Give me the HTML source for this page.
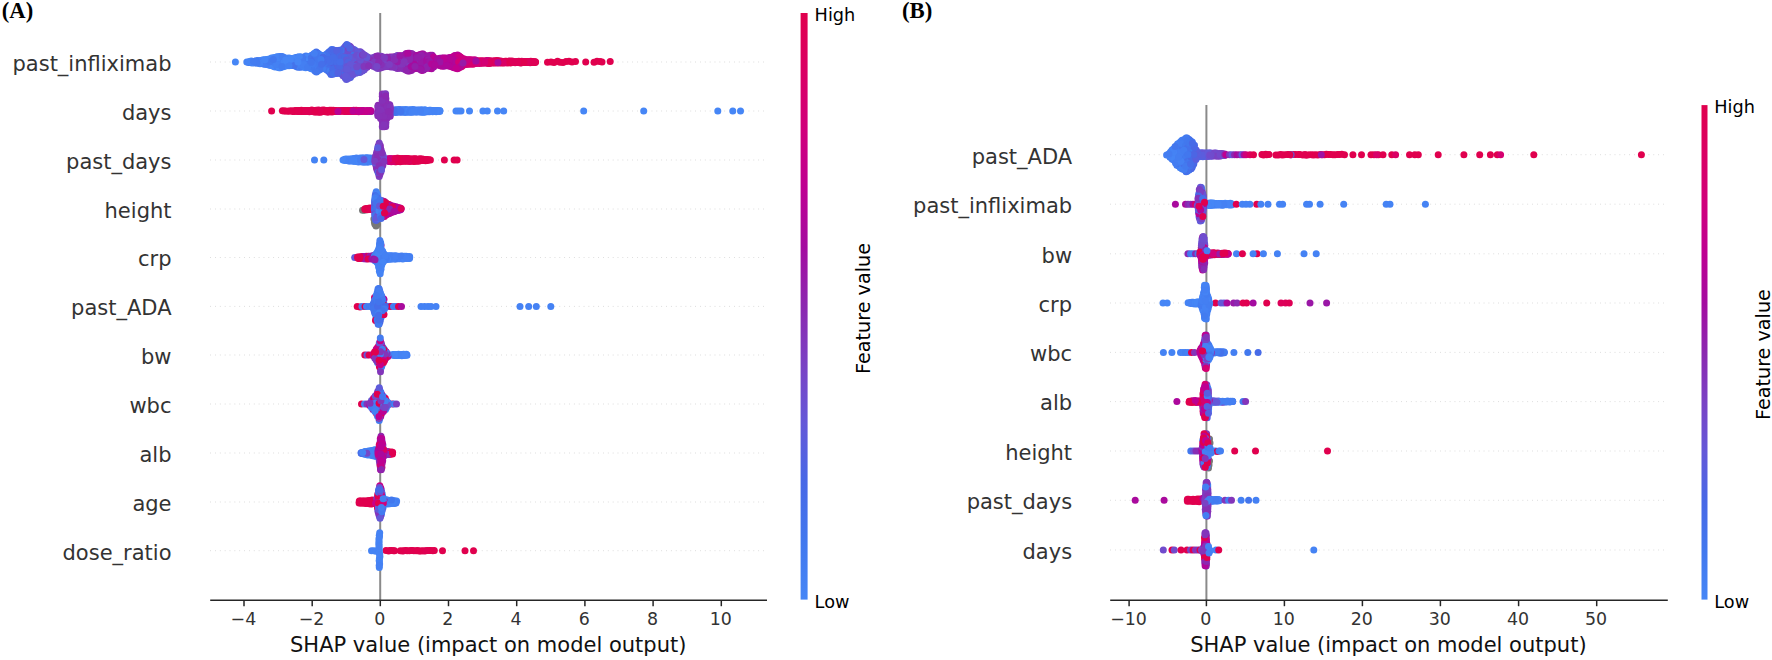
<!DOCTYPE html>
<html lang="en"><head><meta charset="utf-8"><title>SHAP summary plots</title>
<style>html,body{margin:0;padding:0;background:#fff}body{width:1772px;height:660px;overflow:hidden}svg{display:block}</style></head>
<body>
<svg width="1772" height="660" viewBox="0 0 1772 660">
<defs><linearGradient id="cb" x1="0" y1="1" x2="0" y2="0">
<stop offset="0" stop-color="#4686f6"/>
<stop offset="0.1" stop-color="#4278ee"/>
<stop offset="0.2" stop-color="#4868e6"/>
<stop offset="0.3" stop-color="#6458d8"/>
<stop offset="0.4" stop-color="#7a42c4"/>
<stop offset="0.5" stop-color="#8c28b0"/>
<stop offset="0.6" stop-color="#a40ca0"/>
<stop offset="0.7" stop-color="#be0092"/>
<stop offset="0.8" stop-color="#d0007c"/>
<stop offset="0.9" stop-color="#da0064"/>
<stop offset="1" stop-color="#e0004e"/>
</linearGradient></defs>
<rect width="1772" height="660" fill="#fff"/>
<g stroke="#cccccc" stroke-width="0.8" stroke-dasharray="0.8 4.05">
<line x1="210.2" y1="62.0" x2="767.0" y2="62.0"/>
<line x1="210.2" y1="111.0" x2="767.0" y2="111.0"/>
<line x1="210.2" y1="160.0" x2="767.0" y2="160.0"/>
<line x1="210.2" y1="209.0" x2="767.0" y2="209.0"/>
<line x1="210.2" y1="257.5" x2="767.0" y2="257.5"/>
<line x1="210.2" y1="306.4" x2="767.0" y2="306.4"/>
<line x1="210.2" y1="355.0" x2="767.0" y2="355.0"/>
<line x1="210.2" y1="404.0" x2="767.0" y2="404.0"/>
<line x1="210.2" y1="453.0" x2="767.0" y2="453.0"/>
<line x1="210.2" y1="502.0" x2="767.0" y2="502.0"/>
<line x1="210.2" y1="550.7" x2="767.0" y2="550.7"/>
</g>
<line x1="380.2" y1="13.0" x2="380.2" y2="600.3" stroke="#8a8a8a" stroke-width="2"/>
<g stroke="#cccccc" stroke-width="0.8" stroke-dasharray="0.8 4.05">
<line x1="1110.2" y1="154.7" x2="1667.8" y2="154.7"/>
<line x1="1110.2" y1="204.2" x2="1667.8" y2="204.2"/>
<line x1="1110.2" y1="253.8" x2="1667.8" y2="253.8"/>
<line x1="1110.2" y1="303.0" x2="1667.8" y2="303.0"/>
<line x1="1110.2" y1="352.4" x2="1667.8" y2="352.4"/>
<line x1="1110.2" y1="401.6" x2="1667.8" y2="401.6"/>
<line x1="1110.2" y1="451.0" x2="1667.8" y2="451.0"/>
<line x1="1110.2" y1="500.3" x2="1667.8" y2="500.3"/>
<line x1="1110.2" y1="550.0" x2="1667.8" y2="550.0"/>
</g>
<line x1="1206.4" y1="105.0" x2="1206.4" y2="600.3" stroke="#8a8a8a" stroke-width="2"/>
<g id="dots">
<circle cx="366.9" cy="61.8" r="3.5" fill="#7745c7"/>
<circle cx="406.0" cy="59.6" r="3.5" fill="#8f25ae"/>
<circle cx="310.8" cy="64.6" r="3.5" fill="#4375ed"/>
<circle cx="309.2" cy="67.3" r="3.5" fill="#447ff2"/>
<circle cx="411.6" cy="55.0" r="3.5" fill="#971ba8"/>
<circle cx="332.7" cy="52.9" r="3.5" fill="#4967e5"/>
<circle cx="350.1" cy="50.5" r="3.5" fill="#4b66e5"/>
<circle cx="413.4" cy="68.9" r="3.5" fill="#9023ad"/>
<circle cx="424.8" cy="66.7" r="3.5" fill="#9320ab"/>
<circle cx="332.8" cy="59.6" r="3.5" fill="#476ae7"/>
<circle cx="304.6" cy="57.6" r="3.5" fill="#4279ef"/>
<circle cx="375.7" cy="56.5" r="3.5" fill="#872fb5"/>
<circle cx="319.2" cy="64.1" r="3.5" fill="#466ce8"/>
<circle cx="314.7" cy="64.5" r="3.5" fill="#437bf0"/>
<circle cx="335.2" cy="66.4" r="3.5" fill="#4868e6"/>
<circle cx="315.9" cy="68.6" r="3.5" fill="#456fe9"/>
<circle cx="446.8" cy="61.7" r="3.5" fill="#b20598"/>
<circle cx="363.9" cy="69.2" r="3.5" fill="#6c50d0"/>
<circle cx="400.9" cy="59.5" r="3.5" fill="#8c28b0"/>
<circle cx="304.3" cy="57.1" r="3.5" fill="#4374ec"/>
<circle cx="292.1" cy="58.5" r="3.5" fill="#4472eb"/>
<circle cx="518.3" cy="62.5" r="3.5" fill="#db0061"/>
<circle cx="527.4" cy="61.4" r="3.5" fill="#db0061"/>
<circle cx="346.4" cy="53.1" r="3.5" fill="#6755d5"/>
<circle cx="434.8" cy="59.4" r="3.5" fill="#9b17a6"/>
<circle cx="450.3" cy="66.2" r="3.5" fill="#a40ca0"/>
<circle cx="348.3" cy="78.2" r="3.5" fill="#704ccd"/>
<circle cx="327.6" cy="64.4" r="3.5" fill="#466ce8"/>
<circle cx="474.2" cy="63.7" r="3.5" fill="#d5006f"/>
<circle cx="428.3" cy="66.6" r="3.5" fill="#961ca9"/>
<circle cx="404.9" cy="64.2" r="3.5" fill="#8d26af"/>
<circle cx="370.3" cy="62.0" r="3.5" fill="#7448c9"/>
<circle cx="331.6" cy="73.8" r="3.5" fill="#4570ea"/>
<circle cx="356.9" cy="71.3" r="3.5" fill="#5f5bda"/>
<circle cx="511.8" cy="62.6" r="3.5" fill="#df0053"/>
<circle cx="324.7" cy="64.6" r="3.5" fill="#466ce8"/>
<circle cx="419.5" cy="66.5" r="3.5" fill="#a011a3"/>
<circle cx="280.2" cy="67.7" r="3.5" fill="#437bf0"/>
<circle cx="416.8" cy="66.3" r="3.5" fill="#961daa"/>
<circle cx="416.7" cy="62.2" r="3.5" fill="#9024ad"/>
<circle cx="444.9" cy="66.0" r="3.5" fill="#a70b9f"/>
<circle cx="437.2" cy="58.9" r="3.5" fill="#b20598"/>
<circle cx="331.7" cy="52.5" r="3.5" fill="#4869e7"/>
<circle cx="316.5" cy="64.4" r="3.5" fill="#4472eb"/>
<circle cx="406.8" cy="55.0" r="3.5" fill="#8c28b0"/>
<circle cx="411.0" cy="68.8" r="3.5" fill="#a40ca0"/>
<circle cx="414.5" cy="59.9" r="3.5" fill="#a30da1"/>
<circle cx="450.6" cy="62.2" r="3.5" fill="#b60496"/>
<circle cx="452.6" cy="61.8" r="3.5" fill="#b20698"/>
<circle cx="455.9" cy="64.6" r="3.5" fill="#b90294"/>
<circle cx="424.8" cy="55.4" r="3.5" fill="#9b17a6"/>
<circle cx="352.2" cy="68.8" r="3.5" fill="#595ede"/>
<circle cx="307.8" cy="61.7" r="3.5" fill="#447ef2"/>
<circle cx="415.0" cy="57.6" r="3.5" fill="#8d27b0"/>
<circle cx="329.4" cy="68.8" r="3.5" fill="#466de9"/>
<circle cx="258.0" cy="62.2" r="3.5" fill="#4686f6"/>
<circle cx="448.7" cy="62.2" r="3.5" fill="#c50089"/>
<circle cx="494.6" cy="60.8" r="3.5" fill="#db0060"/>
<circle cx="453.6" cy="59.5" r="3.5" fill="#bf0091"/>
<circle cx="489.8" cy="62.0" r="3.5" fill="#e0004f"/>
<circle cx="358.9" cy="51.9" r="3.5" fill="#6755d5"/>
<circle cx="419.8" cy="54.9" r="3.5" fill="#9c16a6"/>
<circle cx="342.1" cy="73.2" r="3.5" fill="#5063e2"/>
<circle cx="462.8" cy="64.1" r="3.5" fill="#d5006f"/>
<circle cx="317.9" cy="54.9" r="3.5" fill="#4473eb"/>
<circle cx="470.8" cy="64.0" r="3.5" fill="#d20077"/>
<circle cx="460.5" cy="62.3" r="3.5" fill="#c80086"/>
<circle cx="456.9" cy="59.5" r="3.5" fill="#c1008f"/>
<circle cx="462.2" cy="59.4" r="3.5" fill="#af079a"/>
<circle cx="411.2" cy="64.0" r="3.5" fill="#9122ad"/>
<circle cx="361.6" cy="57.7" r="3.5" fill="#7547c9"/>
<circle cx="295.4" cy="61.9" r="3.5" fill="#447ff2"/>
<circle cx="532.2" cy="62.3" r="3.5" fill="#dc005d"/>
<circle cx="349.7" cy="53.0" r="3.5" fill="#595ede"/>
<circle cx="380.6" cy="66.4" r="3.5" fill="#7e3cbf"/>
<circle cx="396.4" cy="64.5" r="3.5" fill="#9024ae"/>
<circle cx="433.2" cy="64.4" r="3.5" fill="#9b17a6"/>
<circle cx="326.6" cy="57.6" r="3.5" fill="#476ce8"/>
<circle cx="299.0" cy="57.5" r="3.5" fill="#447ff2"/>
<circle cx="365.9" cy="62.2" r="3.5" fill="#7646c8"/>
<circle cx="506.4" cy="61.3" r="3.5" fill="#dc005b"/>
<circle cx="423.5" cy="70.1" r="3.5" fill="#9b16a6"/>
<circle cx="455.1" cy="55.4" r="3.5" fill="#bc0193"/>
<circle cx="458.9" cy="66.9" r="3.5" fill="#cf007d"/>
<circle cx="382.8" cy="57.6" r="3.5" fill="#892cb3"/>
<circle cx="352.1" cy="71.4" r="3.5" fill="#615ada"/>
<circle cx="447.3" cy="64.3" r="3.5" fill="#bf0090"/>
<circle cx="404.3" cy="69.0" r="3.5" fill="#a20ea1"/>
<circle cx="328.0" cy="62.1" r="3.5" fill="#4376ed"/>
<circle cx="442.1" cy="66.2" r="3.5" fill="#bd0193"/>
<circle cx="356.9" cy="53.0" r="3.5" fill="#5f5bdb"/>
<circle cx="284.4" cy="59.5" r="3.5" fill="#4583f4"/>
<circle cx="353.8" cy="55.0" r="3.5" fill="#4968e6"/>
<circle cx="302.2" cy="64.2" r="3.5" fill="#437cf0"/>
<circle cx="462.3" cy="62.2" r="3.5" fill="#d40071"/>
<circle cx="419.6" cy="62.1" r="3.5" fill="#9023ad"/>
<circle cx="394.6" cy="56.7" r="3.5" fill="#8c28b0"/>
<circle cx="353.8" cy="59.8" r="3.5" fill="#585fde"/>
<circle cx="533.9" cy="61.8" r="3.5" fill="#df0051"/>
<circle cx="349.9" cy="59.8" r="3.5" fill="#4868e6"/>
<circle cx="369.2" cy="62.0" r="3.5" fill="#7646c8"/>
<circle cx="411.0" cy="59.8" r="3.5" fill="#9b16a6"/>
<circle cx="357.0" cy="57.1" r="3.5" fill="#7844c5"/>
<circle cx="331.6" cy="49.4" r="3.5" fill="#437aef"/>
<circle cx="301.1" cy="57.0" r="3.5" fill="#4686f6"/>
<circle cx="312.5" cy="55.0" r="3.5" fill="#466ee9"/>
<circle cx="469.0" cy="59.8" r="3.5" fill="#c60088"/>
<circle cx="388.1" cy="64.3" r="3.5" fill="#8533b8"/>
<circle cx="343.6" cy="59.8" r="3.5" fill="#6953d3"/>
<circle cx="334.4" cy="55.3" r="3.5" fill="#4869e7"/>
<circle cx="295.7" cy="57.4" r="3.5" fill="#4584f5"/>
<circle cx="434.9" cy="64.3" r="3.5" fill="#af079a"/>
<circle cx="494.6" cy="62.9" r="3.5" fill="#d7006c"/>
<circle cx="297.3" cy="64.0" r="3.5" fill="#437cf0"/>
<circle cx="350.3" cy="57.3" r="3.5" fill="#6854d4"/>
<circle cx="356.9" cy="68.9" r="3.5" fill="#5760df"/>
<circle cx="300.9" cy="64.1" r="3.5" fill="#4472eb"/>
<circle cx="369.1" cy="59.7" r="3.5" fill="#8434b9"/>
<circle cx="515.0" cy="61.7" r="3.5" fill="#e0004e"/>
<circle cx="372.7" cy="59.4" r="3.5" fill="#7d3ec1"/>
<circle cx="374.1" cy="59.5" r="3.5" fill="#7c40c2"/>
<circle cx="281.7" cy="67.1" r="3.5" fill="#4584f5"/>
<circle cx="377.8" cy="61.9" r="3.5" fill="#7c40c2"/>
<circle cx="502.8" cy="61.5" r="3.5" fill="#de0054"/>
<circle cx="320.0" cy="59.6" r="3.5" fill="#4376ed"/>
<circle cx="324.4" cy="66.4" r="3.5" fill="#4582f3"/>
<circle cx="331.6" cy="59.6" r="3.5" fill="#4d65e3"/>
<circle cx="467.1" cy="62.0" r="3.5" fill="#d10079"/>
<circle cx="264.9" cy="64.3" r="3.5" fill="#4685f5"/>
<circle cx="315.0" cy="70.9" r="3.5" fill="#4570ea"/>
<circle cx="276.7" cy="57.2" r="3.5" fill="#4684f5"/>
<circle cx="357.3" cy="59.4" r="3.5" fill="#6953d3"/>
<circle cx="330.2" cy="55.0" r="3.5" fill="#4571ea"/>
<circle cx="429.8" cy="59.7" r="3.5" fill="#ad089b"/>
<circle cx="343.6" cy="55.3" r="3.5" fill="#605ada"/>
<circle cx="333.6" cy="71.4" r="3.5" fill="#466ee9"/>
<circle cx="297.1" cy="59.9" r="3.5" fill="#4584f5"/>
<circle cx="316.0" cy="66.5" r="3.5" fill="#4277ee"/>
<circle cx="445.4" cy="64.2" r="3.5" fill="#b40597"/>
<circle cx="508.1" cy="62.6" r="3.5" fill="#e0004f"/>
<circle cx="254.8" cy="61.3" r="3.5" fill="#437aef"/>
<circle cx="442.1" cy="58.1" r="3.5" fill="#a110a2"/>
<circle cx="316.6" cy="71.5" r="3.5" fill="#4278ee"/>
<circle cx="418.1" cy="61.8" r="3.5" fill="#9d14a5"/>
<circle cx="333.6" cy="50.6" r="3.5" fill="#4570ea"/>
<circle cx="360.1" cy="72.3" r="3.5" fill="#6259d9"/>
<circle cx="358.9" cy="62.2" r="3.5" fill="#6259d9"/>
<circle cx="431.5" cy="68.8" r="3.5" fill="#a10fa2"/>
<circle cx="283.4" cy="66.8" r="3.5" fill="#4686f6"/>
<circle cx="335.1" cy="50.8" r="3.5" fill="#476ae7"/>
<circle cx="512.0" cy="61.1" r="3.5" fill="#e0004e"/>
<circle cx="435.0" cy="59.2" r="3.5" fill="#b50497"/>
<circle cx="353.8" cy="66.4" r="3.5" fill="#5d5cdb"/>
<circle cx="404.2" cy="69.1" r="3.5" fill="#7c3ec1"/>
<circle cx="307.9" cy="56.8" r="3.5" fill="#437cf0"/>
<circle cx="377.3" cy="59.8" r="3.5" fill="#8434b9"/>
<circle cx="404.3" cy="59.6" r="3.5" fill="#872fb6"/>
<circle cx="306.0" cy="64.3" r="3.5" fill="#4472eb"/>
<circle cx="354.9" cy="53.0" r="3.5" fill="#605ada"/>
<circle cx="498.6" cy="62.1" r="3.5" fill="#da0065"/>
<circle cx="353.3" cy="68.6" r="3.5" fill="#6755d5"/>
<circle cx="283.8" cy="64.2" r="3.5" fill="#4686f6"/>
<circle cx="420.2" cy="64.5" r="3.5" fill="#941fab"/>
<circle cx="275.6" cy="59.7" r="3.5" fill="#4581f3"/>
<circle cx="281.8" cy="57.3" r="3.5" fill="#4582f4"/>
<circle cx="396.2" cy="57.2" r="3.5" fill="#9221ac"/>
<circle cx="299.4" cy="61.7" r="3.5" fill="#4583f4"/>
<circle cx="486.5" cy="60.4" r="3.5" fill="#dd005a"/>
<circle cx="484.8" cy="63.0" r="3.5" fill="#d7006a"/>
<circle cx="399.5" cy="68.1" r="3.5" fill="#8a2bb3"/>
<circle cx="379.1" cy="59.4" r="3.5" fill="#872fb6"/>
<circle cx="407.9" cy="55.2" r="3.5" fill="#8c28b0"/>
<circle cx="304.2" cy="66.9" r="3.5" fill="#447ef2"/>
<circle cx="409.5" cy="53.3" r="3.5" fill="#9e13a4"/>
<circle cx="379.3" cy="68.0" r="3.5" fill="#8237bb"/>
<circle cx="306.1" cy="57.5" r="3.5" fill="#427aef"/>
<circle cx="482.8" cy="63.2" r="3.5" fill="#d20077"/>
<circle cx="310.8" cy="68.4" r="3.5" fill="#437df1"/>
<circle cx="268.2" cy="59.3" r="3.5" fill="#4686f6"/>
<circle cx="404.4" cy="55.0" r="3.5" fill="#882eb5"/>
<circle cx="409.7" cy="61.8" r="3.5" fill="#9123ad"/>
<circle cx="377.7" cy="68.4" r="3.5" fill="#7b41c3"/>
<circle cx="313.2" cy="69.0" r="3.5" fill="#4583f4"/>
<circle cx="346.7" cy="75.9" r="3.5" fill="#5560df"/>
<circle cx="280.4" cy="61.9" r="3.5" fill="#447ff2"/>
<circle cx="343.0" cy="50.8" r="3.5" fill="#5262e1"/>
<circle cx="350.4" cy="77.6" r="3.5" fill="#4f64e3"/>
<circle cx="380.9" cy="57.6" r="3.5" fill="#8533b8"/>
<circle cx="345.3" cy="71.4" r="3.5" fill="#5e5cdb"/>
<circle cx="414.6" cy="68.1" r="3.5" fill="#a10fa2"/>
<circle cx="407.9" cy="70.9" r="3.5" fill="#9919a8"/>
<circle cx="304.7" cy="59.7" r="3.5" fill="#447ef1"/>
<circle cx="270.0" cy="59.1" r="3.5" fill="#4686f6"/>
<circle cx="341.5" cy="66.9" r="3.5" fill="#6656d6"/>
<circle cx="290.3" cy="61.9" r="3.5" fill="#4581f3"/>
<circle cx="433.7" cy="57.7" r="3.5" fill="#a50b9f"/>
<circle cx="354.9" cy="69.1" r="3.5" fill="#7745c7"/>
<circle cx="423.2" cy="64.3" r="3.5" fill="#951eaa"/>
<circle cx="441.8" cy="62.0" r="3.5" fill="#a60b9f"/>
<circle cx="406.3" cy="64.6" r="3.5" fill="#8335ba"/>
<circle cx="309.1" cy="57.0" r="3.5" fill="#437bf0"/>
<circle cx="339.9" cy="71.4" r="3.5" fill="#476ae7"/>
<circle cx="252.1" cy="62.0" r="3.5" fill="#437bf0"/>
<circle cx="463.9" cy="64.6" r="3.5" fill="#c60088"/>
<circle cx="520.0" cy="61.6" r="3.5" fill="#e0004e"/>
<circle cx="407.7" cy="64.2" r="3.5" fill="#9221ac"/>
<circle cx="478.1" cy="61.7" r="3.5" fill="#d30074"/>
<circle cx="355.8" cy="64.3" r="3.5" fill="#5760df"/>
<circle cx="428.5" cy="57.3" r="3.5" fill="#a90a9e"/>
<circle cx="399.2" cy="57.3" r="3.5" fill="#9f11a3"/>
<circle cx="410.1" cy="66.4" r="3.5" fill="#8f25ae"/>
<circle cx="354.8" cy="61.9" r="3.5" fill="#4d65e4"/>
<circle cx="338.2" cy="55.3" r="3.5" fill="#585fde"/>
<circle cx="292.9" cy="64.6" r="3.5" fill="#437aef"/>
<circle cx="343.4" cy="52.6" r="3.5" fill="#615ad9"/>
<circle cx="472.6" cy="62.0" r="3.5" fill="#c80086"/>
<circle cx="459.3" cy="56.1" r="3.5" fill="#ca0083"/>
<circle cx="302.6" cy="59.8" r="3.5" fill="#4480f2"/>
<circle cx="372.6" cy="58.3" r="3.5" fill="#7e3cbf"/>
<circle cx="375.9" cy="66.5" r="3.5" fill="#8236bb"/>
<circle cx="353.2" cy="50.5" r="3.5" fill="#4d65e4"/>
<circle cx="392.3" cy="59.5" r="3.5" fill="#981aa8"/>
<circle cx="350.2" cy="71.2" r="3.5" fill="#4868e6"/>
<circle cx="359.2" cy="64.5" r="3.5" fill="#7646c8"/>
<circle cx="260.6" cy="62.1" r="3.5" fill="#4686f6"/>
<circle cx="348.4" cy="52.9" r="3.5" fill="#5760df"/>
<circle cx="382.4" cy="64.6" r="3.5" fill="#7a41c4"/>
<circle cx="411.8" cy="57.6" r="3.5" fill="#8b2ab1"/>
<circle cx="489.8" cy="60.7" r="3.5" fill="#d80069"/>
<circle cx="411.3" cy="62.0" r="3.5" fill="#9d14a5"/>
<circle cx="391.1" cy="59.7" r="3.5" fill="#8336ba"/>
<circle cx="295.6" cy="64.5" r="3.5" fill="#4376ed"/>
<circle cx="268.6" cy="62.0" r="3.5" fill="#4584f5"/>
<circle cx="279.0" cy="56.7" r="3.5" fill="#4278ee"/>
<circle cx="328.1" cy="52.8" r="3.5" fill="#4375ed"/>
<circle cx="280.9" cy="66.7" r="3.5" fill="#437cf0"/>
<circle cx="415.2" cy="55.8" r="3.5" fill="#9320ab"/>
<circle cx="445.2" cy="59.5" r="3.5" fill="#bc0193"/>
<circle cx="457.0" cy="66.3" r="3.5" fill="#aa099d"/>
<circle cx="322.9" cy="64.1" r="3.5" fill="#4473ec"/>
<circle cx="261.7" cy="60.3" r="3.5" fill="#427aef"/>
<circle cx="402.9" cy="56.1" r="3.5" fill="#8236bb"/>
<circle cx="336.8" cy="57.7" r="3.5" fill="#5461e0"/>
<circle cx="315.8" cy="52.8" r="3.5" fill="#4375ec"/>
<circle cx="411.7" cy="53.5" r="3.5" fill="#8d27b0"/>
<circle cx="499.3" cy="63.0" r="3.5" fill="#da0064"/>
<circle cx="324.6" cy="62.0" r="3.5" fill="#466ee9"/>
<circle cx="402.9" cy="64.3" r="3.5" fill="#892cb3"/>
<circle cx="339.9" cy="57.3" r="3.5" fill="#6458d8"/>
<circle cx="427.2" cy="56.0" r="3.5" fill="#9b17a6"/>
<circle cx="297.2" cy="66.5" r="3.5" fill="#4471eb"/>
<circle cx="299.0" cy="59.4" r="3.5" fill="#4686f6"/>
<circle cx="384.7" cy="66.7" r="3.5" fill="#8f24ae"/>
<circle cx="406.1" cy="66.8" r="3.5" fill="#8a2bb3"/>
<circle cx="346.4" cy="79.6" r="3.5" fill="#615ad9"/>
<circle cx="341.6" cy="52.7" r="3.5" fill="#575fde"/>
<circle cx="520.5" cy="62.9" r="3.5" fill="#db0060"/>
<circle cx="407.7" cy="66.7" r="3.5" fill="#9919a8"/>
<circle cx="276.7" cy="62.2" r="3.5" fill="#4686f6"/>
<circle cx="385.9" cy="60.0" r="3.5" fill="#8039bd"/>
<circle cx="326.3" cy="54.3" r="3.5" fill="#4374ec"/>
<circle cx="416.4" cy="59.7" r="3.5" fill="#9d14a5"/>
<circle cx="421.9" cy="70.5" r="3.5" fill="#a50b9f"/>
<circle cx="386.1" cy="64.2" r="3.5" fill="#803abe"/>
<circle cx="419.5" cy="59.6" r="3.5" fill="#951daa"/>
<circle cx="378.8" cy="66.4" r="3.5" fill="#803abe"/>
<circle cx="458.7" cy="57.3" r="3.5" fill="#c0008f"/>
<circle cx="506.5" cy="62.1" r="3.5" fill="#df0052"/>
<circle cx="300.7" cy="57.2" r="3.5" fill="#4480f2"/>
<circle cx="421.7" cy="66.9" r="3.5" fill="#971ba9"/>
<circle cx="354.0" cy="64.4" r="3.5" fill="#575fde"/>
<circle cx="325.1" cy="68.5" r="3.5" fill="#4570ea"/>
<circle cx="270.6" cy="64.5" r="3.5" fill="#447ff2"/>
<circle cx="346.5" cy="71.3" r="3.5" fill="#4a67e5"/>
<circle cx="452.0" cy="64.4" r="3.5" fill="#b60496"/>
<circle cx="248.6" cy="62.4" r="3.5" fill="#4279ef"/>
<circle cx="381.1" cy="56.3" r="3.5" fill="#7d3dc0"/>
<circle cx="326.1" cy="59.6" r="3.5" fill="#4474ec"/>
<circle cx="507.1" cy="62.9" r="3.5" fill="#df0053"/>
<circle cx="467.1" cy="64.2" r="3.5" fill="#d40071"/>
<circle cx="358.6" cy="66.7" r="3.5" fill="#724acb"/>
<circle cx="348.8" cy="66.5" r="3.5" fill="#5c5ddc"/>
<circle cx="413.3" cy="55.0" r="3.5" fill="#882eb5"/>
<circle cx="365.1" cy="68.1" r="3.5" fill="#6a52d3"/>
<circle cx="285.2" cy="62.0" r="3.5" fill="#4686f6"/>
<circle cx="401.3" cy="57.1" r="3.5" fill="#a90a9d"/>
<circle cx="535.1" cy="62.4" r="3.5" fill="#e0004e"/>
<circle cx="443.8" cy="65.9" r="3.5" fill="#a30da0"/>
<circle cx="419.7" cy="68.9" r="3.5" fill="#9c15a5"/>
<circle cx="494.4" cy="62.0" r="3.5" fill="#dc005b"/>
<circle cx="423.0" cy="55.0" r="3.5" fill="#9919a7"/>
<circle cx="260.0" cy="63.7" r="3.5" fill="#4686f6"/>
<circle cx="370.4" cy="64.5" r="3.5" fill="#8d27b0"/>
<circle cx="316.3" cy="59.6" r="3.5" fill="#4581f3"/>
<circle cx="402.7" cy="59.8" r="3.5" fill="#714bcd"/>
<circle cx="456.9" cy="62.0" r="3.5" fill="#bd0093"/>
<circle cx="500.2" cy="62.2" r="3.5" fill="#dd005b"/>
<circle cx="424.8" cy="57.4" r="3.5" fill="#9d14a4"/>
<circle cx="401.6" cy="62.0" r="3.5" fill="#7646c8"/>
<circle cx="261.6" cy="63.6" r="3.5" fill="#437aef"/>
<circle cx="321.5" cy="61.8" r="3.5" fill="#4375ed"/>
<circle cx="353.4" cy="73.5" r="3.5" fill="#5163e1"/>
<circle cx="419.6" cy="57.5" r="3.5" fill="#951daa"/>
<circle cx="523.9" cy="61.7" r="3.5" fill="#dd0057"/>
<circle cx="271.7" cy="64.3" r="3.5" fill="#4686f6"/>
<circle cx="428.2" cy="62.2" r="3.5" fill="#9a18a7"/>
<circle cx="258.0" cy="60.5" r="3.5" fill="#447ef1"/>
<circle cx="290.7" cy="58.4" r="3.5" fill="#4684f5"/>
<circle cx="392.6" cy="64.4" r="3.5" fill="#8b29b1"/>
<circle cx="314.0" cy="61.7" r="3.5" fill="#4374ec"/>
<circle cx="462.1" cy="58.2" r="3.5" fill="#c80085"/>
<circle cx="292.7" cy="60.0" r="3.5" fill="#4480f3"/>
<circle cx="348.9" cy="73.7" r="3.5" fill="#5461e0"/>
<circle cx="400.7" cy="55.8" r="3.5" fill="#9c15a5"/>
<circle cx="423.6" cy="57.5" r="3.5" fill="#b40597"/>
<circle cx="430.4" cy="55.3" r="3.5" fill="#b60496"/>
<circle cx="324.3" cy="59.7" r="3.5" fill="#476be8"/>
<circle cx="363.6" cy="57.4" r="3.5" fill="#8039bd"/>
<circle cx="279.1" cy="66.6" r="3.5" fill="#4686f6"/>
<circle cx="453.7" cy="64.1" r="3.5" fill="#b30598"/>
<circle cx="345.2" cy="78.0" r="3.5" fill="#605bda"/>
<circle cx="336.8" cy="68.8" r="3.5" fill="#5362e1"/>
<circle cx="294.5" cy="59.8" r="3.5" fill="#447ff2"/>
<circle cx="358.2" cy="68.8" r="3.5" fill="#605ada"/>
<circle cx="435.4" cy="61.9" r="3.5" fill="#b90295"/>
<circle cx="527.2" cy="61.8" r="3.5" fill="#dc005c"/>
<circle cx="263.5" cy="64.1" r="3.5" fill="#437df1"/>
<circle cx="331.6" cy="66.8" r="3.5" fill="#4472eb"/>
<circle cx="370.4" cy="58.1" r="3.5" fill="#7c3fc1"/>
<circle cx="336.8" cy="73.6" r="3.5" fill="#4571eb"/>
<circle cx="475.9" cy="63.4" r="3.5" fill="#d40072"/>
<circle cx="341.3" cy="55.3" r="3.5" fill="#4b66e4"/>
<circle cx="331.1" cy="57.7" r="3.5" fill="#4571ea"/>
<circle cx="436.8" cy="61.8" r="3.5" fill="#b30598"/>
<circle cx="317.8" cy="69.2" r="3.5" fill="#4279ef"/>
<circle cx="287.3" cy="59.4" r="3.5" fill="#447ef2"/>
<circle cx="458.8" cy="67.9" r="3.5" fill="#c5008a"/>
<circle cx="415.2" cy="62.1" r="3.5" fill="#9a18a7"/>
<circle cx="272.2" cy="65.7" r="3.5" fill="#4686f6"/>
<circle cx="373.6" cy="57.6" r="3.5" fill="#7943c5"/>
<circle cx="313.1" cy="57.4" r="3.5" fill="#456fe9"/>
<circle cx="343.6" cy="48.2" r="3.5" fill="#5461e0"/>
<circle cx="340.4" cy="73.3" r="3.5" fill="#5461e0"/>
<circle cx="365.7" cy="57.3" r="3.5" fill="#6656d6"/>
<circle cx="365.8" cy="64.4" r="3.5" fill="#724acc"/>
<circle cx="348.9" cy="45.8" r="3.5" fill="#6953d3"/>
<circle cx="500.1" cy="61.0" r="3.5" fill="#de0056"/>
<circle cx="345.2" cy="48.1" r="3.5" fill="#4d65e4"/>
<circle cx="319.4" cy="69.7" r="3.5" fill="#4278ee"/>
<circle cx="350.2" cy="46.6" r="3.5" fill="#7943c5"/>
<circle cx="399.4" cy="62.0" r="3.5" fill="#7d3ec1"/>
<circle cx="308.2" cy="66.7" r="3.5" fill="#4277ee"/>
<circle cx="417.8" cy="68.6" r="3.5" fill="#8f25ae"/>
<circle cx="355.4" cy="50.6" r="3.5" fill="#4a67e5"/>
<circle cx="392.9" cy="57.1" r="3.5" fill="#892db4"/>
<circle cx="331.8" cy="68.8" r="3.5" fill="#4571ea"/>
<circle cx="287.5" cy="58.2" r="3.5" fill="#4582f4"/>
<circle cx="396.0" cy="62.0" r="3.5" fill="#8433b8"/>
<circle cx="452.0" cy="57.4" r="3.5" fill="#c1008f"/>
<circle cx="270.0" cy="59.8" r="3.5" fill="#4685f5"/>
<circle cx="433.3" cy="59.9" r="3.5" fill="#9d14a5"/>
<circle cx="257.2" cy="61.9" r="3.5" fill="#4686f6"/>
<circle cx="313.3" cy="66.4" r="3.5" fill="#4480f3"/>
<circle cx="358.8" cy="59.6" r="3.5" fill="#5362e0"/>
<circle cx="525.2" cy="61.7" r="3.5" fill="#dc005c"/>
<circle cx="289.1" cy="58.1" r="3.5" fill="#4686f6"/>
<circle cx="273.6" cy="57.8" r="3.5" fill="#4481f3"/>
<circle cx="404.5" cy="57.3" r="3.5" fill="#8b2ab1"/>
<circle cx="461.1" cy="59.6" r="3.5" fill="#c70088"/>
<circle cx="354.9" cy="54.8" r="3.5" fill="#6458d8"/>
<circle cx="343.0" cy="57.4" r="3.5" fill="#476ae7"/>
<circle cx="280.3" cy="56.6" r="3.5" fill="#437aef"/>
<circle cx="312.3" cy="68.9" r="3.5" fill="#4584f5"/>
<circle cx="432.2" cy="55.2" r="3.5" fill="#9a18a7"/>
<circle cx="457.6" cy="55.1" r="3.5" fill="#ba0294"/>
<circle cx="361.7" cy="64.4" r="3.5" fill="#6d4fd0"/>
<circle cx="487.6" cy="61.9" r="3.5" fill="#dc005e"/>
<circle cx="530.8" cy="61.2" r="3.5" fill="#de0056"/>
<circle cx="341.3" cy="69.0" r="3.5" fill="#476ae7"/>
<circle cx="382.8" cy="59.6" r="3.5" fill="#8334ba"/>
<circle cx="533.5" cy="62.2" r="3.5" fill="#e0004e"/>
<circle cx="396.4" cy="67.9" r="3.5" fill="#8730b6"/>
<circle cx="345.2" cy="66.6" r="3.5" fill="#4b66e4"/>
<circle cx="346.7" cy="73.2" r="3.5" fill="#595edd"/>
<circle cx="289.0" cy="59.6" r="3.5" fill="#4686f6"/>
<circle cx="518.8" cy="62.0" r="3.5" fill="#dd005b"/>
<circle cx="326.3" cy="64.5" r="3.5" fill="#466ee9"/>
<circle cx="356.8" cy="62.3" r="3.5" fill="#6d4fd0"/>
<circle cx="360.3" cy="51.8" r="3.5" fill="#7547c9"/>
<circle cx="503.4" cy="62.0" r="3.5" fill="#de0056"/>
<circle cx="273.5" cy="66.2" r="3.5" fill="#4480f3"/>
<circle cx="276.7" cy="66.4" r="3.5" fill="#4583f4"/>
<circle cx="321.1" cy="69.1" r="3.5" fill="#4571ea"/>
<circle cx="393.1" cy="62.0" r="3.5" fill="#9122ad"/>
<circle cx="308.1" cy="59.7" r="3.5" fill="#437cf0"/>
<circle cx="386.3" cy="61.7" r="3.5" fill="#8138bd"/>
<circle cx="322.9" cy="66.8" r="3.5" fill="#447ef1"/>
<circle cx="375.8" cy="64.4" r="3.5" fill="#8532b8"/>
<circle cx="310.7" cy="59.4" r="3.5" fill="#4374ec"/>
<circle cx="410.1" cy="64.4" r="3.5" fill="#8b29b1"/>
<circle cx="397.4" cy="55.6" r="3.5" fill="#8237bb"/>
<circle cx="504.5" cy="61.8" r="3.5" fill="#dd0057"/>
<circle cx="273.8" cy="62.0" r="3.5" fill="#4571ea"/>
<circle cx="355.2" cy="59.5" r="3.5" fill="#615ada"/>
<circle cx="354.0" cy="49.4" r="3.5" fill="#5560df"/>
<circle cx="341.8" cy="71.1" r="3.5" fill="#466de9"/>
<circle cx="513.0" cy="61.9" r="3.5" fill="#dc005c"/>
<circle cx="507.8" cy="62.3" r="3.5" fill="#dd0058"/>
<circle cx="479.6" cy="60.7" r="3.5" fill="#db005f"/>
<circle cx="339.5" cy="55.0" r="3.5" fill="#476ce8"/>
<circle cx="437.1" cy="64.5" r="3.5" fill="#9f12a3"/>
<circle cx="350.2" cy="54.9" r="3.5" fill="#605ada"/>
<circle cx="260.4" cy="60.4" r="3.5" fill="#4584f5"/>
<circle cx="274.0" cy="64.6" r="3.5" fill="#437bf0"/>
<circle cx="304.8" cy="62.2" r="3.5" fill="#437df1"/>
<circle cx="389.0" cy="59.8" r="3.5" fill="#7c3fc2"/>
<circle cx="303.9" cy="66.8" r="3.5" fill="#447ff2"/>
<circle cx="334.7" cy="73.5" r="3.5" fill="#4b66e5"/>
<circle cx="372.2" cy="62.3" r="3.5" fill="#9122ac"/>
<circle cx="281.9" cy="62.3" r="3.5" fill="#4583f4"/>
<circle cx="335.1" cy="71.2" r="3.5" fill="#4570ea"/>
<circle cx="350.3" cy="62.2" r="3.5" fill="#7349cb"/>
<circle cx="390.5" cy="64.2" r="3.5" fill="#8b2ab1"/>
<circle cx="351.7" cy="64.5" r="3.5" fill="#5063e2"/>
<circle cx="328.3" cy="71.1" r="3.5" fill="#4570ea"/>
<circle cx="411.3" cy="70.5" r="3.5" fill="#9221ac"/>
<circle cx="409.4" cy="71.0" r="3.5" fill="#961daa"/>
<circle cx="349.9" cy="68.7" r="3.5" fill="#5b5ddd"/>
<circle cx="394.7" cy="62.1" r="3.5" fill="#8039bd"/>
<circle cx="348.1" cy="76.0" r="3.5" fill="#5163e2"/>
<circle cx="252.0" cy="63.0" r="3.5" fill="#447ff2"/>
<circle cx="448.4" cy="64.3" r="3.5" fill="#bf0091"/>
<circle cx="288.6" cy="61.9" r="3.5" fill="#4686f6"/>
<circle cx="309.1" cy="57.6" r="3.5" fill="#4480f2"/>
<circle cx="460.8" cy="57.2" r="3.5" fill="#ca0083"/>
<circle cx="409.6" cy="69.0" r="3.5" fill="#a50b9f"/>
<circle cx="531.9" cy="61.6" r="3.5" fill="#df0050"/>
<circle cx="528.5" cy="61.9" r="3.5" fill="#df0051"/>
<circle cx="341.6" cy="74.0" r="3.5" fill="#4a67e5"/>
<circle cx="343.1" cy="71.0" r="3.5" fill="#5660df"/>
<circle cx="476.3" cy="60.6" r="3.5" fill="#d6006e"/>
<circle cx="501.5" cy="62.2" r="3.5" fill="#da0063"/>
<circle cx="343.0" cy="75.7" r="3.5" fill="#6a52d3"/>
<circle cx="470.8" cy="59.7" r="3.5" fill="#cc0080"/>
<circle cx="348.7" cy="78.0" r="3.5" fill="#605ada"/>
<circle cx="421.9" cy="53.9" r="3.5" fill="#ad089b"/>
<circle cx="409.8" cy="55.0" r="3.5" fill="#9024ae"/>
<circle cx="329.8" cy="72.6" r="3.5" fill="#4869e6"/>
<circle cx="418.0" cy="64.1" r="3.5" fill="#951eaa"/>
<circle cx="373.7" cy="64.3" r="3.5" fill="#8335ba"/>
<circle cx="450.6" cy="59.4" r="3.5" fill="#c2008d"/>
<circle cx="486.6" cy="63.1" r="3.5" fill="#d30075"/>
<circle cx="343.2" cy="73.3" r="3.5" fill="#6953d4"/>
<circle cx="418.2" cy="66.6" r="3.5" fill="#a20ea1"/>
<circle cx="438.7" cy="58.8" r="3.5" fill="#c1008e"/>
<circle cx="287.4" cy="64.4" r="3.5" fill="#4685f5"/>
<circle cx="345.3" cy="46.2" r="3.5" fill="#615ada"/>
<circle cx="464.3" cy="58.9" r="3.5" fill="#c4008b"/>
<circle cx="253.0" cy="61.8" r="3.5" fill="#4686f6"/>
<circle cx="325.9" cy="68.9" r="3.5" fill="#4570ea"/>
<circle cx="351.4" cy="75.7" r="3.5" fill="#5760df"/>
<circle cx="343.8" cy="68.7" r="3.5" fill="#5b5ddd"/>
<circle cx="269.0" cy="59.6" r="3.5" fill="#4686f6"/>
<circle cx="285.2" cy="58.2" r="3.5" fill="#4480f3"/>
<circle cx="436.9" cy="65.1" r="3.5" fill="#af079a"/>
<circle cx="300.6" cy="61.8" r="3.5" fill="#437df1"/>
<circle cx="282.0" cy="64.2" r="3.5" fill="#437cf0"/>
<circle cx="314.9" cy="54.8" r="3.5" fill="#4277ee"/>
<circle cx="358.6" cy="55.2" r="3.5" fill="#724acc"/>
<circle cx="479.8" cy="62.0" r="3.5" fill="#d6006e"/>
<circle cx="399.5" cy="66.8" r="3.5" fill="#8c29b0"/>
<circle cx="400.0" cy="64.3" r="3.5" fill="#8433b8"/>
<circle cx="513.4" cy="62.5" r="3.5" fill="#dc005d"/>
<circle cx="363.4" cy="61.7" r="3.5" fill="#7646c8"/>
<circle cx="390.9" cy="62.1" r="3.5" fill="#9221ac"/>
<circle cx="477.5" cy="61.0" r="3.5" fill="#db0060"/>
<circle cx="351.8" cy="59.7" r="3.5" fill="#4c66e4"/>
<circle cx="381.0" cy="61.8" r="3.5" fill="#7e3dc0"/>
<circle cx="320.0" cy="66.6" r="3.5" fill="#4376ed"/>
<circle cx="484.2" cy="61.0" r="3.5" fill="#d20078"/>
<circle cx="527.3" cy="62.4" r="3.5" fill="#e0004e"/>
<circle cx="404.5" cy="55.2" r="3.5" fill="#8433b9"/>
<circle cx="372.8" cy="65.3" r="3.5" fill="#7745c7"/>
<circle cx="396.1" cy="59.7" r="3.5" fill="#8d27af"/>
<circle cx="267.0" cy="59.4" r="3.5" fill="#4686f6"/>
<circle cx="296.2" cy="66.6" r="3.5" fill="#437cf1"/>
<circle cx="338.0" cy="62.1" r="3.5" fill="#6557d7"/>
<circle cx="450.2" cy="57.6" r="3.5" fill="#c4008b"/>
<circle cx="457.7" cy="64.2" r="3.5" fill="#c1008e"/>
<circle cx="379.1" cy="64.3" r="3.5" fill="#7e3cbf"/>
<circle cx="346.5" cy="48.3" r="3.5" fill="#6359d9"/>
<circle cx="263.5" cy="59.7" r="3.5" fill="#4686f6"/>
<circle cx="351.6" cy="66.6" r="3.5" fill="#5e5bdb"/>
<circle cx="350.7" cy="75.5" r="3.5" fill="#5561e0"/>
<circle cx="337.9" cy="69.0" r="3.5" fill="#4571ea"/>
<circle cx="412.6" cy="57.3" r="3.5" fill="#9123ad"/>
<circle cx="316.6" cy="61.8" r="3.5" fill="#4474ec"/>
<circle cx="470.7" cy="61.7" r="3.5" fill="#d6006f"/>
<circle cx="454.1" cy="56.1" r="3.5" fill="#bb0193"/>
<circle cx="326.4" cy="66.5" r="3.5" fill="#476ce8"/>
<circle cx="313.1" cy="54.4" r="3.5" fill="#4472eb"/>
<circle cx="314.3" cy="57.3" r="3.5" fill="#466de8"/>
<circle cx="275.0" cy="62.3" r="3.5" fill="#4686f6"/>
<circle cx="427.9" cy="64.1" r="3.5" fill="#9c15a5"/>
<circle cx="390.8" cy="66.9" r="3.5" fill="#8335ba"/>
<circle cx="439.0" cy="59.8" r="3.5" fill="#a10fa2"/>
<circle cx="439.8" cy="58.3" r="3.5" fill="#a70b9e"/>
<circle cx="390.7" cy="57.1" r="3.5" fill="#971ba9"/>
<circle cx="528.7" cy="61.7" r="3.5" fill="#dc005b"/>
<circle cx="267.0" cy="62.2" r="3.5" fill="#437df1"/>
<circle cx="397.9" cy="64.3" r="3.5" fill="#9b17a6"/>
<circle cx="501.5" cy="63.0" r="3.5" fill="#de0054"/>
<circle cx="328.1" cy="54.8" r="3.5" fill="#4570ea"/>
<circle cx="264.7" cy="62.2" r="3.5" fill="#4582f4"/>
<circle cx="413.2" cy="61.8" r="3.5" fill="#a80a9e"/>
<circle cx="317.9" cy="53.3" r="3.5" fill="#466ee9"/>
<circle cx="501.7" cy="61.3" r="3.5" fill="#dc005b"/>
<circle cx="331.7" cy="62.2" r="3.5" fill="#4d65e4"/>
<circle cx="315.9" cy="57.6" r="3.5" fill="#437aef"/>
<circle cx="460.8" cy="67.0" r="3.5" fill="#d0007b"/>
<circle cx="319.2" cy="54.9" r="3.5" fill="#466fe9"/>
<circle cx="337.9" cy="60.0" r="3.5" fill="#4968e6"/>
<circle cx="339.6" cy="64.1" r="3.5" fill="#5063e2"/>
<circle cx="332.8" cy="61.8" r="3.5" fill="#476ce8"/>
<circle cx="367.2" cy="56.8" r="3.5" fill="#6b51d2"/>
<circle cx="356.6" cy="51.7" r="3.5" fill="#6458d8"/>
<circle cx="382.4" cy="62.0" r="3.5" fill="#882eb4"/>
<circle cx="354.8" cy="57.5" r="3.5" fill="#7844c6"/>
<circle cx="268.7" cy="65.0" r="3.5" fill="#4581f3"/>
<circle cx="460.7" cy="57.6" r="3.5" fill="#cc0080"/>
<circle cx="351.7" cy="52.7" r="3.5" fill="#5c5cdc"/>
<circle cx="275.0" cy="66.9" r="3.5" fill="#4686f6"/>
<circle cx="360.1" cy="52.6" r="3.5" fill="#6d4fd0"/>
<circle cx="368.6" cy="58.0" r="3.5" fill="#7d3ec1"/>
<circle cx="352.0" cy="73.7" r="3.5" fill="#6f4dce"/>
<circle cx="299.7" cy="67.0" r="3.5" fill="#4583f5"/>
<circle cx="451.8" cy="66.5" r="3.5" fill="#c80086"/>
<circle cx="389.4" cy="66.6" r="3.5" fill="#892db4"/>
<circle cx="317.6" cy="66.4" r="3.5" fill="#437bf0"/>
<circle cx="336.7" cy="71.3" r="3.5" fill="#4571ea"/>
<circle cx="386.4" cy="57.3" r="3.5" fill="#8138bc"/>
<circle cx="278.7" cy="57.4" r="3.5" fill="#4582f4"/>
<circle cx="364.2" cy="59.4" r="3.5" fill="#7844c6"/>
<circle cx="261.5" cy="62.1" r="3.5" fill="#447ef2"/>
<circle cx="366.9" cy="66.9" r="3.5" fill="#8236bb"/>
<circle cx="280.3" cy="57.2" r="3.5" fill="#4584f5"/>
<circle cx="384.3" cy="61.9" r="3.5" fill="#8c28b0"/>
<circle cx="285.6" cy="64.5" r="3.5" fill="#447ef1"/>
<circle cx="396.6" cy="56.2" r="3.5" fill="#7a42c4"/>
<circle cx="423.1" cy="61.8" r="3.5" fill="#a10fa2"/>
<circle cx="418.2" cy="55.6" r="3.5" fill="#ab099c"/>
<circle cx="329.5" cy="60.0" r="3.5" fill="#437aef"/>
<circle cx="362.1" cy="66.3" r="3.5" fill="#6953d4"/>
<circle cx="375.9" cy="57.1" r="3.5" fill="#8236bb"/>
<circle cx="388.9" cy="62.0" r="3.5" fill="#8c28b0"/>
<circle cx="345.2" cy="73.5" r="3.5" fill="#4a67e5"/>
<circle cx="297.5" cy="57.2" r="3.5" fill="#4686f6"/>
<circle cx="332.0" cy="55.1" r="3.5" fill="#4473ec"/>
<circle cx="345.2" cy="55.2" r="3.5" fill="#5163e1"/>
<circle cx="267.2" cy="59.7" r="3.5" fill="#4686f6"/>
<circle cx="331.1" cy="64.3" r="3.5" fill="#5461e0"/>
<circle cx="296.1" cy="59.5" r="3.5" fill="#4481f3"/>
<circle cx="360.0" cy="69.1" r="3.5" fill="#6c50d1"/>
<circle cx="321.1" cy="55.2" r="3.5" fill="#4278ee"/>
<circle cx="318.4" cy="70.6" r="3.5" fill="#447ff2"/>
<circle cx="423.4" cy="66.7" r="3.5" fill="#a010a2"/>
<circle cx="297.9" cy="67.2" r="3.5" fill="#4375ec"/>
<circle cx="329.8" cy="66.9" r="3.5" fill="#4869e7"/>
<circle cx="316.3" cy="52.1" r="3.5" fill="#4570ea"/>
<circle cx="380.8" cy="59.7" r="3.5" fill="#8335ba"/>
<circle cx="350.2" cy="73.5" r="3.5" fill="#5362e0"/>
<circle cx="321.4" cy="66.4" r="3.5" fill="#466ee9"/>
<circle cx="249.8" cy="62.2" r="3.5" fill="#437df1"/>
<circle cx="360.8" cy="71.2" r="3.5" fill="#5d5cdb"/>
<circle cx="463.7" cy="61.8" r="3.5" fill="#c80086"/>
<circle cx="377.0" cy="57.5" r="3.5" fill="#8334ba"/>
<circle cx="277.4" cy="66.9" r="3.5" fill="#447df1"/>
<circle cx="338.6" cy="50.9" r="3.5" fill="#466ee9"/>
<circle cx="448.7" cy="57.7" r="3.5" fill="#b00699"/>
<circle cx="297.6" cy="57.2" r="3.5" fill="#4279ef"/>
<circle cx="387.2" cy="62.1" r="3.5" fill="#9221ac"/>
<circle cx="348.3" cy="71.2" r="3.5" fill="#6656d6"/>
<circle cx="399.4" cy="59.8" r="3.5" fill="#951daa"/>
<circle cx="455.9" cy="57.3" r="3.5" fill="#c3008c"/>
<circle cx="301.3" cy="60.0" r="3.5" fill="#4583f4"/>
<circle cx="311.3" cy="55.6" r="3.5" fill="#447df1"/>
<circle cx="342.0" cy="62.3" r="3.5" fill="#6259d9"/>
<circle cx="338.7" cy="53.1" r="3.5" fill="#5561e0"/>
<circle cx="421.3" cy="57.2" r="3.5" fill="#951eaa"/>
<circle cx="431.4" cy="62.2" r="3.5" fill="#a30da1"/>
<circle cx="346.3" cy="50.5" r="3.5" fill="#6656d6"/>
<circle cx="339.8" cy="59.7" r="3.5" fill="#4868e6"/>
<circle cx="458.6" cy="59.7" r="3.5" fill="#cd0080"/>
<circle cx="346.7" cy="45.7" r="3.5" fill="#6e4ecf"/>
<circle cx="293.7" cy="62.0" r="3.5" fill="#447ef1"/>
<circle cx="309.9" cy="66.5" r="3.5" fill="#4279ef"/>
<circle cx="305.9" cy="55.9" r="3.5" fill="#447ef2"/>
<circle cx="334.5" cy="62.2" r="3.5" fill="#5760df"/>
<circle cx="431.3" cy="57.5" r="3.5" fill="#af079a"/>
<circle cx="348.0" cy="55.2" r="3.5" fill="#5b5ddd"/>
<circle cx="285.8" cy="65.9" r="3.5" fill="#4581f3"/>
<circle cx="416.1" cy="64.4" r="3.5" fill="#8f24ae"/>
<circle cx="279.2" cy="59.5" r="3.5" fill="#437cf0"/>
<circle cx="493.1" cy="61.1" r="3.5" fill="#da0064"/>
<circle cx="328.1" cy="66.4" r="3.5" fill="#437aef"/>
<circle cx="397.8" cy="60.0" r="3.5" fill="#8433b9"/>
<circle cx="445.5" cy="58.1" r="3.5" fill="#b70396"/>
<circle cx="412.9" cy="69.0" r="3.5" fill="#9c16a5"/>
<circle cx="522.1" cy="61.8" r="3.5" fill="#e0004e"/>
<circle cx="447.2" cy="58.5" r="3.5" fill="#a9099d"/>
<circle cx="424.9" cy="61.8" r="3.5" fill="#a010a3"/>
<circle cx="255.3" cy="62.9" r="3.5" fill="#447ff2"/>
<circle cx="351.4" cy="48.0" r="3.5" fill="#6e4ecf"/>
<circle cx="453.9" cy="57.5" r="3.5" fill="#b0079a"/>
<circle cx="293.6" cy="58.2" r="3.5" fill="#4686f6"/>
<circle cx="331.4" cy="71.0" r="3.5" fill="#5262e1"/>
<circle cx="365.3" cy="55.5" r="3.5" fill="#6d4fd0"/>
<circle cx="346.7" cy="55.4" r="3.5" fill="#4e65e3"/>
<circle cx="423.2" cy="59.9" r="3.5" fill="#9d14a4"/>
<circle cx="406.2" cy="68.7" r="3.5" fill="#971ba9"/>
<circle cx="330.1" cy="57.7" r="3.5" fill="#456fe9"/>
<circle cx="280.3" cy="59.5" r="3.5" fill="#4278ee"/>
<circle cx="457.6" cy="57.2" r="3.5" fill="#cc0081"/>
<circle cx="376.0" cy="59.7" r="3.5" fill="#8039bd"/>
<circle cx="355.5" cy="71.0" r="3.5" fill="#5d5cdb"/>
<circle cx="366.8" cy="67.3" r="3.5" fill="#7d3ec1"/>
<circle cx="329.5" cy="52.7" r="3.5" fill="#466de9"/>
<circle cx="525.0" cy="62.6" r="3.5" fill="#e0004e"/>
<circle cx="270.7" cy="65.5" r="3.5" fill="#4686f6"/>
<circle cx="334.6" cy="52.6" r="3.5" fill="#4868e6"/>
<circle cx="306.1" cy="62.2" r="3.5" fill="#4481f3"/>
<circle cx="348.5" cy="59.6" r="3.5" fill="#575fde"/>
<circle cx="515.1" cy="62.8" r="3.5" fill="#db0061"/>
<circle cx="353.8" cy="62.2" r="3.5" fill="#5c5ddc"/>
<circle cx="465.3" cy="64.5" r="3.5" fill="#c4008a"/>
<circle cx="292.8" cy="61.8" r="3.5" fill="#4480f3"/>
<circle cx="327.7" cy="68.9" r="3.5" fill="#4869e7"/>
<circle cx="355.5" cy="73.3" r="3.5" fill="#4e64e3"/>
<circle cx="344.9" cy="50.6" r="3.5" fill="#6358d8"/>
<circle cx="337.1" cy="59.5" r="3.5" fill="#5d5cdb"/>
<circle cx="460.4" cy="64.5" r="3.5" fill="#d0007c"/>
<circle cx="413.4" cy="54.8" r="3.5" fill="#951eaa"/>
<circle cx="326.5" cy="69.8" r="3.5" fill="#4474ec"/>
<circle cx="290.8" cy="64.0" r="3.5" fill="#4686f6"/>
<circle cx="347.2" cy="78.1" r="3.5" fill="#605ada"/>
<circle cx="352.3" cy="61.7" r="3.5" fill="#5f5bdb"/>
<circle cx="337.0" cy="66.3" r="3.5" fill="#4a67e5"/>
<circle cx="393.0" cy="67.0" r="3.5" fill="#7e3dc0"/>
<circle cx="443.5" cy="59.9" r="3.5" fill="#b0079a"/>
<circle cx="438.2" cy="64.8" r="3.5" fill="#af079a"/>
<circle cx="334.6" cy="59.8" r="3.5" fill="#4473eb"/>
<circle cx="330.2" cy="64.6" r="3.5" fill="#466ee9"/>
<circle cx="438.8" cy="61.9" r="3.5" fill="#be0092"/>
<circle cx="403.0" cy="66.5" r="3.5" fill="#882eb4"/>
<circle cx="345.4" cy="52.9" r="3.5" fill="#6557d8"/>
<circle cx="332.9" cy="66.7" r="3.5" fill="#466ee9"/>
<circle cx="407.9" cy="61.8" r="3.5" fill="#a011a3"/>
<circle cx="454.4" cy="61.7" r="3.5" fill="#b20598"/>
<circle cx="335.2" cy="69.0" r="3.5" fill="#5064e2"/>
<circle cx="307.5" cy="57.1" r="3.5" fill="#4686f6"/>
<circle cx="363.7" cy="54.9" r="3.5" fill="#6854d4"/>
<circle cx="445.2" cy="62.3" r="3.5" fill="#b70396"/>
<circle cx="452.6" cy="56.9" r="3.5" fill="#be0092"/>
<circle cx="489.6" cy="63.4" r="3.5" fill="#da0063"/>
<circle cx="363.9" cy="64.5" r="3.5" fill="#575fdf"/>
<circle cx="314.9" cy="69.0" r="3.5" fill="#4278ee"/>
<circle cx="465.4" cy="59.8" r="3.5" fill="#d6006e"/>
<circle cx="340.0" cy="52.6" r="3.5" fill="#605ada"/>
<circle cx="366.7" cy="60.0" r="3.5" fill="#6f4dce"/>
<circle cx="271.7" cy="59.6" r="3.5" fill="#4583f5"/>
<circle cx="360.5" cy="62.2" r="3.5" fill="#6f4dce"/>
<circle cx="450.7" cy="64.6" r="3.5" fill="#b50497"/>
<circle cx="305.7" cy="60.0" r="3.5" fill="#437bef"/>
<circle cx="336.3" cy="55.3" r="3.5" fill="#476be8"/>
<circle cx="330.1" cy="71.0" r="3.5" fill="#437cf0"/>
<circle cx="341.4" cy="50.4" r="3.5" fill="#5f5bdb"/>
<circle cx="442.5" cy="59.4" r="3.5" fill="#aa099d"/>
<circle cx="345.5" cy="68.9" r="3.5" fill="#6557d7"/>
<circle cx="397.8" cy="66.6" r="3.5" fill="#882eb5"/>
<circle cx="481.3" cy="61.9" r="3.5" fill="#d0007b"/>
<circle cx="524.9" cy="61.4" r="3.5" fill="#de0054"/>
<circle cx="426.5" cy="64.3" r="3.5" fill="#a40ca0"/>
<circle cx="371.9" cy="64.2" r="3.5" fill="#7d3dc0"/>
<circle cx="348.1" cy="45.7" r="3.5" fill="#5f5bda"/>
<circle cx="263.6" cy="62.2" r="3.5" fill="#4686f6"/>
<circle cx="370.2" cy="59.9" r="3.5" fill="#8a2bb2"/>
<circle cx="498.4" cy="60.8" r="3.5" fill="#d90066"/>
<circle cx="425.2" cy="68.8" r="3.5" fill="#a40ca0"/>
<circle cx="425.2" cy="64.0" r="3.5" fill="#ab099c"/>
<circle cx="329.5" cy="51.6" r="3.5" fill="#466ce8"/>
<circle cx="397.7" cy="68.6" r="3.5" fill="#8630b6"/>
<circle cx="382.1" cy="67.3" r="3.5" fill="#7349ca"/>
<circle cx="309.2" cy="62.0" r="3.5" fill="#427aef"/>
<circle cx="439.8" cy="59.7" r="3.5" fill="#aa099d"/>
<circle cx="272.5" cy="62.2" r="3.5" fill="#447ef2"/>
<circle cx="362.4" cy="59.5" r="3.5" fill="#6755d5"/>
<circle cx="378.6" cy="55.9" r="3.5" fill="#7844c6"/>
<circle cx="444.1" cy="64.4" r="3.5" fill="#9c16a6"/>
<circle cx="530.2" cy="62.7" r="3.5" fill="#e0004e"/>
<circle cx="300.6" cy="66.4" r="3.5" fill="#447ff2"/>
<circle cx="479.5" cy="63.5" r="3.5" fill="#d6006d"/>
<circle cx="251.3" cy="61.1" r="3.5" fill="#4686f6"/>
<circle cx="299.6" cy="66.4" r="3.5" fill="#4686f6"/>
<circle cx="357.4" cy="72.7" r="3.5" fill="#5f5bda"/>
<circle cx="336.6" cy="53.0" r="3.5" fill="#4278ee"/>
<circle cx="267.3" cy="64.6" r="3.5" fill="#4686f6"/>
<circle cx="353.4" cy="52.8" r="3.5" fill="#605ada"/>
<circle cx="421.5" cy="64.1" r="3.5" fill="#9a17a6"/>
<circle cx="302.5" cy="57.7" r="3.5" fill="#437aef"/>
<circle cx="523.7" cy="61.8" r="3.5" fill="#de0057"/>
<circle cx="334.7" cy="57.3" r="3.5" fill="#605ada"/>
<circle cx="351.4" cy="50.6" r="3.5" fill="#6b51d1"/>
<circle cx="345.0" cy="59.9" r="3.5" fill="#5461e0"/>
<circle cx="375.8" cy="62.0" r="3.5" fill="#7f3bbf"/>
<circle cx="294.4" cy="64.3" r="3.5" fill="#4582f4"/>
<circle cx="425.3" cy="59.7" r="3.5" fill="#8d27af"/>
<circle cx="275.5" cy="64.4" r="3.5" fill="#4481f3"/>
<circle cx="258.9" cy="63.3" r="3.5" fill="#4686f6"/>
<circle cx="482.5" cy="60.7" r="3.5" fill="#d6006d"/>
<circle cx="343.2" cy="64.2" r="3.5" fill="#6358d8"/>
<circle cx="359.1" cy="72.6" r="3.5" fill="#6656d6"/>
<circle cx="360.4" cy="66.4" r="3.5" fill="#6b51d2"/>
<circle cx="503.5" cy="62.9" r="3.5" fill="#df0053"/>
<circle cx="275.0" cy="57.6" r="3.5" fill="#4686f6"/>
<circle cx="417.9" cy="59.5" r="3.5" fill="#8a2bb2"/>
<circle cx="364.3" cy="69.8" r="3.5" fill="#724acb"/>
<circle cx="423.2" cy="53.9" r="3.5" fill="#a011a3"/>
<circle cx="463.8" cy="65.0" r="3.5" fill="#c90084"/>
<circle cx="447.5" cy="59.6" r="3.5" fill="#c2008d"/>
<circle cx="412.6" cy="59.4" r="3.5" fill="#9919a7"/>
<circle cx="402.5" cy="67.8" r="3.5" fill="#8a2cb3"/>
<circle cx="433.1" cy="66.5" r="3.5" fill="#9320ab"/>
<circle cx="341.4" cy="50.2" r="3.5" fill="#466ee9"/>
<circle cx="333.4" cy="64.0" r="3.5" fill="#5163e2"/>
<circle cx="328.1" cy="57.2" r="3.5" fill="#4869e7"/>
<circle cx="351.9" cy="55.0" r="3.5" fill="#466de8"/>
<circle cx="464.3" cy="59.9" r="3.5" fill="#cc0081"/>
<circle cx="394.8" cy="64.1" r="3.5" fill="#8a2bb3"/>
<circle cx="416.5" cy="55.5" r="3.5" fill="#a10fa2"/>
<circle cx="280.1" cy="64.4" r="3.5" fill="#4581f3"/>
<circle cx="348.1" cy="50.7" r="3.5" fill="#6d4fd0"/>
<circle cx="417.0" cy="68.5" r="3.5" fill="#a60b9f"/>
<circle cx="326.7" cy="61.8" r="3.5" fill="#4473ec"/>
<circle cx="454.0" cy="67.7" r="3.5" fill="#ba0294"/>
<circle cx="345.0" cy="64.0" r="3.5" fill="#5e5bdb"/>
<circle cx="404.2" cy="66.8" r="3.5" fill="#882eb5"/>
<circle cx="361.9" cy="52.9" r="3.5" fill="#704ccd"/>
<circle cx="374.3" cy="62.0" r="3.5" fill="#7f3bbe"/>
<circle cx="287.3" cy="65.5" r="3.5" fill="#4686f6"/>
<circle cx="406.3" cy="57.6" r="3.5" fill="#9122ad"/>
<circle cx="341.4" cy="59.7" r="3.5" fill="#476ae7"/>
<circle cx="325.1" cy="57.7" r="3.5" fill="#4473ec"/>
<circle cx="403.2" cy="62.1" r="3.5" fill="#8b29b1"/>
<circle cx="377.1" cy="64.5" r="3.5" fill="#7d3ec1"/>
<circle cx="353.9" cy="57.2" r="3.5" fill="#585fde"/>
<circle cx="487.9" cy="60.4" r="3.5" fill="#cb0082"/>
<circle cx="289.2" cy="64.1" r="3.5" fill="#4582f4"/>
<circle cx="309.4" cy="59.5" r="3.5" fill="#4685f6"/>
<circle cx="246.8" cy="61.9" r="3.5" fill="#4583f4"/>
<circle cx="253.6" cy="62.8" r="3.5" fill="#4686f6"/>
<circle cx="365.8" cy="66.9" r="3.5" fill="#7646c8"/>
<circle cx="346.8" cy="64.6" r="3.5" fill="#6953d3"/>
<circle cx="516.9" cy="61.7" r="3.5" fill="#df0051"/>
<circle cx="313.3" cy="59.5" r="3.5" fill="#4473eb"/>
<circle cx="532.3" cy="62.1" r="3.5" fill="#e0004e"/>
<circle cx="361.7" cy="61.7" r="3.5" fill="#7745c7"/>
<circle cx="336.9" cy="64.3" r="3.5" fill="#4967e5"/>
<circle cx="360.7" cy="57.4" r="3.5" fill="#7c3fc2"/>
<circle cx="335.3" cy="64.1" r="3.5" fill="#4967e5"/>
<circle cx="428.0" cy="67.9" r="3.5" fill="#ac089c"/>
<circle cx="389.1" cy="57.2" r="3.5" fill="#882eb5"/>
<circle cx="341.7" cy="64.5" r="3.5" fill="#5461e0"/>
<circle cx="319.1" cy="61.9" r="3.5" fill="#4582f3"/>
<circle cx="468.9" cy="64.3" r="3.5" fill="#d50071"/>
<circle cx="343.7" cy="62.1" r="3.5" fill="#5262e1"/>
<circle cx="469.6" cy="61.9" r="3.5" fill="#d40072"/>
<circle cx="338.5" cy="57.5" r="3.5" fill="#4869e6"/>
<circle cx="493.2" cy="61.9" r="3.5" fill="#dc005e"/>
<circle cx="347.1" cy="61.9" r="3.5" fill="#6b51d2"/>
<circle cx="311.3" cy="57.7" r="3.5" fill="#4375ec"/>
<circle cx="344.8" cy="62.1" r="3.5" fill="#5f5bda"/>
<circle cx="486.5" cy="62.2" r="3.5" fill="#da0063"/>
<circle cx="394.5" cy="67.1" r="3.5" fill="#8039bd"/>
<circle cx="482.6" cy="62.2" r="3.5" fill="#dc005d"/>
<circle cx="318.2" cy="64.2" r="3.5" fill="#4279ef"/>
<circle cx="496.8" cy="60.6" r="3.5" fill="#de0054"/>
<circle cx="322.5" cy="59.9" r="3.5" fill="#4278ee"/>
<circle cx="368.6" cy="64.0" r="3.5" fill="#7547c9"/>
<circle cx="402.5" cy="57.2" r="3.5" fill="#8e26af"/>
<circle cx="348.8" cy="64.5" r="3.5" fill="#6a52d2"/>
<circle cx="351.8" cy="57.4" r="3.5" fill="#6656d6"/>
<circle cx="508.7" cy="61.3" r="3.5" fill="#db0061"/>
<circle cx="312.7" cy="61.9" r="3.5" fill="#447ff2"/>
<circle cx="330.3" cy="61.8" r="3.5" fill="#466de8"/>
<circle cx="472.5" cy="59.9" r="3.5" fill="#ca0084"/>
<circle cx="457.4" cy="68.8" r="3.5" fill="#c2008e"/>
<circle cx="331.0" cy="74.4" r="3.5" fill="#476ce8"/>
<circle cx="474.2" cy="62.3" r="3.5" fill="#ce007e"/>
<circle cx="392.6" cy="57.5" r="3.5" fill="#7c3fc2"/>
<circle cx="452.3" cy="67.0" r="3.5" fill="#bc0193"/>
<circle cx="346.8" cy="57.5" r="3.5" fill="#6557d7"/>
<circle cx="341.5" cy="57.2" r="3.5" fill="#4e65e3"/>
<circle cx="282.2" cy="59.7" r="3.5" fill="#4582f4"/>
<circle cx="530.0" cy="61.8" r="3.5" fill="#dd0058"/>
<circle cx="370.8" cy="65.6" r="3.5" fill="#7448c9"/>
<circle cx="337.9" cy="71.4" r="3.5" fill="#4473ec"/>
<circle cx="301.0" cy="67.2" r="3.5" fill="#437bf0"/>
<circle cx="454.2" cy="66.6" r="3.5" fill="#bb0194"/>
<circle cx="448.6" cy="59.4" r="3.5" fill="#b20598"/>
<circle cx="387.4" cy="57.2" r="3.5" fill="#8e26af"/>
<circle cx="348.9" cy="57.3" r="3.5" fill="#575fdf"/>
<circle cx="348.6" cy="47.9" r="3.5" fill="#7745c7"/>
<circle cx="357.2" cy="64.0" r="3.5" fill="#7646c8"/>
<circle cx="290.9" cy="65.4" r="3.5" fill="#4686f6"/>
<circle cx="256.3" cy="60.7" r="3.5" fill="#437bf0"/>
<circle cx="387.2" cy="66.4" r="3.5" fill="#8335ba"/>
<circle cx="509.7" cy="60.9" r="3.5" fill="#dc005c"/>
<circle cx="332.8" cy="55.2" r="3.5" fill="#4b66e5"/>
<circle cx="249.4" cy="61.4" r="3.5" fill="#4685f6"/>
<circle cx="332.9" cy="74.2" r="3.5" fill="#5362e1"/>
<circle cx="432.1" cy="59.5" r="3.5" fill="#a10fa2"/>
<circle cx="350.2" cy="66.7" r="3.5" fill="#4868e6"/>
<circle cx="492.8" cy="62.9" r="3.5" fill="#dc005e"/>
<circle cx="440.2" cy="64.2" r="3.5" fill="#af079a"/>
<circle cx="535.6" cy="62.0" r="3.5" fill="#e0004e"/>
<circle cx="462.0" cy="66.3" r="3.5" fill="#d50070"/>
<circle cx="455.6" cy="60.0" r="3.5" fill="#c3008c"/>
<circle cx="401.3" cy="66.7" r="3.5" fill="#7d3dc1"/>
<circle cx="320.0" cy="57.2" r="3.5" fill="#4868e6"/>
<circle cx="505.1" cy="61.3" r="3.5" fill="#e0004e"/>
<circle cx="346.8" cy="44.6" r="3.5" fill="#4a67e5"/>
<circle cx="344.7" cy="57.5" r="3.5" fill="#4868e6"/>
<circle cx="481.3" cy="63.1" r="3.5" fill="#d6006f"/>
<circle cx="427.0" cy="57.1" r="3.5" fill="#9a18a7"/>
<circle cx="408.2" cy="59.6" r="3.5" fill="#951eaa"/>
<circle cx="394.7" cy="57.6" r="3.5" fill="#8531b7"/>
<circle cx="432.1" cy="66.3" r="3.5" fill="#a60b9f"/>
<circle cx="521.4" cy="62.8" r="3.5" fill="#e0004e"/>
<circle cx="491.0" cy="60.9" r="3.5" fill="#dc005c"/>
<circle cx="496.3" cy="62.1" r="3.5" fill="#da0065"/>
<circle cx="346.5" cy="59.9" r="3.5" fill="#5e5bdb"/>
<circle cx="458.6" cy="64.4" r="3.5" fill="#b30598"/>
<circle cx="491.3" cy="61.8" r="3.5" fill="#d80068"/>
<circle cx="408.3" cy="57.2" r="3.5" fill="#971ca9"/>
<circle cx="378.9" cy="57.6" r="3.5" fill="#8533b8"/>
<circle cx="455.2" cy="66.3" r="3.5" fill="#b10699"/>
<circle cx="321.0" cy="57.5" r="3.5" fill="#4279ee"/>
<circle cx="376.0" cy="67.4" r="3.5" fill="#7943c5"/>
<circle cx="353.9" cy="71.4" r="3.5" fill="#5b5ddc"/>
<circle cx="382.4" cy="66.9" r="3.5" fill="#8a2bb2"/>
<circle cx="465.7" cy="61.8" r="3.5" fill="#cb0082"/>
<circle cx="514.9" cy="62.1" r="3.5" fill="#df0051"/>
<circle cx="319.1" cy="54.3" r="3.5" fill="#4279ef"/>
<circle cx="504.5" cy="62.8" r="3.5" fill="#da0065"/>
<circle cx="325.1" cy="55.5" r="3.5" fill="#456fe9"/>
<circle cx="452.4" cy="59.6" r="3.5" fill="#b40597"/>
<circle cx="430.0" cy="57.1" r="3.5" fill="#8f25ae"/>
<circle cx="428.0" cy="56.1" r="3.5" fill="#9819a8"/>
<circle cx="278.6" cy="61.7" r="3.5" fill="#4581f3"/>
<circle cx="292.3" cy="65.4" r="3.5" fill="#447df1"/>
<circle cx="395.7" cy="66.6" r="3.5" fill="#9122ac"/>
<circle cx="401.1" cy="68.2" r="3.5" fill="#882db4"/>
<circle cx="367.4" cy="64.0" r="3.5" fill="#7547c8"/>
<circle cx="383.7" cy="59.5" r="3.5" fill="#872fb5"/>
<circle cx="422.0" cy="59.8" r="3.5" fill="#9c16a6"/>
<circle cx="332.8" cy="69.2" r="3.5" fill="#476ae7"/>
<circle cx="491.2" cy="62.8" r="3.5" fill="#dc005b"/>
<circle cx="430.1" cy="64.3" r="3.5" fill="#a10fa2"/>
<circle cx="397.7" cy="57.5" r="3.5" fill="#8335ba"/>
<circle cx="441.8" cy="64.3" r="3.5" fill="#9320ab"/>
<circle cx="345.4" cy="75.9" r="3.5" fill="#615ada"/>
<circle cx="349.7" cy="48.3" r="3.5" fill="#5163e1"/>
<circle cx="305.6" cy="67.7" r="3.5" fill="#4686f6"/>
<circle cx="383.0" cy="57.0" r="3.5" fill="#8335ba"/>
<circle cx="406.2" cy="53.4" r="3.5" fill="#9f12a3"/>
<circle cx="433.6" cy="67.0" r="3.5" fill="#a30ea1"/>
<circle cx="472.8" cy="64.2" r="3.5" fill="#d7006c"/>
<circle cx="443.8" cy="57.9" r="3.5" fill="#bb0194"/>
<circle cx="355.0" cy="66.3" r="3.5" fill="#5f5bdb"/>
<circle cx="419.5" cy="54.7" r="3.5" fill="#a80a9e"/>
<circle cx="511.7" cy="61.9" r="3.5" fill="#db0061"/>
<circle cx="481.2" cy="60.9" r="3.5" fill="#d8006a"/>
<circle cx="409.7" cy="57.4" r="3.5" fill="#9123ad"/>
<circle cx="443.6" cy="61.9" r="3.5" fill="#b80395"/>
<circle cx="326.7" cy="54.9" r="3.5" fill="#4471eb"/>
<circle cx="299.4" cy="64.3" r="3.5" fill="#4480f3"/>
<circle cx="360.1" cy="64.5" r="3.5" fill="#714bcc"/>
<circle cx="421.2" cy="62.0" r="3.5" fill="#9a18a7"/>
<circle cx="427.2" cy="59.9" r="3.5" fill="#b50497"/>
<circle cx="406.6" cy="61.9" r="3.5" fill="#7f3bbe"/>
<circle cx="359.0" cy="53.0" r="3.5" fill="#6259d9"/>
<circle cx="433.5" cy="56.9" r="3.5" fill="#ba0294"/>
<circle cx="306.1" cy="66.5" r="3.5" fill="#427aef"/>
<circle cx="380.4" cy="68.0" r="3.5" fill="#8237bb"/>
<circle cx="339.5" cy="50.3" r="3.5" fill="#4868e6"/>
<circle cx="414.3" cy="64.1" r="3.5" fill="#a50c9f"/>
<circle cx="400.9" cy="64.2" r="3.5" fill="#8335ba"/>
<circle cx="284.3" cy="57.5" r="3.5" fill="#4583f4"/>
<circle cx="475.8" cy="62.1" r="3.5" fill="#cb0083"/>
<circle cx="477.8" cy="63.3" r="3.5" fill="#d1007a"/>
<circle cx="343.1" cy="66.6" r="3.5" fill="#585fde"/>
<circle cx="448.5" cy="66.0" r="3.5" fill="#b60497"/>
<circle cx="271.5" cy="57.9" r="3.5" fill="#4685f5"/>
<circle cx="394.4" cy="66.9" r="3.5" fill="#8137bc"/>
<circle cx="455.9" cy="61.9" r="3.5" fill="#af079a"/>
<circle cx="314.3" cy="66.7" r="3.5" fill="#437bf0"/>
<circle cx="276.9" cy="59.5" r="3.5" fill="#4686f6"/>
<circle cx="397.3" cy="61.7" r="3.5" fill="#951eaa"/>
<circle cx="387.6" cy="59.5" r="3.5" fill="#8f24ae"/>
<circle cx="421.3" cy="55.2" r="3.5" fill="#941fab"/>
<circle cx="279.0" cy="64.3" r="3.5" fill="#4480f2"/>
<circle cx="337.9" cy="64.0" r="3.5" fill="#5a5edd"/>
<circle cx="428.0" cy="59.8" r="3.5" fill="#971ca9"/>
<circle cx="365.6" cy="60.0" r="3.5" fill="#7943c5"/>
<circle cx="360.5" cy="59.8" r="3.5" fill="#6854d4"/>
<circle cx="268.6" cy="64.6" r="3.5" fill="#4686f6"/>
<circle cx="356.6" cy="55.3" r="3.5" fill="#6d4fd0"/>
<circle cx="458.6" cy="62.1" r="3.5" fill="#d20077"/>
<circle cx="509.6" cy="61.9" r="3.5" fill="#de0057"/>
<circle cx="250.2" cy="62.1" r="3.5" fill="#4584f5"/>
<circle cx="277.1" cy="56.8" r="3.5" fill="#4583f4"/>
<circle cx="413.3" cy="64.4" r="3.5" fill="#a60b9f"/>
<circle cx="337.8" cy="66.3" r="3.5" fill="#5262e1"/>
<circle cx="407.9" cy="69.1" r="3.5" fill="#941fab"/>
<circle cx="317.6" cy="57.6" r="3.5" fill="#437cf0"/>
<circle cx="314.3" cy="59.6" r="3.5" fill="#456fea"/>
<circle cx="519.8" cy="61.8" r="3.5" fill="#de0057"/>
<circle cx="299.3" cy="56.8" r="3.5" fill="#4685f5"/>
<circle cx="426.8" cy="61.9" r="3.5" fill="#a20fa2"/>
<circle cx="340.5" cy="68.9" r="3.5" fill="#5b5ddc"/>
<circle cx="433.9" cy="62.0" r="3.5" fill="#bb0194"/>
<circle cx="303.0" cy="66.1" r="3.5" fill="#447ff2"/>
<circle cx="308.2" cy="64.4" r="3.5" fill="#4375ec"/>
<circle cx="406.3" cy="70.3" r="3.5" fill="#8f25ae"/>
<circle cx="362.2" cy="68.8" r="3.5" fill="#6656d6"/>
<circle cx="521.7" cy="61.3" r="3.5" fill="#dd005b"/>
<circle cx="302.5" cy="61.9" r="3.5" fill="#437bf0"/>
<circle cx="322.5" cy="68.5" r="3.5" fill="#437cf0"/>
<circle cx="430.2" cy="68.6" r="3.5" fill="#ab099c"/>
<circle cx="284.2" cy="62.1" r="3.5" fill="#4685f5"/>
<circle cx="266.6" cy="64.2" r="3.5" fill="#447ef2"/>
<circle cx="348.2" cy="62.3" r="3.5" fill="#5262e1"/>
<circle cx="430.2" cy="66.3" r="3.5" fill="#ac089c"/>
<circle cx="348.4" cy="68.7" r="3.5" fill="#6458d8"/>
<circle cx="336.7" cy="62.0" r="3.5" fill="#466ce8"/>
<circle cx="255.4" cy="62.2" r="3.5" fill="#4480f2"/>
<circle cx="311.5" cy="66.8" r="3.5" fill="#4278ee"/>
<circle cx="474.8" cy="59.8" r="3.5" fill="#c70087"/>
<circle cx="384.2" cy="64.0" r="3.5" fill="#7b41c3"/>
<circle cx="353.1" cy="74.4" r="3.5" fill="#6854d4"/>
<circle cx="423.3" cy="68.9" r="3.5" fill="#8f25ae"/>
<circle cx="437.3" cy="59.4" r="3.5" fill="#a60b9f"/>
<circle cx="496.7" cy="63.1" r="3.5" fill="#d90066"/>
<circle cx="339.5" cy="66.5" r="3.5" fill="#4b66e4"/>
<circle cx="333.3" cy="73.4" r="3.5" fill="#456fe9"/>
<circle cx="438.6" cy="64.1" r="3.5" fill="#b10699"/>
<circle cx="309.6" cy="64.1" r="3.5" fill="#4278ee"/>
<circle cx="409.6" cy="59.5" r="3.5" fill="#8d27af"/>
<circle cx="427.2" cy="66.7" r="3.5" fill="#8b2ab1"/>
<circle cx="392.4" cy="66.5" r="3.5" fill="#8533b8"/>
<circle cx="318.1" cy="62.2" r="3.5" fill="#4278ee"/>
<circle cx="269.9" cy="61.8" r="3.5" fill="#437bef"/>
<circle cx="286.9" cy="62.2" r="3.5" fill="#4686f6"/>
<circle cx="337.9" cy="73.0" r="3.5" fill="#5262e1"/>
<circle cx="385.9" cy="66.5" r="3.5" fill="#8039bd"/>
<circle cx="279.0" cy="67.7" r="3.5" fill="#4686f6"/>
<circle cx="322.6" cy="55.6" r="3.5" fill="#447ef1"/>
<circle cx="440.3" cy="65.7" r="3.5" fill="#ae079a"/>
<circle cx="277.2" cy="64.6" r="3.5" fill="#4481f3"/>
<circle cx="440.0" cy="61.9" r="3.5" fill="#9d14a4"/>
<circle cx="412.9" cy="66.5" r="3.5" fill="#9b16a6"/>
<circle cx="362.4" cy="71.1" r="3.5" fill="#6953d3"/>
<circle cx="429.9" cy="61.8" r="3.5" fill="#9b17a6"/>
<circle cx="426.5" cy="68.0" r="3.5" fill="#9320ac"/>
<circle cx="384.5" cy="57.7" r="3.5" fill="#7f3abe"/>
<circle cx="323.0" cy="57.2" r="3.5" fill="#476ae7"/>
<circle cx="529.1" cy="62.3" r="3.5" fill="#dc005d"/>
<circle cx="318.0" cy="59.6" r="3.5" fill="#4277ed"/>
<circle cx="381.2" cy="64.4" r="3.5" fill="#8630b6"/>
<circle cx="533.6" cy="62.1" r="3.5" fill="#de0054"/>
<circle cx="524.0" cy="62.5" r="3.5" fill="#e0004f"/>
<circle cx="294.1" cy="65.6" r="3.5" fill="#4473eb"/>
<circle cx="518.8" cy="61.2" r="3.5" fill="#e0004e"/>
<circle cx="377.3" cy="55.9" r="3.5" fill="#8c28b0"/>
<circle cx="331.6" cy="50.6" r="3.5" fill="#476ce8"/>
<circle cx="290.3" cy="59.6" r="3.5" fill="#4686f6"/>
<circle cx="363.9" cy="66.5" r="3.5" fill="#8237bc"/>
<circle cx="394.7" cy="59.8" r="3.5" fill="#892db4"/>
<circle cx="347.2" cy="66.6" r="3.5" fill="#6854d4"/>
<circle cx="350.4" cy="64.5" r="3.5" fill="#6557d7"/>
<circle cx="265.0" cy="59.7" r="3.5" fill="#4686f6"/>
<circle cx="328.1" cy="59.5" r="3.5" fill="#466de9"/>
<circle cx="446.7" cy="65.6" r="3.5" fill="#ae079b"/>
<circle cx="303.8" cy="64.4" r="3.5" fill="#447ff2"/>
<circle cx="307.6" cy="67.3" r="3.5" fill="#437cf0"/>
<circle cx="421.1" cy="69.1" r="3.5" fill="#a010a3"/>
<circle cx="282.3" cy="56.6" r="3.5" fill="#447ef1"/>
<circle cx="319.7" cy="69.0" r="3.5" fill="#4474ec"/>
<circle cx="420.4" cy="69.5" r="3.5" fill="#9b16a6"/>
<circle cx="408.0" cy="53.3" r="3.5" fill="#ac089c"/>
<circle cx="316.0" cy="55.4" r="3.5" fill="#4376ed"/>
<circle cx="378.7" cy="62.2" r="3.5" fill="#8a2bb2"/>
<circle cx="411.2" cy="66.5" r="3.5" fill="#a40ca0"/>
<circle cx="510.4" cy="63.0" r="3.5" fill="#df0051"/>
<circle cx="431.7" cy="64.1" r="3.5" fill="#b30598"/>
<circle cx="358.8" cy="57.6" r="3.5" fill="#6c50d1"/>
<circle cx="273.3" cy="59.6" r="3.5" fill="#4278ee"/>
<circle cx="488.2" cy="63.4" r="3.5" fill="#db005f"/>
<circle cx="289.0" cy="65.7" r="3.5" fill="#4480f3"/>
<circle cx="256.9" cy="62.9" r="3.5" fill="#437bf0"/>
<circle cx="285.7" cy="59.9" r="3.5" fill="#4686f6"/>
<circle cx="460.5" cy="66.5" r="3.5" fill="#b30598"/>
<circle cx="517.2" cy="61.4" r="3.5" fill="#dd0058"/>
<circle cx="360.5" cy="55.3" r="3.5" fill="#6458d8"/>
<circle cx="366.8" cy="57.4" r="3.5" fill="#6656d6"/>
<circle cx="456.1" cy="68.2" r="3.5" fill="#c1008e"/>
<circle cx="416.7" cy="57.6" r="3.5" fill="#971ba9"/>
<circle cx="323.4" cy="62.3" r="3.5" fill="#466ce8"/>
<circle cx="467.5" cy="59.7" r="3.5" fill="#c80086"/>
<circle cx="298.0" cy="62.1" r="3.5" fill="#4685f5"/>
<circle cx="513.2" cy="61.6" r="3.5" fill="#dd0059"/>
<circle cx="314.4" cy="53.2" r="3.5" fill="#447ff2"/>
<circle cx="373.7" cy="66.4" r="3.5" fill="#7d3dc0"/>
<circle cx="434.8" cy="65.1" r="3.5" fill="#ad089b"/>
<circle cx="376.9" cy="66.6" r="3.5" fill="#7646c7"/>
<circle cx="346.8" cy="69.0" r="3.5" fill="#6259d9"/>
<circle cx="418.0" cy="57.6" r="3.5" fill="#951daa"/>
<circle cx="362.4" cy="55.1" r="3.5" fill="#7e3dc0"/>
<circle cx="281.9" cy="66.6" r="3.5" fill="#437df1"/>
<circle cx="535.1" cy="61.7" r="3.5" fill="#de0055"/>
<circle cx="358.2" cy="71.4" r="3.5" fill="#5262e1"/>
<circle cx="484.9" cy="62.0" r="3.5" fill="#d30075"/>
<circle cx="399.9" cy="55.8" r="3.5" fill="#9a18a7"/>
<circle cx="320.9" cy="59.5" r="3.5" fill="#437bf0"/>
<circle cx="368.7" cy="65.8" r="3.5" fill="#8631b7"/>
<circle cx="517.2" cy="62.4" r="3.5" fill="#dd0059"/>
<circle cx="333.1" cy="49.8" r="3.5" fill="#4968e6"/>
<circle cx="321.6" cy="64.3" r="3.5" fill="#456fea"/>
<circle cx="356.8" cy="66.7" r="3.5" fill="#714bcc"/>
<circle cx="316.4" cy="71.9" r="3.5" fill="#4377ed"/>
<circle cx="312.5" cy="64.0" r="3.5" fill="#437bf0"/>
<circle cx="363.6" cy="54.4" r="3.5" fill="#7349ca"/>
<circle cx="333.3" cy="57.4" r="3.5" fill="#466ce8"/>
<circle cx="389.4" cy="64.4" r="3.5" fill="#7d3ec1"/>
<circle cx="497.9" cy="62.8" r="3.5" fill="#df0051"/>
<circle cx="253.5" cy="61.4" r="3.5" fill="#437cf1"/>
<circle cx="404.2" cy="61.7" r="3.5" fill="#8533b8"/>
<circle cx="311.3" cy="62.3" r="3.5" fill="#4376ed"/>
<circle cx="340.1" cy="61.9" r="3.5" fill="#466de9"/>
<circle cx="415.0" cy="66.4" r="3.5" fill="#9320ab"/>
<circle cx="336.7" cy="50.5" r="3.5" fill="#5262e1"/>
<circle cx="463.0" cy="63.0" r="3.5" fill="#981aa8"/>
<circle cx="498.0" cy="62.5" r="3.5" fill="#a90a9d"/>
<circle cx="476.0" cy="61.0" r="3.5" fill="#a40ca0"/>
<circle cx="235.4" cy="62.0" r="3.5" fill="#4686f6"/>
<circle cx="547.5" cy="62.2" r="3.5" fill="#e0004e"/>
<circle cx="551.0" cy="62.0" r="3.5" fill="#e0004e"/>
<circle cx="554.0" cy="62.6" r="3.5" fill="#e0004e"/>
<circle cx="557.5" cy="61.3" r="3.5" fill="#e0004e"/>
<circle cx="560.0" cy="62.3" r="3.5" fill="#e0004e"/>
<circle cx="563.0" cy="62.5" r="3.5" fill="#e0004e"/>
<circle cx="566.0" cy="61.6" r="3.5" fill="#e0004e"/>
<circle cx="569.0" cy="61.2" r="3.5" fill="#e0004e"/>
<circle cx="572.0" cy="61.9" r="3.5" fill="#e0004e"/>
<circle cx="575.5" cy="61.4" r="3.5" fill="#e0004e"/>
<circle cx="585.7" cy="61.9" r="3.5" fill="#e0004e"/>
<circle cx="594.0" cy="62.3" r="3.5" fill="#e0004e"/>
<circle cx="597.0" cy="61.3" r="3.5" fill="#e0004e"/>
<circle cx="600.0" cy="61.4" r="3.5" fill="#e0004e"/>
<circle cx="602.0" cy="62.0" r="3.5" fill="#e0004e"/>
<circle cx="610.2" cy="61.5" r="3.5" fill="#e0004e"/>
<circle cx="271.6" cy="111.0" r="3.5" fill="#e0004e"/>
<circle cx="333.5" cy="111.5" r="3.5" fill="#de0055"/>
<circle cx="310.1" cy="110.5" r="3.5" fill="#e0004e"/>
<circle cx="306.2" cy="110.8" r="3.5" fill="#e0004f"/>
<circle cx="291.4" cy="110.7" r="3.5" fill="#e0004e"/>
<circle cx="341.7" cy="110.9" r="3.5" fill="#db005f"/>
<circle cx="338.3" cy="111.2" r="3.5" fill="#df0052"/>
<circle cx="328.2" cy="111.9" r="3.5" fill="#de0054"/>
<circle cx="363.9" cy="111.2" r="3.5" fill="#ca0084"/>
<circle cx="339.9" cy="110.7" r="3.5" fill="#e0004e"/>
<circle cx="343.5" cy="110.4" r="3.5" fill="#df0051"/>
<circle cx="318.4" cy="110.7" r="3.5" fill="#e0004f"/>
<circle cx="330.1" cy="111.8" r="3.5" fill="#e0004e"/>
<circle cx="366.2" cy="110.9" r="3.5" fill="#bd0092"/>
<circle cx="361.1" cy="111.0" r="3.5" fill="#c60088"/>
<circle cx="285.6" cy="111.0" r="3.5" fill="#df0051"/>
<circle cx="336.6" cy="111.3" r="3.5" fill="#e0004e"/>
<circle cx="314.8" cy="110.8" r="3.5" fill="#e0004e"/>
<circle cx="299.6" cy="111.6" r="3.5" fill="#e0004e"/>
<circle cx="348.5" cy="110.8" r="3.5" fill="#d7006a"/>
<circle cx="321.3" cy="112.0" r="3.5" fill="#df0051"/>
<circle cx="302.9" cy="111.0" r="3.5" fill="#e00050"/>
<circle cx="351.8" cy="110.6" r="3.5" fill="#d7006b"/>
<circle cx="369.6" cy="110.9" r="3.5" fill="#aa099d"/>
<circle cx="327.2" cy="111.9" r="3.5" fill="#e0004e"/>
<circle cx="367.8" cy="110.9" r="3.5" fill="#c60088"/>
<circle cx="353.4" cy="111.3" r="3.5" fill="#d5006f"/>
<circle cx="306.3" cy="110.5" r="3.5" fill="#df0051"/>
<circle cx="363.7" cy="111.2" r="3.5" fill="#ce007f"/>
<circle cx="307.6" cy="110.4" r="3.5" fill="#dd005a"/>
<circle cx="299.0" cy="110.6" r="3.5" fill="#e0004e"/>
<circle cx="336.8" cy="110.7" r="3.5" fill="#e0004e"/>
<circle cx="294.0" cy="111.0" r="3.5" fill="#df0050"/>
<circle cx="337.0" cy="111.2" r="3.5" fill="#e0004e"/>
<circle cx="361.2" cy="111.5" r="3.5" fill="#d0007c"/>
<circle cx="320.1" cy="111.1" r="3.5" fill="#e0004e"/>
<circle cx="323.0" cy="110.8" r="3.5" fill="#df0051"/>
<circle cx="356.1" cy="110.3" r="3.5" fill="#d40073"/>
<circle cx="282.4" cy="110.7" r="3.5" fill="#e0004e"/>
<circle cx="313.4" cy="110.4" r="3.5" fill="#df0050"/>
<circle cx="309.3" cy="110.8" r="3.5" fill="#de0055"/>
<circle cx="308.2" cy="110.8" r="3.5" fill="#e0004e"/>
<circle cx="328.9" cy="110.8" r="3.5" fill="#e0004e"/>
<circle cx="308.5" cy="111.4" r="3.5" fill="#e0004e"/>
<circle cx="301.4" cy="110.3" r="3.5" fill="#e0004e"/>
<circle cx="300.8" cy="110.8" r="3.5" fill="#e0004e"/>
<circle cx="301.6" cy="111.4" r="3.5" fill="#de0057"/>
<circle cx="353.7" cy="110.3" r="3.5" fill="#d80069"/>
<circle cx="347.2" cy="110.8" r="3.5" fill="#db0062"/>
<circle cx="332.0" cy="111.9" r="3.5" fill="#e0004e"/>
<circle cx="326.4" cy="110.9" r="3.5" fill="#e0004e"/>
<circle cx="345.1" cy="111.2" r="3.5" fill="#dd0058"/>
<circle cx="302.6" cy="110.7" r="3.5" fill="#e0004e"/>
<circle cx="295.6" cy="111.1" r="3.5" fill="#e0004e"/>
<circle cx="304.5" cy="110.4" r="3.5" fill="#e0004f"/>
<circle cx="345.9" cy="111.6" r="3.5" fill="#d90067"/>
<circle cx="371.2" cy="111.2" r="3.5" fill="#ac089b"/>
<circle cx="325.2" cy="111.7" r="3.5" fill="#df0051"/>
<circle cx="329.8" cy="110.7" r="3.5" fill="#de0054"/>
<circle cx="350.3" cy="111.5" r="3.5" fill="#da0063"/>
<circle cx="311.3" cy="111.4" r="3.5" fill="#e0004e"/>
<circle cx="366.1" cy="111.2" r="3.5" fill="#c2008d"/>
<circle cx="318.2" cy="112.0" r="3.5" fill="#dd0057"/>
<circle cx="370.7" cy="111.5" r="3.5" fill="#a50ca0"/>
<circle cx="367.4" cy="111.3" r="3.5" fill="#ba0294"/>
<circle cx="344.1" cy="111.2" r="3.5" fill="#db005f"/>
<circle cx="311.8" cy="111.3" r="3.5" fill="#df0050"/>
<circle cx="303.3" cy="111.5" r="3.5" fill="#e0004e"/>
<circle cx="296.1" cy="111.0" r="3.5" fill="#dd0059"/>
<circle cx="363.8" cy="110.6" r="3.5" fill="#c50089"/>
<circle cx="362.7" cy="111.3" r="3.5" fill="#cd0080"/>
<circle cx="366.1" cy="111.5" r="3.5" fill="#c2008d"/>
<circle cx="321.3" cy="110.9" r="3.5" fill="#e0004e"/>
<circle cx="340.4" cy="111.2" r="3.5" fill="#df0053"/>
<circle cx="352.5" cy="110.9" r="3.5" fill="#d10079"/>
<circle cx="289.3" cy="111.0" r="3.5" fill="#df0050"/>
<circle cx="329.6" cy="110.2" r="3.5" fill="#e0004e"/>
<circle cx="360.9" cy="110.7" r="3.5" fill="#d40072"/>
<circle cx="334.8" cy="110.8" r="3.5" fill="#e0004e"/>
<circle cx="328.5" cy="110.5" r="3.5" fill="#e0004e"/>
<circle cx="316.9" cy="111.0" r="3.5" fill="#e0004e"/>
<circle cx="359.3" cy="111.0" r="3.5" fill="#d10078"/>
<circle cx="305.1" cy="111.4" r="3.5" fill="#e0004e"/>
<circle cx="356.9" cy="111.2" r="3.5" fill="#ce007f"/>
<circle cx="284.1" cy="110.9" r="3.5" fill="#e0004e"/>
<circle cx="319.6" cy="112.2" r="3.5" fill="#e0004e"/>
<circle cx="321.5" cy="110.2" r="3.5" fill="#e0004e"/>
<circle cx="348.7" cy="111.5" r="3.5" fill="#da0062"/>
<circle cx="358.7" cy="111.7" r="3.5" fill="#d40072"/>
<circle cx="326.8" cy="110.4" r="3.5" fill="#de0056"/>
<circle cx="331.3" cy="110.2" r="3.5" fill="#e0004e"/>
<circle cx="333.1" cy="110.9" r="3.5" fill="#de0055"/>
<circle cx="297.8" cy="111.1" r="3.5" fill="#df0050"/>
<circle cx="345.2" cy="110.5" r="3.5" fill="#dc005d"/>
<circle cx="315.2" cy="110.5" r="3.5" fill="#e0004e"/>
<circle cx="348.8" cy="110.8" r="3.5" fill="#db0060"/>
<circle cx="342.2" cy="110.4" r="3.5" fill="#dc005b"/>
<circle cx="369.6" cy="110.8" r="3.5" fill="#c00090"/>
<circle cx="312.9" cy="111.3" r="3.5" fill="#e0004e"/>
<circle cx="323.2" cy="109.9" r="3.5" fill="#e0004e"/>
<circle cx="332.0" cy="110.7" r="3.5" fill="#e0004e"/>
<circle cx="335.4" cy="111.4" r="3.5" fill="#e0004e"/>
<circle cx="350.5" cy="110.7" r="3.5" fill="#db005f"/>
<circle cx="350.4" cy="111.0" r="3.5" fill="#da0063"/>
<circle cx="316.4" cy="110.2" r="3.5" fill="#e0004e"/>
<circle cx="325.1" cy="111.3" r="3.5" fill="#df0053"/>
<circle cx="347.5" cy="110.6" r="3.5" fill="#de0054"/>
<circle cx="311.8" cy="110.1" r="3.5" fill="#e0004e"/>
<circle cx="318.5" cy="109.9" r="3.5" fill="#dd0058"/>
<circle cx="369.5" cy="111.2" r="3.5" fill="#a90a9d"/>
<circle cx="323.1" cy="111.5" r="3.5" fill="#e0004e"/>
<circle cx="352.6" cy="111.5" r="3.5" fill="#da0064"/>
<circle cx="362.0" cy="110.8" r="3.5" fill="#d10079"/>
<circle cx="292.7" cy="111.4" r="3.5" fill="#e0004e"/>
<circle cx="343.9" cy="111.1" r="3.5" fill="#df0052"/>
<circle cx="362.1" cy="110.5" r="3.5" fill="#bf0090"/>
<circle cx="294.6" cy="111.2" r="3.5" fill="#e0004e"/>
<circle cx="333.3" cy="110.2" r="3.5" fill="#e0004e"/>
<circle cx="294.0" cy="111.0" r="3.5" fill="#df0052"/>
<circle cx="316.2" cy="111.9" r="3.5" fill="#e0004e"/>
<circle cx="306.6" cy="111.3" r="3.5" fill="#df0052"/>
<circle cx="358.6" cy="110.5" r="3.5" fill="#d20076"/>
<circle cx="346.6" cy="111.4" r="3.5" fill="#de0056"/>
<circle cx="355.9" cy="111.2" r="3.5" fill="#d40073"/>
<circle cx="288.0" cy="111.3" r="3.5" fill="#e0004e"/>
<circle cx="354.3" cy="111.2" r="3.5" fill="#d20076"/>
<circle cx="313.5" cy="111.7" r="3.5" fill="#dd005b"/>
<circle cx="298.0" cy="110.9" r="3.5" fill="#dd0058"/>
<circle cx="304.3" cy="111.3" r="3.5" fill="#df0053"/>
<circle cx="299.2" cy="110.8" r="3.5" fill="#e0004e"/>
<circle cx="324.7" cy="110.2" r="3.5" fill="#e0004e"/>
<circle cx="342.2" cy="111.1" r="3.5" fill="#de0055"/>
<circle cx="338.8" cy="110.7" r="3.5" fill="#df0052"/>
<circle cx="319.8" cy="110.4" r="3.5" fill="#df0053"/>
<circle cx="356.9" cy="110.8" r="3.5" fill="#d90066"/>
<circle cx="357.0" cy="110.4" r="3.5" fill="#d30075"/>
<circle cx="370.5" cy="110.6" r="3.5" fill="#ba0294"/>
<circle cx="355.5" cy="111.2" r="3.5" fill="#d6006e"/>
<circle cx="296.1" cy="110.5" r="3.5" fill="#e0004e"/>
<circle cx="367.1" cy="110.4" r="3.5" fill="#c4008b"/>
<circle cx="309.4" cy="111.7" r="3.5" fill="#de0054"/>
<circle cx="335.5" cy="110.6" r="3.5" fill="#df0053"/>
<circle cx="314.9" cy="112.0" r="3.5" fill="#e0004e"/>
<circle cx="339.9" cy="111.1" r="3.5" fill="#dd005a"/>
<circle cx="298.1" cy="111.6" r="3.5" fill="#df0051"/>
<circle cx="338.7" cy="111.2" r="3.5" fill="#de0056"/>
<circle cx="338.0" cy="111.5" r="3.5" fill="#b90295"/>
<circle cx="353.0" cy="111.0" r="3.5" fill="#b90295"/>
<circle cx="359.0" cy="111.5" r="3.5" fill="#be0092"/>
<circle cx="424.5" cy="111.0" r="3.5" fill="#4686f6"/>
<circle cx="403.9" cy="109.8" r="3.5" fill="#4582f3"/>
<circle cx="392.3" cy="111.2" r="3.5" fill="#4570ea"/>
<circle cx="407.1" cy="112.2" r="3.5" fill="#4582f4"/>
<circle cx="424.4" cy="112.2" r="3.5" fill="#4584f5"/>
<circle cx="396.8" cy="110.8" r="3.5" fill="#4474ec"/>
<circle cx="405.3" cy="112.2" r="3.5" fill="#4684f5"/>
<circle cx="422.8" cy="112.2" r="3.5" fill="#4684f5"/>
<circle cx="405.8" cy="109.6" r="3.5" fill="#4685f5"/>
<circle cx="425.5" cy="110.3" r="3.5" fill="#4686f6"/>
<circle cx="430.6" cy="110.3" r="3.5" fill="#4686f6"/>
<circle cx="404.2" cy="112.2" r="3.5" fill="#447ef2"/>
<circle cx="419.0" cy="110.0" r="3.5" fill="#4583f4"/>
<circle cx="415.5" cy="111.0" r="3.5" fill="#447ff2"/>
<circle cx="410.5" cy="109.9" r="3.5" fill="#4584f5"/>
<circle cx="420.8" cy="112.3" r="3.5" fill="#4584f5"/>
<circle cx="417.6" cy="110.0" r="3.5" fill="#4686f6"/>
<circle cx="427.9" cy="110.8" r="3.5" fill="#4685f6"/>
<circle cx="392.3" cy="112.2" r="3.5" fill="#4473eb"/>
<circle cx="415.4" cy="109.9" r="3.5" fill="#447ff2"/>
<circle cx="437.5" cy="110.4" r="3.5" fill="#4686f6"/>
<circle cx="398.7" cy="112.0" r="3.5" fill="#4473eb"/>
<circle cx="411.0" cy="112.0" r="3.5" fill="#4582f4"/>
<circle cx="436.1" cy="111.8" r="3.5" fill="#4686f6"/>
<circle cx="432.6" cy="111.1" r="3.5" fill="#4686f6"/>
<circle cx="432.6" cy="111.7" r="3.5" fill="#4686f6"/>
<circle cx="400.5" cy="109.8" r="3.5" fill="#4376ed"/>
<circle cx="398.7" cy="111.0" r="3.5" fill="#4279ee"/>
<circle cx="402.4" cy="109.7" r="3.5" fill="#4480f3"/>
<circle cx="391.7" cy="110.0" r="3.5" fill="#4471eb"/>
<circle cx="405.8" cy="111.1" r="3.5" fill="#4480f2"/>
<circle cx="401.8" cy="111.9" r="3.5" fill="#437bf0"/>
<circle cx="439.8" cy="110.7" r="3.5" fill="#4686f6"/>
<circle cx="436.3" cy="110.4" r="3.5" fill="#4582f4"/>
<circle cx="429.6" cy="111.7" r="3.5" fill="#4582f4"/>
<circle cx="412.5" cy="111.2" r="3.5" fill="#447ff2"/>
<circle cx="416.2" cy="111.9" r="3.5" fill="#447ff2"/>
<circle cx="414.1" cy="111.3" r="3.5" fill="#4685f6"/>
<circle cx="439.9" cy="110.8" r="3.5" fill="#4686f6"/>
<circle cx="398.9" cy="109.6" r="3.5" fill="#4278ee"/>
<circle cx="424.7" cy="109.8" r="3.5" fill="#4686f6"/>
<circle cx="428.1" cy="110.4" r="3.5" fill="#4686f6"/>
<circle cx="422.5" cy="111.0" r="3.5" fill="#4685f6"/>
<circle cx="434.0" cy="111.5" r="3.5" fill="#4583f4"/>
<circle cx="409.3" cy="109.8" r="3.5" fill="#4584f5"/>
<circle cx="439.6" cy="111.6" r="3.5" fill="#4686f6"/>
<circle cx="418.9" cy="111.8" r="3.5" fill="#4583f4"/>
<circle cx="395.8" cy="112.4" r="3.5" fill="#4375ec"/>
<circle cx="432.8" cy="110.6" r="3.5" fill="#4480f3"/>
<circle cx="413.7" cy="109.8" r="3.5" fill="#447ff2"/>
<circle cx="395.8" cy="109.8" r="3.5" fill="#4277ee"/>
<circle cx="429.3" cy="111.1" r="3.5" fill="#4584f5"/>
<circle cx="429.4" cy="110.3" r="3.5" fill="#4583f5"/>
<circle cx="421.3" cy="109.8" r="3.5" fill="#4583f4"/>
<circle cx="404.0" cy="111.0" r="3.5" fill="#4686f6"/>
<circle cx="437.5" cy="111.0" r="3.5" fill="#4686f6"/>
<circle cx="417.0" cy="112.1" r="3.5" fill="#4684f5"/>
<circle cx="437.8" cy="111.2" r="3.5" fill="#4684f5"/>
<circle cx="434.5" cy="111.2" r="3.5" fill="#4686f6"/>
<circle cx="436.4" cy="110.7" r="3.5" fill="#4686f6"/>
<circle cx="409.2" cy="110.9" r="3.5" fill="#4480f2"/>
<circle cx="412.5" cy="109.6" r="3.5" fill="#4582f4"/>
<circle cx="407.0" cy="109.9" r="3.5" fill="#447ef2"/>
<circle cx="407.5" cy="110.9" r="3.5" fill="#4686f6"/>
<circle cx="431.6" cy="111.5" r="3.5" fill="#4686f6"/>
<circle cx="397.1" cy="112.1" r="3.5" fill="#4278ee"/>
<circle cx="396.8" cy="110.0" r="3.5" fill="#447ff2"/>
<circle cx="394.1" cy="111.3" r="3.5" fill="#4571eb"/>
<circle cx="426.0" cy="111.7" r="3.5" fill="#4686f6"/>
<circle cx="422.3" cy="110.2" r="3.5" fill="#4583f5"/>
<circle cx="393.9" cy="112.0" r="3.5" fill="#4277ee"/>
<circle cx="427.8" cy="111.8" r="3.5" fill="#4581f3"/>
<circle cx="410.2" cy="111.0" r="3.5" fill="#4480f3"/>
<circle cx="409.5" cy="112.2" r="3.5" fill="#447ff2"/>
<circle cx="418.9" cy="110.8" r="3.5" fill="#4685f5"/>
<circle cx="417.1" cy="111.2" r="3.5" fill="#4685f5"/>
<circle cx="400.6" cy="112.2" r="3.5" fill="#437aef"/>
<circle cx="431.5" cy="110.8" r="3.5" fill="#4685f6"/>
<circle cx="434.3" cy="110.4" r="3.5" fill="#4584f5"/>
<circle cx="395.3" cy="111.0" r="3.5" fill="#4374ec"/>
<circle cx="412.0" cy="112.3" r="3.5" fill="#4583f4"/>
<circle cx="402.2" cy="110.8" r="3.5" fill="#4480f2"/>
<circle cx="393.4" cy="110.0" r="3.5" fill="#4472eb"/>
<circle cx="400.8" cy="111.2" r="3.5" fill="#4277ee"/>
<circle cx="425.9" cy="110.7" r="3.5" fill="#4686f6"/>
<circle cx="420.5" cy="110.8" r="3.5" fill="#4582f4"/>
<circle cx="414.0" cy="111.9" r="3.5" fill="#4583f4"/>
<circle cx="385.4" cy="120.2" r="3.5" fill="#8a2bb3"/>
<circle cx="383.8" cy="111.4" r="3.5" fill="#882eb4"/>
<circle cx="388.8" cy="107.2" r="3.5" fill="#8533b8"/>
<circle cx="385.9" cy="98.4" r="3.5" fill="#8334ba"/>
<circle cx="387.2" cy="114.0" r="3.5" fill="#872fb5"/>
<circle cx="383.9" cy="107.6" r="3.5" fill="#8631b7"/>
<circle cx="387.1" cy="105.3" r="3.5" fill="#8630b6"/>
<circle cx="384.0" cy="94.3" r="3.5" fill="#8a2ab2"/>
<circle cx="377.7" cy="113.5" r="3.5" fill="#882db4"/>
<circle cx="382.3" cy="96.3" r="3.5" fill="#892db4"/>
<circle cx="384.1" cy="102.9" r="3.5" fill="#8b2ab1"/>
<circle cx="380.5" cy="106.8" r="3.5" fill="#8630b6"/>
<circle cx="382.2" cy="120.2" r="3.5" fill="#8b29b1"/>
<circle cx="385.3" cy="107.3" r="3.5" fill="#8631b7"/>
<circle cx="380.9" cy="113.5" r="3.5" fill="#8434b9"/>
<circle cx="385.4" cy="109.4" r="3.5" fill="#8a2bb2"/>
<circle cx="382.2" cy="113.6" r="3.5" fill="#8533b8"/>
<circle cx="388.8" cy="104.7" r="3.5" fill="#8a2bb2"/>
<circle cx="384.0" cy="100.9" r="3.5" fill="#892db4"/>
<circle cx="387.0" cy="109.7" r="3.5" fill="#8533b8"/>
<circle cx="384.1" cy="126.7" r="3.5" fill="#892cb3"/>
<circle cx="385.7" cy="100.3" r="3.5" fill="#8d26af"/>
<circle cx="383.8" cy="120.6" r="3.5" fill="#8532b8"/>
<circle cx="389.8" cy="104.7" r="3.5" fill="#8631b7"/>
<circle cx="382.7" cy="122.8" r="3.5" fill="#882db4"/>
<circle cx="390.2" cy="116.2" r="3.5" fill="#8b2ab1"/>
<circle cx="382.7" cy="98.6" r="3.5" fill="#8a2bb2"/>
<circle cx="380.6" cy="118.5" r="3.5" fill="#8531b7"/>
<circle cx="382.7" cy="124.9" r="3.5" fill="#892cb3"/>
<circle cx="377.8" cy="115.8" r="3.5" fill="#892db4"/>
<circle cx="383.8" cy="104.7" r="3.5" fill="#8630b6"/>
<circle cx="380.6" cy="115.7" r="3.5" fill="#8434b9"/>
<circle cx="383.9" cy="98.4" r="3.5" fill="#8b2ab1"/>
<circle cx="379.1" cy="106.9" r="3.5" fill="#882db4"/>
<circle cx="382.7" cy="116.1" r="3.5" fill="#882eb5"/>
<circle cx="390.1" cy="111.8" r="3.5" fill="#892db4"/>
<circle cx="385.7" cy="126.6" r="3.5" fill="#872fb6"/>
<circle cx="380.9" cy="105.0" r="3.5" fill="#8433b9"/>
<circle cx="384.2" cy="109.1" r="3.5" fill="#8532b7"/>
<circle cx="389.0" cy="109.5" r="3.5" fill="#8a2bb2"/>
<circle cx="388.7" cy="113.7" r="3.5" fill="#882db4"/>
<circle cx="382.3" cy="93.9" r="3.5" fill="#8730b6"/>
<circle cx="382.6" cy="107.5" r="3.5" fill="#8434b9"/>
<circle cx="385.9" cy="122.6" r="3.5" fill="#8335ba"/>
<circle cx="379.2" cy="105.4" r="3.5" fill="#882db4"/>
<circle cx="383.8" cy="96.1" r="3.5" fill="#8c28b0"/>
<circle cx="382.4" cy="109.6" r="3.5" fill="#8630b6"/>
<circle cx="382.5" cy="104.8" r="3.5" fill="#882eb5"/>
<circle cx="385.6" cy="93.7" r="3.5" fill="#7f3abe"/>
<circle cx="382.6" cy="111.3" r="3.5" fill="#882eb5"/>
<circle cx="378.1" cy="105.2" r="3.5" fill="#8a2ab2"/>
<circle cx="390.3" cy="109.0" r="3.5" fill="#882db4"/>
<circle cx="385.4" cy="105.1" r="3.5" fill="#882eb5"/>
<circle cx="385.8" cy="111.8" r="3.5" fill="#8631b7"/>
<circle cx="382.3" cy="126.7" r="3.5" fill="#8533b8"/>
<circle cx="387.2" cy="118.1" r="3.5" fill="#882eb5"/>
<circle cx="385.5" cy="118.5" r="3.5" fill="#8b29b1"/>
<circle cx="377.9" cy="111.2" r="3.5" fill="#8236bb"/>
<circle cx="382.5" cy="103.0" r="3.5" fill="#882eb4"/>
<circle cx="385.5" cy="113.6" r="3.5" fill="#8532b8"/>
<circle cx="385.6" cy="102.6" r="3.5" fill="#8a2cb3"/>
<circle cx="382.2" cy="118.2" r="3.5" fill="#872fb5"/>
<circle cx="387.2" cy="115.7" r="3.5" fill="#8237bb"/>
<circle cx="385.7" cy="124.5" r="3.5" fill="#8433b8"/>
<circle cx="382.2" cy="100.4" r="3.5" fill="#8531b7"/>
<circle cx="380.8" cy="111.9" r="3.5" fill="#8532b8"/>
<circle cx="389.9" cy="114.1" r="3.5" fill="#872fb5"/>
<circle cx="379.2" cy="109.4" r="3.5" fill="#8e25ae"/>
<circle cx="387.4" cy="111.6" r="3.5" fill="#8631b7"/>
<circle cx="379.0" cy="113.9" r="3.5" fill="#8630b6"/>
<circle cx="387.2" cy="107.1" r="3.5" fill="#872fb6"/>
<circle cx="378.3" cy="109.2" r="3.5" fill="#8d27af"/>
<circle cx="385.5" cy="116.1" r="3.5" fill="#8730b6"/>
<circle cx="377.8" cy="106.9" r="3.5" fill="#8630b6"/>
<circle cx="385.6" cy="96.0" r="3.5" fill="#8b29b1"/>
<circle cx="383.7" cy="113.8" r="3.5" fill="#8730b6"/>
<circle cx="384.1" cy="122.9" r="3.5" fill="#8730b6"/>
<circle cx="380.5" cy="109.7" r="3.5" fill="#8434b9"/>
<circle cx="383.9" cy="124.6" r="3.5" fill="#8434b9"/>
<circle cx="379.2" cy="112.0" r="3.5" fill="#8532b8"/>
<circle cx="384.3" cy="118.0" r="3.5" fill="#892cb3"/>
<circle cx="388.8" cy="116.1" r="3.5" fill="#882db4"/>
<circle cx="390.3" cy="107.1" r="3.5" fill="#8532b8"/>
<circle cx="383.9" cy="116.1" r="3.5" fill="#872fb5"/>
<circle cx="379.5" cy="116.2" r="3.5" fill="#872fb6"/>
<circle cx="388.6" cy="111.6" r="3.5" fill="#8a2bb2"/>
<circle cx="456.0" cy="111.0" r="3.5" fill="#4686f6"/>
<circle cx="458.5" cy="111.0" r="3.5" fill="#4686f6"/>
<circle cx="461.0" cy="111.0" r="3.5" fill="#4686f6"/>
<circle cx="469.5" cy="111.0" r="3.5" fill="#4686f6"/>
<circle cx="482.9" cy="111.0" r="3.5" fill="#4686f6"/>
<circle cx="487.3" cy="111.0" r="3.5" fill="#4686f6"/>
<circle cx="497.5" cy="111.0" r="3.5" fill="#4686f6"/>
<circle cx="503.7" cy="111.0" r="3.5" fill="#4686f6"/>
<circle cx="583.7" cy="111.0" r="3.5" fill="#4686f6"/>
<circle cx="643.7" cy="111.0" r="3.5" fill="#4686f6"/>
<circle cx="717.8" cy="111.0" r="3.5" fill="#4686f6"/>
<circle cx="732.8" cy="111.0" r="3.5" fill="#4686f6"/>
<circle cx="740.5" cy="111.0" r="3.5" fill="#4686f6"/>
<circle cx="314.5" cy="160.0" r="3.5" fill="#4583f4"/>
<circle cx="323.8" cy="160.0" r="3.5" fill="#4583f4"/>
<circle cx="344.9" cy="159.8" r="3.5" fill="#4582f4"/>
<circle cx="354.0" cy="158.4" r="3.5" fill="#4686f6"/>
<circle cx="365.7" cy="162.0" r="3.5" fill="#447ff2"/>
<circle cx="346.2" cy="159.9" r="3.5" fill="#4583f4"/>
<circle cx="360.7" cy="161.8" r="3.5" fill="#4480f2"/>
<circle cx="349.8" cy="158.9" r="3.5" fill="#4584f5"/>
<circle cx="360.1" cy="158.1" r="3.5" fill="#4583f5"/>
<circle cx="350.2" cy="161.1" r="3.5" fill="#4685f6"/>
<circle cx="357.2" cy="160.0" r="3.5" fill="#4581f3"/>
<circle cx="367.3" cy="162.1" r="3.5" fill="#4583f4"/>
<circle cx="366.8" cy="160.3" r="3.5" fill="#4581f3"/>
<circle cx="351.7" cy="159.9" r="3.5" fill="#4582f4"/>
<circle cx="365.6" cy="160.0" r="3.5" fill="#4582f4"/>
<circle cx="352.2" cy="158.7" r="3.5" fill="#4686f6"/>
<circle cx="368.9" cy="160.1" r="3.5" fill="#4480f3"/>
<circle cx="358.4" cy="162.0" r="3.5" fill="#4481f3"/>
<circle cx="355.1" cy="158.7" r="3.5" fill="#4581f3"/>
<circle cx="353.8" cy="161.2" r="3.5" fill="#4582f4"/>
<circle cx="368.4" cy="162.1" r="3.5" fill="#437cf0"/>
<circle cx="365.7" cy="157.9" r="3.5" fill="#4480f3"/>
<circle cx="370.6" cy="161.8" r="3.5" fill="#4581f3"/>
<circle cx="348.6" cy="160.1" r="3.5" fill="#4685f5"/>
<circle cx="355.1" cy="159.8" r="3.5" fill="#4686f6"/>
<circle cx="356.4" cy="158.1" r="3.5" fill="#4582f4"/>
<circle cx="343.0" cy="160.1" r="3.5" fill="#4686f6"/>
<circle cx="353.0" cy="160.2" r="3.5" fill="#4685f5"/>
<circle cx="364.0" cy="159.9" r="3.5" fill="#447ff2"/>
<circle cx="362.2" cy="158.0" r="3.5" fill="#4582f4"/>
<circle cx="358.6" cy="158.4" r="3.5" fill="#4480f3"/>
<circle cx="358.2" cy="159.9" r="3.5" fill="#4685f5"/>
<circle cx="370.1" cy="160.0" r="3.5" fill="#437cf0"/>
<circle cx="348.1" cy="159.2" r="3.5" fill="#4686f6"/>
<circle cx="361.9" cy="161.8" r="3.5" fill="#447ef1"/>
<circle cx="344.9" cy="160.5" r="3.5" fill="#4686f6"/>
<circle cx="347.0" cy="160.6" r="3.5" fill="#4686f6"/>
<circle cx="346.4" cy="159.1" r="3.5" fill="#4686f6"/>
<circle cx="344.8" cy="159.2" r="3.5" fill="#4686f6"/>
<circle cx="349.6" cy="159.9" r="3.5" fill="#4685f5"/>
<circle cx="363.6" cy="162.3" r="3.5" fill="#4583f4"/>
<circle cx="368.5" cy="158.0" r="3.5" fill="#4581f3"/>
<circle cx="362.1" cy="159.9" r="3.5" fill="#437bf0"/>
<circle cx="357.4" cy="161.4" r="3.5" fill="#4584f5"/>
<circle cx="348.8" cy="161.1" r="3.5" fill="#4582f4"/>
<circle cx="370.5" cy="158.1" r="3.5" fill="#437bf0"/>
<circle cx="355.5" cy="161.5" r="3.5" fill="#4686f6"/>
<circle cx="360.3" cy="159.9" r="3.5" fill="#447ff2"/>
<circle cx="366.8" cy="157.8" r="3.5" fill="#4480f3"/>
<circle cx="352.3" cy="161.0" r="3.5" fill="#4584f5"/>
<circle cx="363.4" cy="158.1" r="3.5" fill="#447ff2"/>
<circle cx="364.0" cy="159.5" r="3.5" fill="#6458d8"/>
<circle cx="405.3" cy="161.2" r="3.5" fill="#e0004e"/>
<circle cx="407.1" cy="161.3" r="3.5" fill="#e0004e"/>
<circle cx="408.8" cy="160.3" r="3.5" fill="#de0054"/>
<circle cx="393.0" cy="158.7" r="3.5" fill="#d8006a"/>
<circle cx="420.2" cy="160.7" r="3.5" fill="#e0004e"/>
<circle cx="423.4" cy="160.4" r="3.5" fill="#e0004e"/>
<circle cx="394.8" cy="159.9" r="3.5" fill="#d90066"/>
<circle cx="414.7" cy="159.8" r="3.5" fill="#df0051"/>
<circle cx="389.8" cy="159.7" r="3.5" fill="#b50497"/>
<circle cx="423.2" cy="159.2" r="3.5" fill="#e0004e"/>
<circle cx="430.4" cy="160.1" r="3.5" fill="#e0004e"/>
<circle cx="417.2" cy="160.1" r="3.5" fill="#e0004e"/>
<circle cx="398.6" cy="160.1" r="3.5" fill="#e0004e"/>
<circle cx="395.1" cy="161.7" r="3.5" fill="#dd005a"/>
<circle cx="403.1" cy="158.7" r="3.5" fill="#e0004e"/>
<circle cx="404.9" cy="159.9" r="3.5" fill="#e0004e"/>
<circle cx="400.2" cy="161.7" r="3.5" fill="#df0052"/>
<circle cx="420.0" cy="158.8" r="3.5" fill="#e0004e"/>
<circle cx="422.3" cy="160.2" r="3.5" fill="#de0057"/>
<circle cx="418.3" cy="161.3" r="3.5" fill="#e0004e"/>
<circle cx="400.2" cy="159.9" r="3.5" fill="#e0004e"/>
<circle cx="410.2" cy="159.0" r="3.5" fill="#df0050"/>
<circle cx="398.0" cy="158.3" r="3.5" fill="#e00050"/>
<circle cx="417.1" cy="161.1" r="3.5" fill="#dd0059"/>
<circle cx="396.2" cy="161.7" r="3.5" fill="#dd005a"/>
<circle cx="409.9" cy="161.4" r="3.5" fill="#e0004e"/>
<circle cx="427.2" cy="160.1" r="3.5" fill="#df0053"/>
<circle cx="387.6" cy="160.1" r="3.5" fill="#ad089b"/>
<circle cx="413.5" cy="158.8" r="3.5" fill="#e0004e"/>
<circle cx="419.0" cy="160.2" r="3.5" fill="#e0004e"/>
<circle cx="411.3" cy="159.0" r="3.5" fill="#e0004e"/>
<circle cx="391.7" cy="158.8" r="3.5" fill="#d10079"/>
<circle cx="421.9" cy="158.9" r="3.5" fill="#df0050"/>
<circle cx="401.7" cy="160.2" r="3.5" fill="#e0004f"/>
<circle cx="415.2" cy="158.7" r="3.5" fill="#de0056"/>
<circle cx="405.1" cy="158.4" r="3.5" fill="#df0053"/>
<circle cx="411.6" cy="161.0" r="3.5" fill="#e0004e"/>
<circle cx="425.5" cy="160.8" r="3.5" fill="#e0004e"/>
<circle cx="413.8" cy="161.4" r="3.5" fill="#e0004e"/>
<circle cx="391.5" cy="160.2" r="3.5" fill="#ca0083"/>
<circle cx="389.3" cy="161.4" r="3.5" fill="#b70396"/>
<circle cx="413.9" cy="159.9" r="3.5" fill="#e0004e"/>
<circle cx="408.8" cy="161.1" r="3.5" fill="#de0054"/>
<circle cx="425.7" cy="160.1" r="3.5" fill="#e0004e"/>
<circle cx="411.5" cy="159.8" r="3.5" fill="#e0004e"/>
<circle cx="403.6" cy="161.2" r="3.5" fill="#e0004e"/>
<circle cx="409.8" cy="159.9" r="3.5" fill="#db005f"/>
<circle cx="387.7" cy="158.8" r="3.5" fill="#a10fa2"/>
<circle cx="427.3" cy="160.6" r="3.5" fill="#e0004e"/>
<circle cx="402.1" cy="158.5" r="3.5" fill="#dd005a"/>
<circle cx="388.2" cy="161.3" r="3.5" fill="#b0079a"/>
<circle cx="423.9" cy="160.0" r="3.5" fill="#e0004e"/>
<circle cx="391.3" cy="161.7" r="3.5" fill="#d1007a"/>
<circle cx="396.9" cy="160.3" r="3.5" fill="#e0004e"/>
<circle cx="416.7" cy="159.1" r="3.5" fill="#df0050"/>
<circle cx="397.0" cy="158.3" r="3.5" fill="#df0051"/>
<circle cx="422.4" cy="160.6" r="3.5" fill="#e0004e"/>
<circle cx="403.5" cy="160.0" r="3.5" fill="#e0004e"/>
<circle cx="392.7" cy="161.4" r="3.5" fill="#d7006b"/>
<circle cx="425.2" cy="159.6" r="3.5" fill="#e0004e"/>
<circle cx="408.2" cy="158.5" r="3.5" fill="#e0004e"/>
<circle cx="393.6" cy="160.0" r="3.5" fill="#db005f"/>
<circle cx="399.5" cy="158.5" r="3.5" fill="#e0004e"/>
<circle cx="429.2" cy="159.7" r="3.5" fill="#e0004e"/>
<circle cx="415.1" cy="161.2" r="3.5" fill="#e0004e"/>
<circle cx="419.0" cy="159.3" r="3.5" fill="#df0051"/>
<circle cx="398.6" cy="161.4" r="3.5" fill="#e0004e"/>
<circle cx="401.8" cy="161.2" r="3.5" fill="#df0052"/>
<circle cx="406.3" cy="160.3" r="3.5" fill="#de0054"/>
<circle cx="420.5" cy="160.2" r="3.5" fill="#e0004e"/>
<circle cx="389.9" cy="158.5" r="3.5" fill="#cd007f"/>
<circle cx="395.0" cy="158.4" r="3.5" fill="#de0057"/>
<circle cx="406.3" cy="158.6" r="3.5" fill="#de0054"/>
<circle cx="427.1" cy="159.6" r="3.5" fill="#e0004e"/>
<circle cx="382.2" cy="156.5" r="3.5" fill="#6358d8"/>
<circle cx="380.9" cy="167.9" r="3.5" fill="#8335ba"/>
<circle cx="379.0" cy="169.7" r="3.5" fill="#8138bc"/>
<circle cx="382.3" cy="163.1" r="3.5" fill="#8335ba"/>
<circle cx="379.3" cy="167.3" r="3.5" fill="#8532b8"/>
<circle cx="379.2" cy="161.2" r="3.5" fill="#7b40c3"/>
<circle cx="378.0" cy="160.9" r="3.5" fill="#7b40c2"/>
<circle cx="379.9" cy="174.3" r="3.5" fill="#7f3bbf"/>
<circle cx="381.1" cy="156.7" r="3.5" fill="#7f3bbf"/>
<circle cx="379.1" cy="146.0" r="3.5" fill="#872fb6"/>
<circle cx="381.0" cy="149.9" r="3.5" fill="#8137bc"/>
<circle cx="377.0" cy="169.7" r="3.5" fill="#882eb4"/>
<circle cx="377.9" cy="163.5" r="3.5" fill="#8532b8"/>
<circle cx="382.5" cy="161.1" r="3.5" fill="#8730b6"/>
<circle cx="376.4" cy="161.3" r="3.5" fill="#8434b9"/>
<circle cx="376.0" cy="163.4" r="3.5" fill="#8139bd"/>
<circle cx="381.0" cy="171.8" r="3.5" fill="#7f3bbf"/>
<circle cx="376.4" cy="156.5" r="3.5" fill="#7b41c3"/>
<circle cx="380.6" cy="148.2" r="3.5" fill="#8236bb"/>
<circle cx="379.3" cy="154.4" r="3.5" fill="#8631b7"/>
<circle cx="379.3" cy="162.9" r="3.5" fill="#8a2bb2"/>
<circle cx="380.7" cy="158.5" r="3.5" fill="#8c29b0"/>
<circle cx="374.9" cy="158.8" r="3.5" fill="#7a42c4"/>
<circle cx="379.2" cy="176.4" r="3.5" fill="#7d3dc0"/>
<circle cx="380.6" cy="154.2" r="3.5" fill="#892cb3"/>
<circle cx="383.3" cy="156.4" r="3.5" fill="#6656d6"/>
<circle cx="377.7" cy="170.2" r="3.5" fill="#8335ba"/>
<circle cx="377.6" cy="165.4" r="3.5" fill="#605ada"/>
<circle cx="379.4" cy="152.1" r="3.5" fill="#872fb6"/>
<circle cx="376.3" cy="154.2" r="3.5" fill="#7f3bbf"/>
<circle cx="379.1" cy="156.4" r="3.5" fill="#8138bc"/>
<circle cx="377.7" cy="167.8" r="3.5" fill="#892cb3"/>
<circle cx="375.9" cy="165.2" r="3.5" fill="#8138bc"/>
<circle cx="376.4" cy="167.8" r="3.5" fill="#882eb4"/>
<circle cx="379.5" cy="174.4" r="3.5" fill="#8237bb"/>
<circle cx="376.3" cy="158.9" r="3.5" fill="#8236bb"/>
<circle cx="375.4" cy="156.5" r="3.5" fill="#8138bc"/>
<circle cx="377.5" cy="150.0" r="3.5" fill="#8434b9"/>
<circle cx="378.7" cy="174.0" r="3.5" fill="#8533b8"/>
<circle cx="376.7" cy="152.2" r="3.5" fill="#7e3cc0"/>
<circle cx="378.3" cy="145.7" r="3.5" fill="#8532b7"/>
<circle cx="378.0" cy="172.3" r="3.5" fill="#595edd"/>
<circle cx="378.0" cy="152.2" r="3.5" fill="#8730b6"/>
<circle cx="381.7" cy="167.7" r="3.5" fill="#8236bb"/>
<circle cx="375.4" cy="163.1" r="3.5" fill="#6656d6"/>
<circle cx="380.9" cy="152.2" r="3.5" fill="#8a2cb3"/>
<circle cx="382.8" cy="165.5" r="3.5" fill="#8236bb"/>
<circle cx="377.9" cy="159.0" r="3.5" fill="#8630b6"/>
<circle cx="381.1" cy="170.1" r="3.5" fill="#8237bc"/>
<circle cx="382.9" cy="163.6" r="3.5" fill="#8631b7"/>
<circle cx="382.6" cy="159.2" r="3.5" fill="#8237bc"/>
<circle cx="379.4" cy="158.6" r="3.5" fill="#8039bd"/>
<circle cx="380.9" cy="165.4" r="3.5" fill="#7c3fc2"/>
<circle cx="379.4" cy="149.9" r="3.5" fill="#7f3bbe"/>
<circle cx="380.6" cy="160.9" r="3.5" fill="#8532b8"/>
<circle cx="380.3" cy="145.5" r="3.5" fill="#892db4"/>
<circle cx="381.1" cy="162.9" r="3.5" fill="#8039bd"/>
<circle cx="383.4" cy="158.6" r="3.5" fill="#6557d7"/>
<circle cx="377.5" cy="154.4" r="3.5" fill="#872fb6"/>
<circle cx="379.4" cy="172.3" r="3.5" fill="#8434b9"/>
<circle cx="377.7" cy="157.1" r="3.5" fill="#882eb5"/>
<circle cx="377.7" cy="149.8" r="3.5" fill="#8335ba"/>
<circle cx="379.3" cy="147.6" r="3.5" fill="#8335ba"/>
<circle cx="374.8" cy="161.2" r="3.5" fill="#7c3ec1"/>
<circle cx="383.7" cy="161.3" r="3.5" fill="#8335ba"/>
<circle cx="380.9" cy="150.5" r="3.5" fill="#8532b7"/>
<circle cx="379.0" cy="165.8" r="3.5" fill="#872fb5"/>
<circle cx="379.2" cy="143.1" r="3.5" fill="#7b40c3"/>
<circle cx="382.7" cy="154.5" r="3.5" fill="#7646c7"/>
<circle cx="382.0" cy="152.7" r="3.5" fill="#8433b8"/>
<circle cx="377.7" cy="147.7" r="3.5" fill="#5c5cdc"/>
<circle cx="381.5" cy="169.7" r="3.5" fill="#6259d9"/>
<circle cx="444.4" cy="160.0" r="3.5" fill="#e0004e"/>
<circle cx="454.1" cy="160.0" r="3.5" fill="#e0004e"/>
<circle cx="457.1" cy="160.0" r="3.5" fill="#e0004e"/>
<circle cx="362.5" cy="210.3" r="3.5" fill="#777777"/>
<circle cx="364.5" cy="210.2" r="3.5" fill="#777777"/>
<circle cx="376.0" cy="226.0" r="3.5" fill="#777777"/>
<circle cx="377.3" cy="224.5" r="3.5" fill="#777777"/>
<circle cx="374.8" cy="224.0" r="3.5" fill="#777777"/>
<circle cx="373.9" cy="219.0" r="3.5" fill="#777777"/>
<circle cx="374.4" cy="222.0" r="3.5" fill="#777777"/>
<circle cx="367.4" cy="209.7" r="3.5" fill="#df0052"/>
<circle cx="370.2" cy="209.1" r="3.5" fill="#de0056"/>
<circle cx="364.9" cy="209.4" r="3.5" fill="#e00050"/>
<circle cx="370.3" cy="208.1" r="3.5" fill="#e0004e"/>
<circle cx="367.1" cy="208.4" r="3.5" fill="#e0004e"/>
<circle cx="368.6" cy="209.6" r="3.5" fill="#e00050"/>
<circle cx="365.7" cy="209.1" r="3.5" fill="#de0055"/>
<circle cx="366.6" cy="209.0" r="3.5" fill="#df0052"/>
<circle cx="368.7" cy="208.9" r="3.5" fill="#e0004e"/>
<circle cx="368.6" cy="208.3" r="3.5" fill="#e0004e"/>
<circle cx="365.0" cy="208.8" r="3.5" fill="#e0004e"/>
<circle cx="370.0" cy="209.5" r="3.5" fill="#de0055"/>
<circle cx="399.8" cy="210.0" r="3.5" fill="#a90a9d"/>
<circle cx="390.8" cy="212.8" r="3.5" fill="#dd0059"/>
<circle cx="384.0" cy="213.4" r="3.5" fill="#e0004e"/>
<circle cx="395.9" cy="209.0" r="3.5" fill="#8c28b0"/>
<circle cx="387.4" cy="214.3" r="3.5" fill="#b10699"/>
<circle cx="378.8" cy="213.8" r="3.5" fill="#8c28b0"/>
<circle cx="379.1" cy="204.5" r="3.5" fill="#b10699"/>
<circle cx="393.9" cy="206.6" r="3.5" fill="#a90a9d"/>
<circle cx="382.2" cy="201.8" r="3.5" fill="#e0004e"/>
<circle cx="385.7" cy="213.7" r="3.5" fill="#e0004e"/>
<circle cx="394.1" cy="209.1" r="3.5" fill="#be0092"/>
<circle cx="382.4" cy="207.0" r="3.5" fill="#e0004e"/>
<circle cx="395.5" cy="211.1" r="3.5" fill="#be0092"/>
<circle cx="378.9" cy="211.1" r="3.5" fill="#e0004e"/>
<circle cx="397.4" cy="207.2" r="3.5" fill="#be0092"/>
<circle cx="385.9" cy="202.7" r="3.5" fill="#e0004e"/>
<circle cx="384.4" cy="201.5" r="3.5" fill="#b10699"/>
<circle cx="380.9" cy="202.1" r="3.5" fill="#e0004e"/>
<circle cx="380.8" cy="204.7" r="3.5" fill="#e0004e"/>
<circle cx="385.9" cy="215.1" r="3.5" fill="#e0004e"/>
<circle cx="397.9" cy="210.4" r="3.5" fill="#a90a9d"/>
<circle cx="389.2" cy="204.4" r="3.5" fill="#dd0059"/>
<circle cx="384.3" cy="215.8" r="3.5" fill="#d0007c"/>
<circle cx="385.5" cy="206.9" r="3.5" fill="#b10699"/>
<circle cx="379.1" cy="209.1" r="3.5" fill="#e0004e"/>
<circle cx="382.5" cy="211.1" r="3.5" fill="#b10699"/>
<circle cx="387.6" cy="204.5" r="3.5" fill="#e0004e"/>
<circle cx="395.8" cy="206.7" r="3.5" fill="#a90a9d"/>
<circle cx="383.8" cy="208.8" r="3.5" fill="#e0004e"/>
<circle cx="381.1" cy="211.5" r="3.5" fill="#e0004e"/>
<circle cx="380.3" cy="201.4" r="3.5" fill="#8c28b0"/>
<circle cx="391.4" cy="208.9" r="3.5" fill="#a90a9d"/>
<circle cx="382.3" cy="200.7" r="3.5" fill="#8c28b0"/>
<circle cx="401.1" cy="208.7" r="3.5" fill="#a90a9d"/>
<circle cx="394.1" cy="211.3" r="3.5" fill="#dd0059"/>
<circle cx="392.7" cy="209.0" r="3.5" fill="#dd0059"/>
<circle cx="390.5" cy="206.6" r="3.5" fill="#a90a9d"/>
<circle cx="400.7" cy="209.5" r="3.5" fill="#a90a9d"/>
<circle cx="378.7" cy="214.9" r="3.5" fill="#e0004e"/>
<circle cx="382.4" cy="216.9" r="3.5" fill="#d0007c"/>
<circle cx="381.9" cy="204.4" r="3.5" fill="#e0004e"/>
<circle cx="387.6" cy="209.0" r="3.5" fill="#e0004e"/>
<circle cx="385.6" cy="211.2" r="3.5" fill="#e0004e"/>
<circle cx="392.9" cy="211.4" r="3.5" fill="#dd0059"/>
<circle cx="389.3" cy="213.6" r="3.5" fill="#a90a9d"/>
<circle cx="380.2" cy="207.0" r="3.5" fill="#8c28b0"/>
<circle cx="382.6" cy="216.1" r="3.5" fill="#e0004e"/>
<circle cx="378.5" cy="203.1" r="3.5" fill="#8c28b0"/>
<circle cx="399.6" cy="207.7" r="3.5" fill="#be0092"/>
<circle cx="399.0" cy="209.1" r="3.5" fill="#a90a9d"/>
<circle cx="380.6" cy="216.5" r="3.5" fill="#e0004e"/>
<circle cx="387.2" cy="204.0" r="3.5" fill="#e0004e"/>
<circle cx="389.4" cy="211.2" r="3.5" fill="#be0092"/>
<circle cx="383.9" cy="204.6" r="3.5" fill="#e0004e"/>
<circle cx="390.7" cy="211.5" r="3.5" fill="#a90a9d"/>
<circle cx="393.9" cy="206.6" r="3.5" fill="#be0092"/>
<circle cx="380.5" cy="209.0" r="3.5" fill="#e0004e"/>
<circle cx="384.4" cy="216.5" r="3.5" fill="#d0007c"/>
<circle cx="386.1" cy="209.2" r="3.5" fill="#e0004e"/>
<circle cx="398.1" cy="208.8" r="3.5" fill="#a90a9d"/>
<circle cx="401.1" cy="208.6" r="3.5" fill="#dd0059"/>
<circle cx="383.9" cy="202.1" r="3.5" fill="#e0004e"/>
<circle cx="390.7" cy="205.4" r="3.5" fill="#a90a9d"/>
<circle cx="392.9" cy="206.0" r="3.5" fill="#a90a9d"/>
<circle cx="378.6" cy="206.6" r="3.5" fill="#d0007c"/>
<circle cx="387.8" cy="213.7" r="3.5" fill="#b10699"/>
<circle cx="383.8" cy="211.3" r="3.5" fill="#8c28b0"/>
<circle cx="388.8" cy="206.9" r="3.5" fill="#8c28b0"/>
<circle cx="387.1" cy="206.9" r="3.5" fill="#b10699"/>
<circle cx="392.8" cy="212.0" r="3.5" fill="#a90a9d"/>
<circle cx="380.9" cy="213.7" r="3.5" fill="#e0004e"/>
<circle cx="392.4" cy="206.8" r="3.5" fill="#dd0059"/>
<circle cx="387.4" cy="211.4" r="3.5" fill="#d0007c"/>
<circle cx="384.0" cy="206.5" r="3.5" fill="#e0004e"/>
<circle cx="385.3" cy="204.5" r="3.5" fill="#e0004e"/>
<circle cx="382.8" cy="209.1" r="3.5" fill="#b10699"/>
<circle cx="389.6" cy="208.9" r="3.5" fill="#8c28b0"/>
<circle cx="382.3" cy="213.9" r="3.5" fill="#8c28b0"/>
<circle cx="394.1" cy="211.6" r="3.5" fill="#a90a9d"/>
<circle cx="380.4" cy="215.8" r="3.5" fill="#b10699"/>
<circle cx="376.5" cy="220.1" r="3.5" fill="#6e4ecf"/>
<circle cx="377.7" cy="213.6" r="3.5" fill="#4868e6"/>
<circle cx="375.8" cy="220.3" r="3.5" fill="#476be7"/>
<circle cx="375.7" cy="193.8" r="3.5" fill="#5760df"/>
<circle cx="376.2" cy="191.7" r="3.5" fill="#4582f4"/>
<circle cx="374.6" cy="200.8" r="3.5" fill="#5a5edd"/>
<circle cx="376.4" cy="193.7" r="3.5" fill="#447ef2"/>
<circle cx="378.0" cy="211.8" r="3.5" fill="#4581f3"/>
<circle cx="376.2" cy="198.6" r="3.5" fill="#476ae7"/>
<circle cx="376.0" cy="216.1" r="3.5" fill="#4571eb"/>
<circle cx="375.3" cy="218.4" r="3.5" fill="#466ce8"/>
<circle cx="374.6" cy="202.5" r="3.5" fill="#4570ea"/>
<circle cx="377.0" cy="194.0" r="3.5" fill="#4583f4"/>
<circle cx="377.5" cy="207.0" r="3.5" fill="#466de8"/>
<circle cx="377.5" cy="200.2" r="3.5" fill="#437cf0"/>
<circle cx="374.6" cy="207.1" r="3.5" fill="#447ef1"/>
<circle cx="374.8" cy="211.8" r="3.5" fill="#4e65e3"/>
<circle cx="376.2" cy="213.4" r="3.5" fill="#437cf0"/>
<circle cx="374.4" cy="208.9" r="3.5" fill="#456fea"/>
<circle cx="374.6" cy="204.6" r="3.5" fill="#5c5cdc"/>
<circle cx="377.6" cy="196.0" r="3.5" fill="#4583f4"/>
<circle cx="376.3" cy="220.0" r="3.5" fill="#5461e0"/>
<circle cx="375.2" cy="195.8" r="3.5" fill="#4868e6"/>
<circle cx="374.7" cy="213.9" r="3.5" fill="#714bcc"/>
<circle cx="376.1" cy="209.1" r="3.5" fill="#4474ec"/>
<circle cx="377.5" cy="198.0" r="3.5" fill="#6953d4"/>
<circle cx="377.0" cy="218.4" r="3.5" fill="#4581f3"/>
<circle cx="376.2" cy="196.5" r="3.5" fill="#4278ee"/>
<circle cx="377.6" cy="209.3" r="3.5" fill="#447ef1"/>
<circle cx="376.3" cy="211.8" r="3.5" fill="#585fde"/>
<circle cx="377.6" cy="202.8" r="3.5" fill="#4471eb"/>
<circle cx="374.9" cy="215.5" r="3.5" fill="#4473eb"/>
<circle cx="376.4" cy="205.1" r="3.5" fill="#476ae7"/>
<circle cx="377.7" cy="204.9" r="3.5" fill="#724acb"/>
<circle cx="377.6" cy="216.1" r="3.5" fill="#6b51d2"/>
<circle cx="374.9" cy="198.3" r="3.5" fill="#447ef1"/>
<circle cx="376.2" cy="218.3" r="3.5" fill="#6557d8"/>
<circle cx="375.9" cy="207.2" r="3.5" fill="#456fe9"/>
<circle cx="376.2" cy="200.2" r="3.5" fill="#447ff2"/>
<circle cx="376.1" cy="202.9" r="3.5" fill="#4472eb"/>
<circle cx="379.0" cy="211.0" r="3.5" fill="#4582f4"/>
<circle cx="380.0" cy="203.0" r="3.5" fill="#4278ee"/>
<circle cx="381.5" cy="212.0" r="3.5" fill="#447ff2"/>
<circle cx="380.0" cy="200.0" r="3.5" fill="#4375ec"/>
<circle cx="380.5" cy="216.0" r="3.5" fill="#4278ee"/>
<circle cx="381.0" cy="218.5" r="3.5" fill="#4868e6"/>
<circle cx="379.5" cy="206.0" r="3.5" fill="#6458d8"/>
<circle cx="383.2" cy="206.2" r="3.5" fill="#e0004e"/>
<circle cx="384.5" cy="213.0" r="3.5" fill="#e0004e"/>
<circle cx="354.7" cy="257.5" r="3.5" fill="#6458d8"/>
<circle cx="368.3" cy="257.7" r="3.5" fill="#df0052"/>
<circle cx="357.7" cy="257.7" r="3.5" fill="#e00050"/>
<circle cx="374.5" cy="257.5" r="3.5" fill="#9a17a6"/>
<circle cx="362.0" cy="256.6" r="3.5" fill="#e0004e"/>
<circle cx="363.5" cy="256.4" r="3.5" fill="#a40da0"/>
<circle cx="358.5" cy="258.5" r="3.5" fill="#e0004e"/>
<circle cx="373.6" cy="259.2" r="3.5" fill="#ae089b"/>
<circle cx="370.3" cy="258.7" r="3.5" fill="#961da9"/>
<circle cx="370.2" cy="257.4" r="3.5" fill="#8138bc"/>
<circle cx="365.6" cy="257.6" r="3.5" fill="#ab099c"/>
<circle cx="362.2" cy="257.3" r="3.5" fill="#e0004e"/>
<circle cx="371.9" cy="256.0" r="3.5" fill="#8335ba"/>
<circle cx="366.3" cy="256.2" r="3.5" fill="#aa099d"/>
<circle cx="361.6" cy="258.4" r="3.5" fill="#e0004e"/>
<circle cx="357.6" cy="256.9" r="3.5" fill="#e0004e"/>
<circle cx="373.5" cy="255.6" r="3.5" fill="#8138bc"/>
<circle cx="363.6" cy="258.7" r="3.5" fill="#951eaa"/>
<circle cx="364.3" cy="257.6" r="3.5" fill="#a80a9e"/>
<circle cx="368.4" cy="256.3" r="3.5" fill="#dd0059"/>
<circle cx="359.6" cy="258.5" r="3.5" fill="#e0004e"/>
<circle cx="370.1" cy="256.2" r="3.5" fill="#971ba9"/>
<circle cx="366.0" cy="258.9" r="3.5" fill="#9d14a5"/>
<circle cx="359.8" cy="256.7" r="3.5" fill="#e0004f"/>
<circle cx="372.4" cy="257.8" r="3.5" fill="#9f12a4"/>
<circle cx="368.1" cy="258.9" r="3.5" fill="#e0004e"/>
<circle cx="360.0" cy="257.6" r="3.5" fill="#e0004e"/>
<circle cx="371.8" cy="259.0" r="3.5" fill="#a80a9e"/>
<circle cx="400.1" cy="257.2" r="3.5" fill="#4581f3"/>
<circle cx="407.9" cy="256.8" r="3.5" fill="#447ff2"/>
<circle cx="406.2" cy="256.3" r="3.5" fill="#4583f4"/>
<circle cx="387.3" cy="257.4" r="3.5" fill="#4582f4"/>
<circle cx="385.8" cy="259.8" r="3.5" fill="#437cf0"/>
<circle cx="389.3" cy="259.1" r="3.5" fill="#4582f4"/>
<circle cx="391.0" cy="259.3" r="3.5" fill="#437cf1"/>
<circle cx="391.1" cy="257.6" r="3.5" fill="#4581f3"/>
<circle cx="408.2" cy="257.3" r="3.5" fill="#437cf0"/>
<circle cx="395.9" cy="258.9" r="3.5" fill="#447ff2"/>
<circle cx="402.8" cy="258.9" r="3.5" fill="#4480f2"/>
<circle cx="409.4" cy="258.5" r="3.5" fill="#4582f3"/>
<circle cx="394.1" cy="257.8" r="3.5" fill="#4581f3"/>
<circle cx="409.6" cy="256.5" r="3.5" fill="#4480f3"/>
<circle cx="387.9" cy="255.8" r="3.5" fill="#447ef1"/>
<circle cx="401.4" cy="258.5" r="3.5" fill="#4583f4"/>
<circle cx="399.8" cy="258.7" r="3.5" fill="#447ef1"/>
<circle cx="392.6" cy="257.3" r="3.5" fill="#4686f6"/>
<circle cx="404.5" cy="256.2" r="3.5" fill="#4480f3"/>
<circle cx="395.9" cy="257.5" r="3.5" fill="#437bf0"/>
<circle cx="401.8" cy="257.6" r="3.5" fill="#4583f4"/>
<circle cx="391.2" cy="255.8" r="3.5" fill="#4480f3"/>
<circle cx="408.4" cy="258.4" r="3.5" fill="#4686f6"/>
<circle cx="404.3" cy="257.5" r="3.5" fill="#437cf0"/>
<circle cx="398.2" cy="258.7" r="3.5" fill="#4581f3"/>
<circle cx="402.9" cy="257.4" r="3.5" fill="#4581f3"/>
<circle cx="409.7" cy="257.4" r="3.5" fill="#447ff2"/>
<circle cx="386.0" cy="255.7" r="3.5" fill="#4481f3"/>
<circle cx="406.5" cy="257.6" r="3.5" fill="#4480f3"/>
<circle cx="394.9" cy="255.8" r="3.5" fill="#4583f4"/>
<circle cx="389.7" cy="255.7" r="3.5" fill="#4685f6"/>
<circle cx="398.2" cy="257.6" r="3.5" fill="#4583f5"/>
<circle cx="394.6" cy="259.1" r="3.5" fill="#437df1"/>
<circle cx="399.8" cy="256.5" r="3.5" fill="#4582f4"/>
<circle cx="393.3" cy="258.7" r="3.5" fill="#4582f3"/>
<circle cx="398.1" cy="256.2" r="3.5" fill="#447ef2"/>
<circle cx="385.9" cy="257.7" r="3.5" fill="#4480f2"/>
<circle cx="389.0" cy="257.7" r="3.5" fill="#4480f3"/>
<circle cx="402.6" cy="256.2" r="3.5" fill="#4686f6"/>
<circle cx="392.8" cy="256.0" r="3.5" fill="#447ff2"/>
<circle cx="396.2" cy="256.0" r="3.5" fill="#4581f3"/>
<circle cx="404.4" cy="258.4" r="3.5" fill="#4686f6"/>
<circle cx="401.2" cy="256.1" r="3.5" fill="#447ef1"/>
<circle cx="387.6" cy="259.4" r="3.5" fill="#4685f5"/>
<circle cx="406.6" cy="258.6" r="3.5" fill="#4581f3"/>
<circle cx="380.8" cy="256.5" r="3.5" fill="#a40ca0"/>
<circle cx="381.0" cy="245.5" r="3.5" fill="#be0092"/>
<circle cx="379.4" cy="268.8" r="3.5" fill="#4582f4"/>
<circle cx="380.1" cy="262.5" r="3.5" fill="#4480f3"/>
<circle cx="381.0" cy="266.7" r="3.5" fill="#437df1"/>
<circle cx="377.7" cy="251.2" r="3.5" fill="#4481f3"/>
<circle cx="378.3" cy="251.7" r="3.5" fill="#4583f4"/>
<circle cx="380.8" cy="244.5" r="3.5" fill="#4480f3"/>
<circle cx="375.0" cy="260.7" r="3.5" fill="#4582f4"/>
<circle cx="383.2" cy="260.7" r="3.5" fill="#437aef"/>
<circle cx="379.2" cy="247.4" r="3.5" fill="#447ef1"/>
<circle cx="376.9" cy="262.2" r="3.5" fill="#4584f5"/>
<circle cx="380.7" cy="243.0" r="3.5" fill="#447ff2"/>
<circle cx="382.7" cy="251.2" r="3.5" fill="#4685f5"/>
<circle cx="381.9" cy="251.4" r="3.5" fill="#4684f5"/>
<circle cx="383.3" cy="258.2" r="3.5" fill="#4582f4"/>
<circle cx="384.1" cy="254.1" r="3.5" fill="#4685f5"/>
<circle cx="383.4" cy="254.1" r="3.5" fill="#447ef2"/>
<circle cx="376.7" cy="253.5" r="3.5" fill="#447ff2"/>
<circle cx="386.3" cy="258.3" r="3.5" fill="#447ef2"/>
<circle cx="380.2" cy="269.0" r="3.5" fill="#4685f6"/>
<circle cx="380.0" cy="270.9" r="3.5" fill="#4684f5"/>
<circle cx="378.5" cy="255.5" r="3.5" fill="#4686f6"/>
<circle cx="379.9" cy="256.3" r="3.5" fill="#4684f5"/>
<circle cx="378.3" cy="260.5" r="3.5" fill="#447ff2"/>
<circle cx="375.4" cy="255.5" r="3.5" fill="#4584f5"/>
<circle cx="381.8" cy="264.8" r="3.5" fill="#4685f6"/>
<circle cx="378.5" cy="258.3" r="3.5" fill="#447ff2"/>
<circle cx="381.5" cy="255.9" r="3.5" fill="#4582f4"/>
<circle cx="380.1" cy="253.6" r="3.5" fill="#4686f6"/>
<circle cx="379.5" cy="244.6" r="3.5" fill="#4480f3"/>
<circle cx="379.9" cy="242.9" r="3.5" fill="#437cf1"/>
<circle cx="384.7" cy="260.2" r="3.5" fill="#437df1"/>
<circle cx="382.9" cy="255.8" r="3.5" fill="#4686f6"/>
<circle cx="380.2" cy="271.1" r="3.5" fill="#4582f4"/>
<circle cx="381.7" cy="262.7" r="3.5" fill="#437df1"/>
<circle cx="381.0" cy="269.3" r="3.5" fill="#4582f4"/>
<circle cx="381.6" cy="253.7" r="3.5" fill="#4581f3"/>
<circle cx="381.8" cy="260.0" r="3.5" fill="#437df1"/>
<circle cx="380.2" cy="242.7" r="3.5" fill="#437cf0"/>
<circle cx="380.2" cy="244.8" r="3.5" fill="#447ef2"/>
<circle cx="374.5" cy="256.1" r="3.5" fill="#4583f4"/>
<circle cx="376.3" cy="253.6" r="3.5" fill="#447ef1"/>
<circle cx="376.5" cy="260.5" r="3.5" fill="#4686f6"/>
<circle cx="376.7" cy="258.4" r="3.5" fill="#437df1"/>
<circle cx="375.4" cy="258.4" r="3.5" fill="#4584f5"/>
<circle cx="378.5" cy="249.7" r="3.5" fill="#4480f3"/>
<circle cx="380.2" cy="260.3" r="3.5" fill="#4581f3"/>
<circle cx="380.2" cy="258.0" r="3.5" fill="#4581f3"/>
<circle cx="384.7" cy="257.8" r="3.5" fill="#447ff2"/>
<circle cx="381.3" cy="249.2" r="3.5" fill="#4684f5"/>
<circle cx="378.5" cy="253.6" r="3.5" fill="#4686f6"/>
<circle cx="380.2" cy="273.7" r="3.5" fill="#4583f4"/>
<circle cx="380.1" cy="264.5" r="3.5" fill="#4582f4"/>
<circle cx="381.9" cy="258.4" r="3.5" fill="#447ef1"/>
<circle cx="379.4" cy="271.2" r="3.5" fill="#4583f5"/>
<circle cx="385.4" cy="256.2" r="3.5" fill="#447df1"/>
<circle cx="379.9" cy="247.2" r="3.5" fill="#4583f4"/>
<circle cx="380.7" cy="246.8" r="3.5" fill="#447ef1"/>
<circle cx="378.3" cy="264.4" r="3.5" fill="#4480f2"/>
<circle cx="385.1" cy="255.8" r="3.5" fill="#4481f3"/>
<circle cx="378.3" cy="262.8" r="3.5" fill="#4581f3"/>
<circle cx="383.0" cy="262.2" r="3.5" fill="#4584f5"/>
<circle cx="379.8" cy="251.3" r="3.5" fill="#4582f4"/>
<circle cx="374.0" cy="257.8" r="3.5" fill="#4480f2"/>
<circle cx="380.1" cy="267.2" r="3.5" fill="#4583f5"/>
<circle cx="378.7" cy="267.2" r="3.5" fill="#4581f3"/>
<circle cx="379.8" cy="248.9" r="3.5" fill="#4481f3"/>
<circle cx="376.6" cy="256.2" r="3.5" fill="#4584f5"/>
<circle cx="379.9" cy="240.4" r="3.5" fill="#437df1"/>
<circle cx="373.5" cy="259.0" r="3.5" fill="#9f12a3"/>
<circle cx="375.0" cy="259.7" r="3.5" fill="#981aa8"/>
<circle cx="357.2" cy="306.4" r="3.5" fill="#e0004e"/>
<circle cx="360.0" cy="306.9" r="3.5" fill="#e0004e"/>
<circle cx="362.0" cy="306.4" r="3.5" fill="#447ff2"/>
<circle cx="365.0" cy="306.4" r="3.5" fill="#e0004e"/>
<circle cx="366.5" cy="306.4" r="3.5" fill="#447ff2"/>
<circle cx="369.5" cy="306.4" r="3.5" fill="#437bf0"/>
<circle cx="387.0" cy="306.4" r="3.5" fill="#4278ee"/>
<circle cx="389.5" cy="306.4" r="3.5" fill="#6458d8"/>
<circle cx="391.0" cy="306.4" r="3.5" fill="#e0004e"/>
<circle cx="393.5" cy="306.4" r="3.5" fill="#447ff2"/>
<circle cx="396.0" cy="306.4" r="3.5" fill="#437bf0"/>
<circle cx="398.5" cy="306.4" r="3.5" fill="#e0004e"/>
<circle cx="401.5" cy="306.4" r="3.5" fill="#a90a9d"/>
<circle cx="383.5" cy="298.7" r="3.5" fill="#b10699"/>
<circle cx="380.1" cy="313.3" r="3.5" fill="#4474ec"/>
<circle cx="373.8" cy="306.6" r="3.5" fill="#476ae7"/>
<circle cx="382.7" cy="312.8" r="3.5" fill="#4376ed"/>
<circle cx="377.1" cy="293.0" r="3.5" fill="#4581f3"/>
<circle cx="380.4" cy="302.3" r="3.5" fill="#456fea"/>
<circle cx="384.0" cy="299.4" r="3.5" fill="#b10699"/>
<circle cx="378.6" cy="306.7" r="3.5" fill="#437df1"/>
<circle cx="375.8" cy="297.5" r="3.5" fill="#4279ef"/>
<circle cx="378.6" cy="310.4" r="3.5" fill="#466ee9"/>
<circle cx="383.3" cy="308.3" r="3.5" fill="#4473eb"/>
<circle cx="377.5" cy="295.3" r="3.5" fill="#476ae7"/>
<circle cx="383.4" cy="304.4" r="3.5" fill="#4376ed"/>
<circle cx="377.1" cy="304.5" r="3.5" fill="#437bf0"/>
<circle cx="380.4" cy="315.2" r="3.5" fill="#4570ea"/>
<circle cx="376.0" cy="317.7" r="3.5" fill="#476ae7"/>
<circle cx="381.7" cy="306.8" r="3.5" fill="#437cf0"/>
<circle cx="372.2" cy="306.3" r="3.5" fill="#447ef2"/>
<circle cx="383.0" cy="305.0" r="3.5" fill="#e0004e"/>
<circle cx="380.5" cy="304.0" r="3.5" fill="#466de9"/>
<circle cx="380.4" cy="298.0" r="3.5" fill="#4472eb"/>
<circle cx="378.0" cy="289.1" r="3.5" fill="#447ef1"/>
<circle cx="384.0" cy="304.0" r="3.5" fill="#437bf0"/>
<circle cx="375.3" cy="302.3" r="3.5" fill="#4571ea"/>
<circle cx="375.7" cy="310.7" r="3.5" fill="#437aef"/>
<circle cx="374.1" cy="310.8" r="3.5" fill="#4570ea"/>
<circle cx="375.9" cy="314.9" r="3.5" fill="#447ff2"/>
<circle cx="380.3" cy="319.7" r="3.5" fill="#4375ec"/>
<circle cx="375.9" cy="299.9" r="3.5" fill="#466fe9"/>
<circle cx="374.7" cy="313.0" r="3.5" fill="#476be8"/>
<circle cx="373.4" cy="308.2" r="3.5" fill="#4279ef"/>
<circle cx="380.3" cy="317.3" r="3.5" fill="#437df1"/>
<circle cx="380.1" cy="308.5" r="3.5" fill="#4279ee"/>
<circle cx="380.3" cy="310.7" r="3.5" fill="#4570ea"/>
<circle cx="379.2" cy="323.9" r="3.5" fill="#4571ea"/>
<circle cx="379.2" cy="288.9" r="3.5" fill="#476ce8"/>
<circle cx="378.5" cy="304.1" r="3.5" fill="#476ae7"/>
<circle cx="375.9" cy="303.9" r="3.5" fill="#4480f3"/>
<circle cx="378.2" cy="324.3" r="3.5" fill="#476ae7"/>
<circle cx="377.1" cy="312.7" r="3.5" fill="#4277ed"/>
<circle cx="383.1" cy="302.3" r="3.5" fill="#437aef"/>
<circle cx="375.7" cy="306.1" r="3.5" fill="#447ef1"/>
<circle cx="378.8" cy="295.4" r="3.5" fill="#4869e6"/>
<circle cx="377.2" cy="314.8" r="3.5" fill="#4474ec"/>
<circle cx="381.8" cy="302.0" r="3.5" fill="#437aef"/>
<circle cx="377.2" cy="299.4" r="3.5" fill="#4376ed"/>
<circle cx="383.5" cy="304.4" r="3.5" fill="#e0004e"/>
<circle cx="378.6" cy="317.1" r="3.5" fill="#4376ed"/>
<circle cx="380.3" cy="306.1" r="3.5" fill="#437aef"/>
<circle cx="378.6" cy="308.7" r="3.5" fill="#4473ec"/>
<circle cx="383.1" cy="310.5" r="3.5" fill="#4570ea"/>
<circle cx="374.1" cy="302.0" r="3.5" fill="#4374ec"/>
<circle cx="377.8" cy="291.1" r="3.5" fill="#4376ed"/>
<circle cx="382.1" cy="304.5" r="3.5" fill="#437aef"/>
<circle cx="379.0" cy="297.4" r="3.5" fill="#456fe9"/>
<circle cx="377.1" cy="297.5" r="3.5" fill="#4279ef"/>
<circle cx="383.8" cy="306.8" r="3.5" fill="#4571ea"/>
<circle cx="382.3" cy="315.1" r="3.5" fill="#4375ec"/>
<circle cx="378.6" cy="300.2" r="3.5" fill="#4570ea"/>
<circle cx="377.1" cy="317.4" r="3.5" fill="#437df1"/>
<circle cx="375.8" cy="308.8" r="3.5" fill="#466de8"/>
<circle cx="377.4" cy="309.0" r="3.5" fill="#4480f2"/>
<circle cx="381.2" cy="317.3" r="3.5" fill="#4570ea"/>
<circle cx="382.1" cy="312.9" r="3.5" fill="#4279ee"/>
<circle cx="374.5" cy="297.4" r="3.5" fill="#da0064"/>
<circle cx="373.7" cy="304.1" r="3.5" fill="#466ee9"/>
<circle cx="379.8" cy="291.3" r="3.5" fill="#4472eb"/>
<circle cx="382.2" cy="299.6" r="3.5" fill="#4375ed"/>
<circle cx="385.2" cy="306.6" r="3.5" fill="#476ae7"/>
<circle cx="374.8" cy="299.8" r="3.5" fill="#437aef"/>
<circle cx="380.1" cy="295.6" r="3.5" fill="#4375ed"/>
<circle cx="375.5" cy="320.4" r="3.5" fill="#e0004e"/>
<circle cx="383.5" cy="314.6" r="3.5" fill="#e0004e"/>
<circle cx="380.0" cy="321.7" r="3.5" fill="#4a67e5"/>
<circle cx="376.0" cy="320.0" r="3.5" fill="#e0004e"/>
<circle cx="382.0" cy="308.4" r="3.5" fill="#4473ec"/>
<circle cx="377.8" cy="322.1" r="3.5" fill="#4570ea"/>
<circle cx="379.0" cy="321.8" r="3.5" fill="#456fea"/>
<circle cx="384.0" cy="314.4" r="3.5" fill="#e0004e"/>
<circle cx="380.2" cy="299.7" r="3.5" fill="#4480f2"/>
<circle cx="376.9" cy="311.1" r="3.5" fill="#437df1"/>
<circle cx="384.5" cy="308.9" r="3.5" fill="#437bf0"/>
<circle cx="378.6" cy="323.7" r="3.5" fill="#437bf0"/>
<circle cx="377.2" cy="319.5" r="3.5" fill="#4277ee"/>
<circle cx="375.3" cy="313.3" r="3.5" fill="#4277ee"/>
<circle cx="382.1" cy="310.8" r="3.5" fill="#4374ec"/>
<circle cx="373.2" cy="304.0" r="3.5" fill="#4473ec"/>
<circle cx="378.6" cy="312.7" r="3.5" fill="#4581f3"/>
<circle cx="382.5" cy="299.7" r="3.5" fill="#4277ee"/>
<circle cx="377.2" cy="302.2" r="3.5" fill="#4278ee"/>
<circle cx="381.6" cy="295.7" r="3.5" fill="#4571eb"/>
<circle cx="381.8" cy="297.5" r="3.5" fill="#437bf0"/>
<circle cx="380.6" cy="293.5" r="3.5" fill="#4582f4"/>
<circle cx="373.8" cy="308.5" r="3.5" fill="#4376ed"/>
<circle cx="379.0" cy="320.0" r="3.5" fill="#466ee9"/>
<circle cx="378.6" cy="288.5" r="3.5" fill="#4279ef"/>
<circle cx="377.5" cy="306.3" r="3.5" fill="#466ee9"/>
<circle cx="378.8" cy="301.7" r="3.5" fill="#4374ec"/>
<circle cx="379.1" cy="293.4" r="3.5" fill="#447ff2"/>
<circle cx="379.1" cy="291.2" r="3.5" fill="#447ff2"/>
<circle cx="376.2" cy="295.5" r="3.5" fill="#437bf0"/>
<circle cx="378.6" cy="315.2" r="3.5" fill="#466ee9"/>
<circle cx="421.0" cy="306.4" r="3.5" fill="#4582f4"/>
<circle cx="424.5" cy="306.4" r="3.5" fill="#4582f4"/>
<circle cx="428.0" cy="306.4" r="3.5" fill="#4582f4"/>
<circle cx="431.0" cy="306.4" r="3.5" fill="#4582f4"/>
<circle cx="436.0" cy="306.4" r="3.5" fill="#4582f4"/>
<circle cx="520.0" cy="306.4" r="3.5" fill="#4582f4"/>
<circle cx="528.7" cy="306.4" r="3.5" fill="#4582f4"/>
<circle cx="536.3" cy="306.4" r="3.5" fill="#4582f4"/>
<circle cx="550.8" cy="306.4" r="3.5" fill="#4582f4"/>
<circle cx="364.8" cy="355.0" r="3.5" fill="#e0004e"/>
<circle cx="367.0" cy="355.0" r="3.5" fill="#6458d8"/>
<circle cx="369.0" cy="355.0" r="3.5" fill="#e0004e"/>
<circle cx="398.5" cy="354.3" r="3.5" fill="#4581f3"/>
<circle cx="405.4" cy="355.2" r="3.5" fill="#447ff2"/>
<circle cx="394.6" cy="355.2" r="3.5" fill="#4583f4"/>
<circle cx="407.0" cy="355.3" r="3.5" fill="#4583f5"/>
<circle cx="399.8" cy="355.1" r="3.5" fill="#4581f3"/>
<circle cx="399.7" cy="354.4" r="3.5" fill="#4686f6"/>
<circle cx="396.4" cy="355.6" r="3.5" fill="#4582f4"/>
<circle cx="393.1" cy="354.8" r="3.5" fill="#4685f6"/>
<circle cx="395.1" cy="354.7" r="3.5" fill="#4581f3"/>
<circle cx="401.8" cy="355.7" r="3.5" fill="#4584f5"/>
<circle cx="393.3" cy="354.5" r="3.5" fill="#4684f5"/>
<circle cx="398.4" cy="355.3" r="3.5" fill="#4582f4"/>
<circle cx="406.4" cy="354.3" r="3.5" fill="#4582f4"/>
<circle cx="406.6" cy="354.8" r="3.5" fill="#4481f3"/>
<circle cx="403.5" cy="355.5" r="3.5" fill="#4582f4"/>
<circle cx="392.9" cy="355.2" r="3.5" fill="#4582f4"/>
<circle cx="403.6" cy="354.3" r="3.5" fill="#4684f5"/>
<circle cx="398.4" cy="355.3" r="3.5" fill="#4584f5"/>
<circle cx="402.8" cy="355.0" r="3.5" fill="#4584f5"/>
<circle cx="399.5" cy="355.6" r="3.5" fill="#4686f6"/>
<circle cx="404.5" cy="354.7" r="3.5" fill="#4686f6"/>
<circle cx="394.9" cy="355.3" r="3.5" fill="#4584f5"/>
<circle cx="396.8" cy="355.0" r="3.5" fill="#4583f5"/>
<circle cx="396.0" cy="354.5" r="3.5" fill="#4686f6"/>
<circle cx="401.3" cy="355.1" r="3.5" fill="#4583f4"/>
<circle cx="401.5" cy="354.6" r="3.5" fill="#4583f4"/>
<circle cx="404.8" cy="354.7" r="3.5" fill="#4685f5"/>
<circle cx="383.2" cy="347.7" r="3.5" fill="#437bf0"/>
<circle cx="377.5" cy="355.9" r="3.5" fill="#e0004e"/>
<circle cx="381.9" cy="351.7" r="3.5" fill="#e0004e"/>
<circle cx="383.4" cy="351.7" r="3.5" fill="#8335ba"/>
<circle cx="374.7" cy="351.8" r="3.5" fill="#e0004e"/>
<circle cx="374.2" cy="355.9" r="3.5" fill="#437bf0"/>
<circle cx="375.8" cy="353.9" r="3.5" fill="#8335ba"/>
<circle cx="377.2" cy="360.7" r="3.5" fill="#e0004e"/>
<circle cx="373.2" cy="355.7" r="3.5" fill="#c70087"/>
<circle cx="380.7" cy="358.3" r="3.5" fill="#8335ba"/>
<circle cx="377.3" cy="349.4" r="3.5" fill="#c70087"/>
<circle cx="378.9" cy="358.2" r="3.5" fill="#e0004e"/>
<circle cx="385.9" cy="358.0" r="3.5" fill="#447ff2"/>
<circle cx="381.3" cy="343.3" r="3.5" fill="#8335ba"/>
<circle cx="381.8" cy="345.5" r="3.5" fill="#8335ba"/>
<circle cx="381.9" cy="347.6" r="3.5" fill="#c70087"/>
<circle cx="381.8" cy="362.5" r="3.5" fill="#8335ba"/>
<circle cx="382.0" cy="365.3" r="3.5" fill="#437bf0"/>
<circle cx="377.4" cy="352.0" r="3.5" fill="#e0004e"/>
<circle cx="383.8" cy="358.0" r="3.5" fill="#8335ba"/>
<circle cx="384.4" cy="349.4" r="3.5" fill="#447ff2"/>
<circle cx="382.0" cy="356.4" r="3.5" fill="#c70087"/>
<circle cx="379.2" cy="365.0" r="3.5" fill="#437bf0"/>
<circle cx="387.0" cy="356.4" r="3.5" fill="#8335ba"/>
<circle cx="380.5" cy="369.3" r="3.5" fill="#437bf0"/>
<circle cx="380.5" cy="362.4" r="3.5" fill="#c70087"/>
<circle cx="378.7" cy="351.4" r="3.5" fill="#8335ba"/>
<circle cx="373.4" cy="353.7" r="3.5" fill="#c70087"/>
<circle cx="382.3" cy="353.5" r="3.5" fill="#c70087"/>
<circle cx="380.4" cy="345.3" r="3.5" fill="#c70087"/>
<circle cx="386.1" cy="351.7" r="3.5" fill="#c70087"/>
<circle cx="380.7" cy="356.1" r="3.5" fill="#e0004e"/>
<circle cx="387.9" cy="356.4" r="3.5" fill="#c70087"/>
<circle cx="380.4" cy="349.7" r="3.5" fill="#437bf0"/>
<circle cx="383.5" cy="353.6" r="3.5" fill="#8335ba"/>
<circle cx="387.9" cy="353.7" r="3.5" fill="#447ff2"/>
<circle cx="380.4" cy="366.9" r="3.5" fill="#437bf0"/>
<circle cx="378.9" cy="356.4" r="3.5" fill="#8335ba"/>
<circle cx="377.5" cy="353.9" r="3.5" fill="#c70087"/>
<circle cx="382.2" cy="360.8" r="3.5" fill="#8335ba"/>
<circle cx="387.0" cy="354.0" r="3.5" fill="#8335ba"/>
<circle cx="379.4" cy="366.8" r="3.5" fill="#e0004e"/>
<circle cx="384.6" cy="360.5" r="3.5" fill="#c70087"/>
<circle cx="381.6" cy="366.8" r="3.5" fill="#437bf0"/>
<circle cx="377.7" cy="347.2" r="3.5" fill="#e0004e"/>
<circle cx="383.9" cy="355.9" r="3.5" fill="#c70087"/>
<circle cx="377.4" cy="362.6" r="3.5" fill="#437bf0"/>
<circle cx="380.5" cy="342.8" r="3.5" fill="#6458d8"/>
<circle cx="378.6" cy="349.2" r="3.5" fill="#437bf0"/>
<circle cx="377.0" cy="358.7" r="3.5" fill="#8335ba"/>
<circle cx="380.5" cy="371.8" r="3.5" fill="#8335ba"/>
<circle cx="378.7" cy="362.5" r="3.5" fill="#e0004e"/>
<circle cx="385.3" cy="352.0" r="3.5" fill="#447ff2"/>
<circle cx="379.0" cy="345.3" r="3.5" fill="#c70087"/>
<circle cx="385.6" cy="355.8" r="3.5" fill="#8335ba"/>
<circle cx="383.8" cy="349.5" r="3.5" fill="#e0004e"/>
<circle cx="376.3" cy="349.1" r="3.5" fill="#c70087"/>
<circle cx="380.2" cy="347.4" r="3.5" fill="#6458d8"/>
<circle cx="385.3" cy="358.6" r="3.5" fill="#e0004e"/>
<circle cx="379.0" cy="353.6" r="3.5" fill="#c70087"/>
<circle cx="382.3" cy="358.0" r="3.5" fill="#437bf0"/>
<circle cx="378.9" cy="347.2" r="3.5" fill="#c70087"/>
<circle cx="379.3" cy="343.1" r="3.5" fill="#6458d8"/>
<circle cx="375.7" cy="358.0" r="3.5" fill="#8335ba"/>
<circle cx="374.1" cy="353.7" r="3.5" fill="#e0004e"/>
<circle cx="380.2" cy="360.7" r="3.5" fill="#8335ba"/>
<circle cx="383.8" cy="360.1" r="3.5" fill="#c70087"/>
<circle cx="376.3" cy="360.2" r="3.5" fill="#8335ba"/>
<circle cx="382.4" cy="349.3" r="3.5" fill="#437bf0"/>
<circle cx="380.3" cy="340.7" r="3.5" fill="#c70087"/>
<circle cx="383.5" cy="362.6" r="3.5" fill="#e0004e"/>
<circle cx="380.4" cy="364.8" r="3.5" fill="#c70087"/>
<circle cx="385.1" cy="353.9" r="3.5" fill="#8335ba"/>
<circle cx="380.3" cy="338.1" r="3.5" fill="#437bf0"/>
<circle cx="376.0" cy="355.8" r="3.5" fill="#e0004e"/>
<circle cx="374.8" cy="358.3" r="3.5" fill="#8335ba"/>
<circle cx="380.4" cy="354.1" r="3.5" fill="#437bf0"/>
<circle cx="380.5" cy="351.8" r="3.5" fill="#8335ba"/>
<circle cx="375.5" cy="352.1" r="3.5" fill="#e0004e"/>
<circle cx="379.1" cy="360.2" r="3.5" fill="#e0004e"/>
<circle cx="361.5" cy="404.0" r="3.5" fill="#e0004e"/>
<circle cx="364.5" cy="404.0" r="3.5" fill="#447ff2"/>
<circle cx="367.0" cy="404.0" r="3.5" fill="#8335ba"/>
<circle cx="392.5" cy="404.0" r="3.5" fill="#e0004e"/>
<circle cx="394.0" cy="404.0" r="3.5" fill="#447ff2"/>
<circle cx="396.5" cy="404.0" r="3.5" fill="#7e3dc0"/>
<circle cx="383.4" cy="396.3" r="3.5" fill="#447df1"/>
<circle cx="371.1" cy="403.1" r="3.5" fill="#803abd"/>
<circle cx="376.3" cy="411.9" r="3.5" fill="#8631b7"/>
<circle cx="379.1" cy="396.2" r="3.5" fill="#6755d5"/>
<circle cx="379.4" cy="389.5" r="3.5" fill="#8532b8"/>
<circle cx="374.2" cy="409.4" r="3.5" fill="#4376ed"/>
<circle cx="379.3" cy="407.6" r="3.5" fill="#4277ed"/>
<circle cx="379.8" cy="418.0" r="3.5" fill="#437cf0"/>
<circle cx="372.6" cy="403.0" r="3.5" fill="#6953d3"/>
<circle cx="379.4" cy="398.8" r="3.5" fill="#8532b7"/>
<circle cx="379.2" cy="389.8" r="3.5" fill="#872fb5"/>
<circle cx="374.5" cy="407.4" r="3.5" fill="#7d3ec1"/>
<circle cx="382.5" cy="409.8" r="3.5" fill="#8631b7"/>
<circle cx="376.2" cy="400.7" r="3.5" fill="#4582f4"/>
<circle cx="374.6" cy="405.0" r="3.5" fill="#8a2bb2"/>
<circle cx="373.0" cy="407.4" r="3.5" fill="#de0054"/>
<circle cx="377.6" cy="400.5" r="3.5" fill="#b60496"/>
<circle cx="386.9" cy="403.2" r="3.5" fill="#e0004e"/>
<circle cx="377.9" cy="402.8" r="3.5" fill="#c4008a"/>
<circle cx="377.3" cy="405.1" r="3.5" fill="#8433b9"/>
<circle cx="379.4" cy="400.3" r="3.5" fill="#8138bc"/>
<circle cx="382.2" cy="407.1" r="3.5" fill="#e0004e"/>
<circle cx="379.0" cy="393.9" r="3.5" fill="#4480f3"/>
<circle cx="382.7" cy="405.3" r="3.5" fill="#7349cb"/>
<circle cx="381.7" cy="413.5" r="3.5" fill="#7f3abe"/>
<circle cx="388.6" cy="403.0" r="3.5" fill="#4277ee"/>
<circle cx="372.8" cy="400.7" r="3.5" fill="#447ef1"/>
<circle cx="381.5" cy="394.1" r="3.5" fill="#b80395"/>
<circle cx="379.1" cy="414.0" r="3.5" fill="#7448ca"/>
<circle cx="376.6" cy="413.8" r="3.5" fill="#e0004e"/>
<circle cx="369.8" cy="405.4" r="3.5" fill="#b80395"/>
<circle cx="380.7" cy="416.4" r="3.5" fill="#af079a"/>
<circle cx="379.0" cy="411.5" r="3.5" fill="#4375ec"/>
<circle cx="377.5" cy="398.2" r="3.5" fill="#8138bd"/>
<circle cx="372.9" cy="409.4" r="3.5" fill="#8a2bb3"/>
<circle cx="382.7" cy="411.3" r="3.5" fill="#892cb3"/>
<circle cx="377.7" cy="391.6" r="3.5" fill="#6e4ece"/>
<circle cx="384.2" cy="403.2" r="3.5" fill="#e0004e"/>
<circle cx="374.2" cy="400.3" r="3.5" fill="#4376ed"/>
<circle cx="377.4" cy="411.7" r="3.5" fill="#6953d3"/>
<circle cx="380.7" cy="398.8" r="3.5" fill="#e0004e"/>
<circle cx="380.7" cy="403.1" r="3.5" fill="#c2008d"/>
<circle cx="379.2" cy="420.4" r="3.5" fill="#437cf0"/>
<circle cx="377.8" cy="414.1" r="3.5" fill="#6e4ecf"/>
<circle cx="385.6" cy="405.3" r="3.5" fill="#882eb4"/>
<circle cx="377.7" cy="396.3" r="3.5" fill="#e0004e"/>
<circle cx="375.7" cy="396.3" r="3.5" fill="#6a52d3"/>
<circle cx="371.5" cy="400.5" r="3.5" fill="#6a52d2"/>
<circle cx="376.3" cy="404.8" r="3.5" fill="#7c3fc2"/>
<circle cx="375.8" cy="398.2" r="3.5" fill="#714bcc"/>
<circle cx="373.5" cy="398.3" r="3.5" fill="#bf0091"/>
<circle cx="372.7" cy="404.9" r="3.5" fill="#e0004f"/>
<circle cx="381.0" cy="409.2" r="3.5" fill="#dd0057"/>
<circle cx="383.8" cy="398.2" r="3.5" fill="#8630b6"/>
<circle cx="377.1" cy="393.9" r="3.5" fill="#b90295"/>
<circle cx="385.5" cy="409.4" r="3.5" fill="#437df1"/>
<circle cx="379.0" cy="389.8" r="3.5" fill="#7f3abe"/>
<circle cx="380.8" cy="407.5" r="3.5" fill="#4375ed"/>
<circle cx="379.0" cy="418.1" r="3.5" fill="#e0004e"/>
<circle cx="386.7" cy="400.9" r="3.5" fill="#4583f4"/>
<circle cx="380.5" cy="393.7" r="3.5" fill="#7844c6"/>
<circle cx="380.9" cy="396.0" r="3.5" fill="#b10699"/>
<circle cx="377.5" cy="416.3" r="3.5" fill="#4278ee"/>
<circle cx="379.3" cy="391.8" r="3.5" fill="#4473ec"/>
<circle cx="376.0" cy="409.7" r="3.5" fill="#8d26af"/>
<circle cx="379.3" cy="404.8" r="3.5" fill="#be0092"/>
<circle cx="382.6" cy="402.8" r="3.5" fill="#8532b8"/>
<circle cx="371.1" cy="405.3" r="3.5" fill="#437cf0"/>
<circle cx="374.1" cy="398.7" r="3.5" fill="#dc005b"/>
<circle cx="386.4" cy="407.7" r="3.5" fill="#437df1"/>
<circle cx="380.8" cy="411.3" r="3.5" fill="#8139bd"/>
<circle cx="379.3" cy="409.3" r="3.5" fill="#437aef"/>
<circle cx="371.5" cy="407.5" r="3.5" fill="#437cf0"/>
<circle cx="377.3" cy="409.6" r="3.5" fill="#4277ed"/>
<circle cx="374.1" cy="402.7" r="3.5" fill="#7547c9"/>
<circle cx="377.5" cy="407.2" r="3.5" fill="#714bcc"/>
<circle cx="375.2" cy="396.1" r="3.5" fill="#704ccd"/>
<circle cx="376.2" cy="407.0" r="3.5" fill="#447ef1"/>
<circle cx="380.9" cy="404.8" r="3.5" fill="#7943c5"/>
<circle cx="384.0" cy="400.5" r="3.5" fill="#437aef"/>
<circle cx="375.9" cy="402.9" r="3.5" fill="#447ff2"/>
<circle cx="383.9" cy="409.3" r="3.5" fill="#7b41c3"/>
<circle cx="370.0" cy="403.3" r="3.5" fill="#8433b8"/>
<circle cx="380.8" cy="392.0" r="3.5" fill="#4277ee"/>
<circle cx="385.3" cy="398.3" r="3.5" fill="#e0004e"/>
<circle cx="379.1" cy="403.3" r="3.5" fill="#e0004e"/>
<circle cx="380.7" cy="413.9" r="3.5" fill="#e0004e"/>
<circle cx="379.3" cy="387.8" r="3.5" fill="#5e5bdb"/>
<circle cx="382.5" cy="400.3" r="3.5" fill="#b50497"/>
<circle cx="388.0" cy="405.2" r="3.5" fill="#447df1"/>
<circle cx="383.8" cy="405.3" r="3.5" fill="#4375ed"/>
<circle cx="374.9" cy="411.6" r="3.5" fill="#4480f3"/>
<circle cx="383.4" cy="411.6" r="3.5" fill="#bb0194"/>
<circle cx="379.4" cy="418.0" r="3.5" fill="#7c40c2"/>
<circle cx="379.0" cy="416.5" r="3.5" fill="#bf0090"/>
<circle cx="384.1" cy="407.5" r="3.5" fill="#7745c6"/>
<circle cx="385.4" cy="402.9" r="3.5" fill="#803abe"/>
<circle cx="387.3" cy="404.7" r="3.5" fill="#6b51d1"/>
<circle cx="382.4" cy="398.1" r="3.5" fill="#7b41c3"/>
<circle cx="385.4" cy="400.7" r="3.5" fill="#4480f2"/>
<circle cx="385.4" cy="407.4" r="3.5" fill="#7745c7"/>
<circle cx="377.4" cy="394.3" r="3.5" fill="#e0004e"/>
<circle cx="380.9" cy="400.8" r="3.5" fill="#8138bd"/>
<circle cx="382.6" cy="396.5" r="3.5" fill="#4277ee"/>
<circle cx="374.6" cy="449.8" r="3.5" fill="#447ff2"/>
<circle cx="376.7" cy="453.1" r="3.5" fill="#4481f3"/>
<circle cx="366.9" cy="451.4" r="3.5" fill="#4581f3"/>
<circle cx="368.5" cy="450.9" r="3.5" fill="#4581f3"/>
<circle cx="373.2" cy="450.4" r="3.5" fill="#4583f4"/>
<circle cx="372.0" cy="453.3" r="3.5" fill="#4583f4"/>
<circle cx="371.7" cy="450.4" r="3.5" fill="#4582f4"/>
<circle cx="365.0" cy="453.0" r="3.5" fill="#4581f3"/>
<circle cx="373.1" cy="455.1" r="3.5" fill="#4583f5"/>
<circle cx="362.6" cy="453.1" r="3.5" fill="#437cf1"/>
<circle cx="374.7" cy="455.0" r="3.5" fill="#4583f4"/>
<circle cx="372.8" cy="455.7" r="3.5" fill="#4583f4"/>
<circle cx="367.7" cy="455.0" r="3.5" fill="#4583f4"/>
<circle cx="374.9" cy="452.9" r="3.5" fill="#4582f4"/>
<circle cx="365.9" cy="454.3" r="3.5" fill="#4685f5"/>
<circle cx="368.1" cy="453.3" r="3.5" fill="#7349cb"/>
<circle cx="361.1" cy="452.7" r="3.5" fill="#4472eb"/>
<circle cx="371.3" cy="455.3" r="3.5" fill="#4480f3"/>
<circle cx="377.1" cy="455.3" r="3.5" fill="#447ef1"/>
<circle cx="372.9" cy="452.7" r="3.5" fill="#4584f5"/>
<circle cx="374.6" cy="456.0" r="3.5" fill="#4583f4"/>
<circle cx="369.9" cy="452.8" r="3.5" fill="#4582f4"/>
<circle cx="376.3" cy="456.5" r="3.5" fill="#447ff2"/>
<circle cx="376.8" cy="450.8" r="3.5" fill="#447ef1"/>
<circle cx="376.7" cy="449.7" r="3.5" fill="#4480f2"/>
<circle cx="369.3" cy="454.8" r="3.5" fill="#4582f4"/>
<circle cx="364.8" cy="451.6" r="3.5" fill="#4480f2"/>
<circle cx="370.2" cy="450.9" r="3.5" fill="#4480f3"/>
<circle cx="364.6" cy="454.3" r="3.5" fill="#4480f2"/>
<circle cx="361.2" cy="452.9" r="3.5" fill="#456fea"/>
<circle cx="362.8" cy="453.6" r="3.5" fill="#4685f5"/>
<circle cx="366.9" cy="453.2" r="3.5" fill="#7547c8"/>
<circle cx="361.6" cy="453.6" r="3.5" fill="#466de9"/>
<circle cx="374.8" cy="450.9" r="3.5" fill="#4582f4"/>
<circle cx="373.4" cy="450.4" r="3.5" fill="#4480f3"/>
<circle cx="362.7" cy="452.4" r="3.5" fill="#4583f4"/>
<circle cx="387.6" cy="451.6" r="3.5" fill="#8532b8"/>
<circle cx="389.1" cy="452.0" r="3.5" fill="#de0055"/>
<circle cx="392.6" cy="452.2" r="3.5" fill="#df0050"/>
<circle cx="391.2" cy="451.9" r="3.5" fill="#e0004e"/>
<circle cx="386.3" cy="453.3" r="3.5" fill="#8c28b0"/>
<circle cx="385.6" cy="451.4" r="3.5" fill="#8730b6"/>
<circle cx="387.5" cy="453.1" r="3.5" fill="#8a2bb3"/>
<circle cx="392.5" cy="453.9" r="3.5" fill="#e0004e"/>
<circle cx="389.3" cy="454.4" r="3.5" fill="#e0004e"/>
<circle cx="389.4" cy="453.2" r="3.5" fill="#e0004e"/>
<circle cx="386.0" cy="454.8" r="3.5" fill="#882db4"/>
<circle cx="391.0" cy="454.1" r="3.5" fill="#e0004e"/>
<circle cx="391.0" cy="452.7" r="3.5" fill="#e0004e"/>
<circle cx="387.9" cy="454.4" r="3.5" fill="#892db4"/>
<circle cx="392.3" cy="452.8" r="3.5" fill="#df0051"/>
<circle cx="381.0" cy="443.1" r="3.5" fill="#ba0294"/>
<circle cx="379.7" cy="462.9" r="3.5" fill="#882eb5"/>
<circle cx="380.9" cy="466.9" r="3.5" fill="#ad089b"/>
<circle cx="384.4" cy="454.2" r="3.5" fill="#8237bc"/>
<circle cx="381.0" cy="436.2" r="3.5" fill="#9221ac"/>
<circle cx="382.7" cy="460.8" r="3.5" fill="#9d14a5"/>
<circle cx="384.3" cy="452.1" r="3.5" fill="#c0008f"/>
<circle cx="382.7" cy="452.1" r="3.5" fill="#bb0294"/>
<circle cx="382.7" cy="454.4" r="3.5" fill="#b40497"/>
<circle cx="380.1" cy="465.2" r="3.5" fill="#db005f"/>
<circle cx="382.1" cy="463.0" r="3.5" fill="#c3008c"/>
<circle cx="380.6" cy="469.4" r="3.5" fill="#b50497"/>
<circle cx="382.7" cy="447.3" r="3.5" fill="#7f3bbf"/>
<circle cx="383.7" cy="456.2" r="3.5" fill="#981aa8"/>
<circle cx="382.0" cy="440.9" r="3.5" fill="#7d3dc0"/>
<circle cx="380.3" cy="467.1" r="3.5" fill="#9919a8"/>
<circle cx="380.9" cy="456.2" r="3.5" fill="#af079a"/>
<circle cx="380.3" cy="438.7" r="3.5" fill="#c1008e"/>
<circle cx="379.3" cy="447.7" r="3.5" fill="#b70396"/>
<circle cx="381.9" cy="467.4" r="3.5" fill="#dc005c"/>
<circle cx="381.8" cy="465.1" r="3.5" fill="#8f25ae"/>
<circle cx="381.1" cy="439.1" r="3.5" fill="#b40598"/>
<circle cx="379.8" cy="443.4" r="3.5" fill="#9b16a6"/>
<circle cx="382.4" cy="456.3" r="3.5" fill="#bc0193"/>
<circle cx="379.5" cy="458.7" r="3.5" fill="#ac089c"/>
<circle cx="381.2" cy="451.6" r="3.5" fill="#b30598"/>
<circle cx="377.8" cy="451.8" r="3.5" fill="#941fab"/>
<circle cx="378.3" cy="456.5" r="3.5" fill="#8335ba"/>
<circle cx="380.7" cy="469.7" r="3.5" fill="#9c16a6"/>
<circle cx="382.5" cy="458.6" r="3.5" fill="#c00090"/>
<circle cx="379.3" cy="460.7" r="3.5" fill="#8335ba"/>
<circle cx="379.6" cy="451.8" r="3.5" fill="#872fb6"/>
<circle cx="380.8" cy="440.8" r="3.5" fill="#bc0193"/>
<circle cx="379.6" cy="449.6" r="3.5" fill="#c3008c"/>
<circle cx="379.2" cy="454.5" r="3.5" fill="#7b41c3"/>
<circle cx="382.9" cy="444.9" r="3.5" fill="#8335ba"/>
<circle cx="379.6" cy="456.4" r="3.5" fill="#a70b9e"/>
<circle cx="378.3" cy="449.6" r="3.5" fill="#a50b9f"/>
<circle cx="382.8" cy="449.5" r="3.5" fill="#b80395"/>
<circle cx="380.8" cy="465.3" r="3.5" fill="#dc005d"/>
<circle cx="380.9" cy="463.2" r="3.5" fill="#c4008a"/>
<circle cx="381.7" cy="438.5" r="3.5" fill="#ba0294"/>
<circle cx="380.3" cy="441.0" r="3.5" fill="#b40597"/>
<circle cx="381.0" cy="449.9" r="3.5" fill="#af079a"/>
<circle cx="379.2" cy="445.1" r="3.5" fill="#d90065"/>
<circle cx="383.7" cy="449.4" r="3.5" fill="#db0062"/>
<circle cx="380.9" cy="447.3" r="3.5" fill="#b70396"/>
<circle cx="378.1" cy="454.3" r="3.5" fill="#c1008f"/>
<circle cx="382.4" cy="443.2" r="3.5" fill="#c0008f"/>
<circle cx="381.1" cy="458.7" r="3.5" fill="#9c15a5"/>
<circle cx="381.0" cy="454.2" r="3.5" fill="#aa099d"/>
<circle cx="380.9" cy="445.6" r="3.5" fill="#ba0294"/>
<circle cx="380.8" cy="460.5" r="3.5" fill="#be0092"/>
<circle cx="381.4" cy="469.5" r="3.5" fill="#9024ae"/>
<circle cx="362.0" cy="502.0" r="3.5" fill="#e00050"/>
<circle cx="364.4" cy="501.9" r="3.5" fill="#e0004e"/>
<circle cx="371.0" cy="500.5" r="3.5" fill="#e0004f"/>
<circle cx="369.2" cy="503.8" r="3.5" fill="#e0004e"/>
<circle cx="372.7" cy="501.8" r="3.5" fill="#e0004e"/>
<circle cx="369.0" cy="502.0" r="3.5" fill="#e0004e"/>
<circle cx="362.2" cy="501.0" r="3.5" fill="#e0004e"/>
<circle cx="366.0" cy="503.5" r="3.5" fill="#e0004e"/>
<circle cx="371.0" cy="503.9" r="3.5" fill="#e0004e"/>
<circle cx="362.5" cy="503.3" r="3.5" fill="#e0004e"/>
<circle cx="363.8" cy="500.9" r="3.5" fill="#e0004f"/>
<circle cx="367.5" cy="500.7" r="3.5" fill="#e0004e"/>
<circle cx="367.5" cy="501.9" r="3.5" fill="#df0052"/>
<circle cx="372.2" cy="503.7" r="3.5" fill="#df0050"/>
<circle cx="369.2" cy="500.4" r="3.5" fill="#e00050"/>
<circle cx="372.1" cy="500.1" r="3.5" fill="#e0004e"/>
<circle cx="364.6" cy="503.0" r="3.5" fill="#e0004e"/>
<circle cx="367.1" cy="503.2" r="3.5" fill="#e0004f"/>
<circle cx="360.9" cy="502.3" r="3.5" fill="#df0050"/>
<circle cx="370.4" cy="502.2" r="3.5" fill="#e0004e"/>
<circle cx="365.3" cy="500.9" r="3.5" fill="#e0004e"/>
<circle cx="360.4" cy="500.9" r="3.5" fill="#df0051"/>
<circle cx="366.0" cy="502.0" r="3.5" fill="#e0004e"/>
<circle cx="360.4" cy="503.0" r="3.5" fill="#e0004e"/>
<circle cx="359.4" cy="502.2" r="3.5" fill="#e0004e"/>
<circle cx="359.1" cy="503.0" r="3.5" fill="#df0050"/>
<circle cx="359.3" cy="500.9" r="3.5" fill="#e0004e"/>
<circle cx="387.7" cy="503.9" r="3.5" fill="#437bf0"/>
<circle cx="389.7" cy="501.8" r="3.5" fill="#4582f4"/>
<circle cx="388.0" cy="501.8" r="3.5" fill="#437cf0"/>
<circle cx="394.3" cy="503.5" r="3.5" fill="#4480f3"/>
<circle cx="394.5" cy="502.1" r="3.5" fill="#437bf0"/>
<circle cx="393.0" cy="500.8" r="3.5" fill="#4581f3"/>
<circle cx="396.0" cy="502.9" r="3.5" fill="#437aef"/>
<circle cx="394.4" cy="500.8" r="3.5" fill="#4583f4"/>
<circle cx="396.6" cy="501.1" r="3.5" fill="#4583f4"/>
<circle cx="391.4" cy="501.9" r="3.5" fill="#4581f3"/>
<circle cx="391.4" cy="503.5" r="3.5" fill="#4581f3"/>
<circle cx="385.7" cy="503.8" r="3.5" fill="#437bf0"/>
<circle cx="393.3" cy="503.3" r="3.5" fill="#4582f4"/>
<circle cx="389.3" cy="500.5" r="3.5" fill="#437bf0"/>
<circle cx="389.9" cy="503.7" r="3.5" fill="#4581f3"/>
<circle cx="385.7" cy="499.8" r="3.5" fill="#437bf0"/>
<circle cx="395.8" cy="502.2" r="3.5" fill="#447ef1"/>
<circle cx="385.6" cy="501.8" r="3.5" fill="#4685f5"/>
<circle cx="393.2" cy="502.0" r="3.5" fill="#4582f4"/>
<circle cx="387.3" cy="499.9" r="3.5" fill="#4480f2"/>
<circle cx="391.5" cy="500.1" r="3.5" fill="#4278ee"/>
<circle cx="379.8" cy="485.8" r="3.5" fill="#c70087"/>
<circle cx="383.0" cy="507.9" r="3.5" fill="#447ff2"/>
<circle cx="380.2" cy="503.3" r="3.5" fill="#4375ec"/>
<circle cx="382.9" cy="501.1" r="3.5" fill="#447ff2"/>
<circle cx="381.5" cy="514.3" r="3.5" fill="#437bf0"/>
<circle cx="384.5" cy="500.8" r="3.5" fill="#8335ba"/>
<circle cx="381.4" cy="510.0" r="3.5" fill="#8335ba"/>
<circle cx="380.1" cy="488.1" r="3.5" fill="#8335ba"/>
<circle cx="382.8" cy="496.7" r="3.5" fill="#4375ec"/>
<circle cx="383.1" cy="505.5" r="3.5" fill="#4375ec"/>
<circle cx="380.6" cy="516.2" r="3.5" fill="#8335ba"/>
<circle cx="377.9" cy="510.0" r="3.5" fill="#437bf0"/>
<circle cx="379.9" cy="516.2" r="3.5" fill="#6458d8"/>
<circle cx="381.7" cy="491.9" r="3.5" fill="#6b51d2"/>
<circle cx="378.1" cy="505.4" r="3.5" fill="#8335ba"/>
<circle cx="382.2" cy="493.9" r="3.5" fill="#447ff2"/>
<circle cx="381.2" cy="489.6" r="3.5" fill="#6b51d2"/>
<circle cx="384.6" cy="503.0" r="3.5" fill="#447ff2"/>
<circle cx="379.7" cy="513.7" r="3.5" fill="#6458d8"/>
<circle cx="380.7" cy="488.0" r="3.5" fill="#c70087"/>
<circle cx="382.2" cy="509.9" r="3.5" fill="#6458d8"/>
<circle cx="381.7" cy="503.5" r="3.5" fill="#447ff2"/>
<circle cx="378.3" cy="501.0" r="3.5" fill="#437bf0"/>
<circle cx="379.7" cy="507.2" r="3.5" fill="#437bf0"/>
<circle cx="377.5" cy="507.7" r="3.5" fill="#e0004e"/>
<circle cx="381.8" cy="496.7" r="3.5" fill="#447ff2"/>
<circle cx="379.7" cy="512.3" r="3.5" fill="#437bf0"/>
<circle cx="376.8" cy="503.5" r="3.5" fill="#437bf0"/>
<circle cx="379.3" cy="515.9" r="3.5" fill="#6458d8"/>
<circle cx="380.2" cy="505.1" r="3.5" fill="#4375ec"/>
<circle cx="375.7" cy="500.8" r="3.5" fill="#e0004e"/>
<circle cx="381.4" cy="499.0" r="3.5" fill="#447ff2"/>
<circle cx="380.2" cy="501.1" r="3.5" fill="#447ff2"/>
<circle cx="380.0" cy="494.6" r="3.5" fill="#8335ba"/>
<circle cx="377.5" cy="496.9" r="3.5" fill="#c70087"/>
<circle cx="380.0" cy="496.1" r="3.5" fill="#e0004e"/>
<circle cx="376.9" cy="505.0" r="3.5" fill="#e0004e"/>
<circle cx="376.8" cy="501.2" r="3.5" fill="#e0004e"/>
<circle cx="376.7" cy="498.6" r="3.5" fill="#8335ba"/>
<circle cx="378.1" cy="499.1" r="3.5" fill="#c70087"/>
<circle cx="375.6" cy="503.3" r="3.5" fill="#c70087"/>
<circle cx="378.1" cy="511.8" r="3.5" fill="#8335ba"/>
<circle cx="378.5" cy="507.8" r="3.5" fill="#437bf0"/>
<circle cx="378.7" cy="514.0" r="3.5" fill="#8335ba"/>
<circle cx="379.4" cy="487.4" r="3.5" fill="#6b51d2"/>
<circle cx="379.7" cy="498.4" r="3.5" fill="#8335ba"/>
<circle cx="379.9" cy="509.7" r="3.5" fill="#8335ba"/>
<circle cx="381.4" cy="505.0" r="3.5" fill="#447ff2"/>
<circle cx="381.6" cy="501.2" r="3.5" fill="#447ff2"/>
<circle cx="378.1" cy="494.3" r="3.5" fill="#c70087"/>
<circle cx="378.5" cy="503.3" r="3.5" fill="#e0004e"/>
<circle cx="383.4" cy="503.0" r="3.5" fill="#d0007c"/>
<circle cx="378.5" cy="509.6" r="3.5" fill="#6458d8"/>
<circle cx="378.5" cy="490.1" r="3.5" fill="#4868e6"/>
<circle cx="377.9" cy="494.3" r="3.5" fill="#e0004e"/>
<circle cx="378.3" cy="496.2" r="3.5" fill="#e0004e"/>
<circle cx="380.0" cy="518.3" r="3.5" fill="#6458d8"/>
<circle cx="378.4" cy="492.2" r="3.5" fill="#4868e6"/>
<circle cx="381.8" cy="511.8" r="3.5" fill="#437bf0"/>
<circle cx="381.4" cy="507.6" r="3.5" fill="#447ff2"/>
<circle cx="381.4" cy="494.2" r="3.5" fill="#d0007c"/>
<circle cx="380.3" cy="491.8" r="3.5" fill="#6b51d2"/>
<circle cx="383.2" cy="498.8" r="3.5" fill="#447ff2"/>
<circle cx="380.1" cy="489.8" r="3.5" fill="#4868e6"/>
<circle cx="371.5" cy="550.7" r="3.5" fill="#4583f4"/>
<circle cx="374.0" cy="550.7" r="3.5" fill="#4583f4"/>
<circle cx="376.0" cy="551.2" r="3.5" fill="#4583f4"/>
<circle cx="388.6" cy="550.9" r="3.5" fill="#e0004e"/>
<circle cx="391.7" cy="550.5" r="3.5" fill="#e00050"/>
<circle cx="394.6" cy="550.7" r="3.5" fill="#e00050"/>
<circle cx="393.5" cy="550.7" r="3.5" fill="#e0004e"/>
<circle cx="386.0" cy="550.5" r="3.5" fill="#e0004e"/>
<circle cx="389.9" cy="550.4" r="3.5" fill="#e0004e"/>
<circle cx="429.3" cy="550.4" r="3.5" fill="#e0004e"/>
<circle cx="405.8" cy="550.5" r="3.5" fill="#e0004e"/>
<circle cx="424.3" cy="550.9" r="3.5" fill="#df0051"/>
<circle cx="419.0" cy="551.0" r="3.5" fill="#e00050"/>
<circle cx="403.8" cy="550.7" r="3.5" fill="#e0004e"/>
<circle cx="427.3" cy="550.4" r="3.5" fill="#df0051"/>
<circle cx="407.1" cy="550.7" r="3.5" fill="#e0004f"/>
<circle cx="420.8" cy="551.1" r="3.5" fill="#df0052"/>
<circle cx="430.9" cy="550.5" r="3.5" fill="#e0004e"/>
<circle cx="411.1" cy="550.6" r="3.5" fill="#e0004e"/>
<circle cx="432.9" cy="550.7" r="3.5" fill="#e0004e"/>
<circle cx="416.1" cy="550.8" r="3.5" fill="#e0004e"/>
<circle cx="417.6" cy="550.6" r="3.5" fill="#e0004e"/>
<circle cx="412.4" cy="550.4" r="3.5" fill="#df0052"/>
<circle cx="422.5" cy="550.8" r="3.5" fill="#e0004e"/>
<circle cx="402.5" cy="550.9" r="3.5" fill="#df0051"/>
<circle cx="400.3" cy="550.7" r="3.5" fill="#e0004e"/>
<circle cx="409.4" cy="550.7" r="3.5" fill="#e0004f"/>
<circle cx="425.8" cy="550.7" r="3.5" fill="#df0052"/>
<circle cx="434.3" cy="550.4" r="3.5" fill="#e0004e"/>
<circle cx="413.9" cy="550.8" r="3.5" fill="#e0004e"/>
<circle cx="379.7" cy="532.8" r="3.5" fill="#4582f4"/>
<circle cx="379.4" cy="558.4" r="3.5" fill="#4582f4"/>
<circle cx="379.4" cy="561.7" r="3.5" fill="#4685f5"/>
<circle cx="379.0" cy="538.6" r="3.5" fill="#4481f3"/>
<circle cx="379.2" cy="560.4" r="3.5" fill="#4686f6"/>
<circle cx="379.6" cy="563.9" r="3.5" fill="#4583f4"/>
<circle cx="379.0" cy="549.4" r="3.5" fill="#4584f5"/>
<circle cx="379.0" cy="540.7" r="3.5" fill="#4584f5"/>
<circle cx="378.9" cy="544.2" r="3.5" fill="#4685f5"/>
<circle cx="379.3" cy="535.2" r="3.5" fill="#4583f4"/>
<circle cx="379.2" cy="550.7" r="3.5" fill="#4480f3"/>
<circle cx="379.3" cy="567.6" r="3.5" fill="#4584f5"/>
<circle cx="379.0" cy="547.7" r="3.5" fill="#4583f4"/>
<circle cx="379.2" cy="565.6" r="3.5" fill="#4581f3"/>
<circle cx="379.0" cy="542.4" r="3.5" fill="#4583f5"/>
<circle cx="379.3" cy="552.9" r="3.5" fill="#4684f5"/>
<circle cx="379.9" cy="556.7" r="3.5" fill="#4583f4"/>
<circle cx="379.7" cy="554.4" r="3.5" fill="#4583f4"/>
<circle cx="379.5" cy="536.4" r="3.5" fill="#4582f4"/>
<circle cx="379.1" cy="545.9" r="3.5" fill="#4582f3"/>
<circle cx="442.5" cy="550.7" r="3.5" fill="#e0004e"/>
<circle cx="465.0" cy="550.7" r="3.5" fill="#e0004e"/>
<circle cx="473.5" cy="550.7" r="3.5" fill="#e0004e"/>
<circle cx="1178.6" cy="150.2" r="3.5" fill="#437cf0"/>
<circle cx="1189.0" cy="168.7" r="3.5" fill="#4374ec"/>
<circle cx="1175.8" cy="161.4" r="3.5" fill="#4279ef"/>
<circle cx="1192.0" cy="152.4" r="3.5" fill="#476be8"/>
<circle cx="1180.8" cy="163.7" r="3.5" fill="#437df1"/>
<circle cx="1221.3" cy="155.8" r="3.5" fill="#7b41c3"/>
<circle cx="1182.4" cy="166.0" r="3.5" fill="#4277ed"/>
<circle cx="1202.8" cy="152.9" r="3.5" fill="#5e5bdb"/>
<circle cx="1190.9" cy="159.5" r="3.5" fill="#4278ee"/>
<circle cx="1182.0" cy="140.3" r="3.5" fill="#4480f2"/>
<circle cx="1187.4" cy="149.8" r="3.5" fill="#4474ec"/>
<circle cx="1186.1" cy="154.8" r="3.5" fill="#4277ed"/>
<circle cx="1222.7" cy="153.8" r="3.5" fill="#8039bd"/>
<circle cx="1191.1" cy="143.0" r="3.5" fill="#476be8"/>
<circle cx="1194.0" cy="161.7" r="3.5" fill="#4e65e3"/>
<circle cx="1193.0" cy="154.9" r="3.5" fill="#476ae7"/>
<circle cx="1186.2" cy="138.5" r="3.5" fill="#4472eb"/>
<circle cx="1186.1" cy="168.5" r="3.5" fill="#4278ee"/>
<circle cx="1199.4" cy="154.9" r="3.5" fill="#5e5cdb"/>
<circle cx="1182.3" cy="168.9" r="3.5" fill="#4480f2"/>
<circle cx="1190.9" cy="145.2" r="3.5" fill="#4474ec"/>
<circle cx="1174.1" cy="160.3" r="3.5" fill="#437aef"/>
<circle cx="1170.6" cy="154.7" r="3.5" fill="#447ef1"/>
<circle cx="1182.5" cy="157.3" r="3.5" fill="#427aef"/>
<circle cx="1178.6" cy="161.6" r="3.5" fill="#437df1"/>
<circle cx="1192.2" cy="167.2" r="3.5" fill="#4968e6"/>
<circle cx="1200.8" cy="154.5" r="3.5" fill="#5163e1"/>
<circle cx="1168.7" cy="154.4" r="3.5" fill="#4481f3"/>
<circle cx="1178.8" cy="166.0" r="3.5" fill="#4376ed"/>
<circle cx="1209.5" cy="153.0" r="3.5" fill="#6f4dce"/>
<circle cx="1214.4" cy="154.4" r="3.5" fill="#7745c7"/>
<circle cx="1201.0" cy="152.7" r="3.5" fill="#5e5bdb"/>
<circle cx="1180.5" cy="145.7" r="3.5" fill="#437df1"/>
<circle cx="1200.6" cy="156.4" r="3.5" fill="#605ada"/>
<circle cx="1185.7" cy="150.3" r="3.5" fill="#437bf0"/>
<circle cx="1187.0" cy="170.8" r="3.5" fill="#4374ec"/>
<circle cx="1184.0" cy="143.3" r="3.5" fill="#4472eb"/>
<circle cx="1190.4" cy="140.8" r="3.5" fill="#4472eb"/>
<circle cx="1181.9" cy="154.8" r="3.5" fill="#447ff2"/>
<circle cx="1182.7" cy="161.5" r="3.5" fill="#447ef1"/>
<circle cx="1174.2" cy="154.5" r="3.5" fill="#4686f6"/>
<circle cx="1179.3" cy="154.5" r="3.5" fill="#4279ef"/>
<circle cx="1197.2" cy="156.9" r="3.5" fill="#6358d8"/>
<circle cx="1180.6" cy="166.1" r="3.5" fill="#437cf0"/>
<circle cx="1190.9" cy="152.2" r="3.5" fill="#4571ea"/>
<circle cx="1194.5" cy="152.4" r="3.5" fill="#466de8"/>
<circle cx="1172.2" cy="159.3" r="3.5" fill="#437cf0"/>
<circle cx="1196.0" cy="152.4" r="3.5" fill="#4d65e4"/>
<circle cx="1187.3" cy="168.7" r="3.5" fill="#476ce8"/>
<circle cx="1175.8" cy="159.4" r="3.5" fill="#437df1"/>
<circle cx="1192.4" cy="161.6" r="3.5" fill="#466de8"/>
<circle cx="1218.2" cy="153.7" r="3.5" fill="#704ccd"/>
<circle cx="1186.1" cy="171.7" r="3.5" fill="#4473eb"/>
<circle cx="1183.6" cy="168.4" r="3.5" fill="#4277ee"/>
<circle cx="1189.1" cy="139.6" r="3.5" fill="#466ee9"/>
<circle cx="1192.0" cy="159.0" r="3.5" fill="#476ae7"/>
<circle cx="1185.2" cy="143.2" r="3.5" fill="#4376ed"/>
<circle cx="1203.9" cy="156.5" r="3.5" fill="#5d5cdb"/>
<circle cx="1187.8" cy="166.1" r="3.5" fill="#4278ee"/>
<circle cx="1209.5" cy="156.2" r="3.5" fill="#6854d4"/>
<circle cx="1176.9" cy="152.4" r="3.5" fill="#4584f5"/>
<circle cx="1180.9" cy="154.7" r="3.5" fill="#437bf0"/>
<circle cx="1222.8" cy="154.8" r="3.5" fill="#8b29b1"/>
<circle cx="1213.2" cy="154.9" r="3.5" fill="#6f4dce"/>
<circle cx="1177.0" cy="149.8" r="3.5" fill="#4480f2"/>
<circle cx="1194.5" cy="145.3" r="3.5" fill="#4869e7"/>
<circle cx="1189.1" cy="170.0" r="3.5" fill="#4472eb"/>
<circle cx="1192.2" cy="166.1" r="3.5" fill="#476be7"/>
<circle cx="1195.6" cy="154.6" r="3.5" fill="#615ada"/>
<circle cx="1175.2" cy="154.7" r="3.5" fill="#4277ee"/>
<circle cx="1194.4" cy="150.2" r="3.5" fill="#4968e6"/>
<circle cx="1177.1" cy="147.7" r="3.5" fill="#4481f3"/>
<circle cx="1175.1" cy="152.3" r="3.5" fill="#4582f4"/>
<circle cx="1180.5" cy="141.7" r="3.5" fill="#4480f2"/>
<circle cx="1170.2" cy="157.0" r="3.5" fill="#4582f4"/>
<circle cx="1192.6" cy="163.8" r="3.5" fill="#466ce8"/>
<circle cx="1224.7" cy="154.1" r="3.5" fill="#8336ba"/>
<circle cx="1179.0" cy="147.7" r="3.5" fill="#447ff2"/>
<circle cx="1191.1" cy="147.8" r="3.5" fill="#466ee9"/>
<circle cx="1212.6" cy="155.9" r="3.5" fill="#6d4fd0"/>
<circle cx="1182.5" cy="159.6" r="3.5" fill="#4481f3"/>
<circle cx="1177.5" cy="145.8" r="3.5" fill="#4582f4"/>
<circle cx="1178.8" cy="145.3" r="3.5" fill="#437cf0"/>
<circle cx="1184.4" cy="161.5" r="3.5" fill="#437df1"/>
<circle cx="1188.6" cy="148.1" r="3.5" fill="#4473ec"/>
<circle cx="1190.9" cy="161.5" r="3.5" fill="#466ee9"/>
<circle cx="1196.3" cy="157.0" r="3.5" fill="#5c5ddc"/>
<circle cx="1176.8" cy="163.8" r="3.5" fill="#447ef2"/>
<circle cx="1174.1" cy="159.1" r="3.5" fill="#4686f6"/>
<circle cx="1190.9" cy="150.2" r="3.5" fill="#456fea"/>
<circle cx="1213.3" cy="153.4" r="3.5" fill="#7943c5"/>
<circle cx="1187.0" cy="138.0" r="3.5" fill="#4375ec"/>
<circle cx="1193.9" cy="159.1" r="3.5" fill="#4868e6"/>
<circle cx="1178.7" cy="143.4" r="3.5" fill="#437cf1"/>
<circle cx="1192.4" cy="145.2" r="3.5" fill="#4868e6"/>
<circle cx="1182.1" cy="145.7" r="3.5" fill="#4279ef"/>
<circle cx="1177.0" cy="156.8" r="3.5" fill="#4686f6"/>
<circle cx="1170.6" cy="152.4" r="3.5" fill="#4686f6"/>
<circle cx="1192.5" cy="147.9" r="3.5" fill="#456fe9"/>
<circle cx="1180.7" cy="159.1" r="3.5" fill="#437bef"/>
<circle cx="1224.6" cy="155.6" r="3.5" fill="#8a2ab2"/>
<circle cx="1216.0" cy="153.1" r="3.5" fill="#6e4ecf"/>
<circle cx="1172.0" cy="154.7" r="3.5" fill="#4581f3"/>
<circle cx="1216.7" cy="156.1" r="3.5" fill="#7844c6"/>
<circle cx="1180.4" cy="149.8" r="3.5" fill="#4581f3"/>
<circle cx="1180.2" cy="167.8" r="3.5" fill="#4584f5"/>
<circle cx="1174.1" cy="157.1" r="3.5" fill="#437cf0"/>
<circle cx="1189.3" cy="159.1" r="3.5" fill="#4471eb"/>
<circle cx="1205.9" cy="154.5" r="3.5" fill="#6953d3"/>
<circle cx="1207.5" cy="156.4" r="3.5" fill="#605ada"/>
<circle cx="1187.3" cy="138.6" r="3.5" fill="#4474ec"/>
<circle cx="1206.2" cy="153.0" r="3.5" fill="#5262e1"/>
<circle cx="1188.6" cy="157.0" r="3.5" fill="#4277ee"/>
<circle cx="1178.6" cy="152.1" r="3.5" fill="#4583f4"/>
<circle cx="1221.1" cy="154.8" r="3.5" fill="#7c3fc1"/>
<circle cx="1170.5" cy="152.0" r="3.5" fill="#4686f6"/>
<circle cx="1204.2" cy="154.5" r="3.5" fill="#6656d7"/>
<circle cx="1206.5" cy="156.3" r="3.5" fill="#6b51d2"/>
<circle cx="1210.8" cy="152.9" r="3.5" fill="#6557d7"/>
<circle cx="1214.2" cy="153.1" r="3.5" fill="#7646c8"/>
<circle cx="1184.1" cy="147.9" r="3.5" fill="#447ff2"/>
<circle cx="1194.4" cy="157.2" r="3.5" fill="#5163e2"/>
<circle cx="1174.0" cy="150.3" r="3.5" fill="#4480f3"/>
<circle cx="1221.6" cy="153.6" r="3.5" fill="#7943c5"/>
<circle cx="1183.9" cy="157.0" r="3.5" fill="#4279ef"/>
<circle cx="1204.2" cy="152.9" r="3.5" fill="#6755d5"/>
<circle cx="1166.6" cy="155.0" r="3.5" fill="#447ff2"/>
<circle cx="1170.1" cy="157.2" r="3.5" fill="#447ef1"/>
<circle cx="1176.9" cy="165.2" r="3.5" fill="#437cf1"/>
<circle cx="1220.1" cy="155.9" r="3.5" fill="#7646c7"/>
<circle cx="1187.2" cy="156.7" r="3.5" fill="#4474ec"/>
<circle cx="1177.5" cy="144.1" r="3.5" fill="#447ff2"/>
<circle cx="1172.0" cy="152.2" r="3.5" fill="#437df1"/>
<circle cx="1199.3" cy="156.7" r="3.5" fill="#4a67e5"/>
<circle cx="1211.4" cy="156.3" r="3.5" fill="#6a52d2"/>
<circle cx="1219.5" cy="153.4" r="3.5" fill="#7844c6"/>
<circle cx="1178.9" cy="163.6" r="3.5" fill="#4376ed"/>
<circle cx="1182.5" cy="150.1" r="3.5" fill="#4375ec"/>
<circle cx="1184.1" cy="166.0" r="3.5" fill="#4279ef"/>
<circle cx="1191.3" cy="166.4" r="3.5" fill="#466ee9"/>
<circle cx="1184.4" cy="139.5" r="3.5" fill="#4278ee"/>
<circle cx="1180.9" cy="147.7" r="3.5" fill="#4582f4"/>
<circle cx="1183.8" cy="154.7" r="3.5" fill="#4570ea"/>
<circle cx="1189.1" cy="149.9" r="3.5" fill="#4472eb"/>
<circle cx="1217.6" cy="154.5" r="3.5" fill="#7547c8"/>
<circle cx="1191.0" cy="168.7" r="3.5" fill="#4472eb"/>
<circle cx="1185.3" cy="159.4" r="3.5" fill="#476ae7"/>
<circle cx="1177.3" cy="154.8" r="3.5" fill="#4480f3"/>
<circle cx="1176.9" cy="161.9" r="3.5" fill="#4583f4"/>
<circle cx="1202.9" cy="156.8" r="3.5" fill="#5660df"/>
<circle cx="1186.9" cy="159.6" r="3.5" fill="#4375ec"/>
<circle cx="1180.8" cy="157.0" r="3.5" fill="#437bf0"/>
<circle cx="1208.2" cy="154.9" r="3.5" fill="#6854d5"/>
<circle cx="1182.2" cy="141.1" r="3.5" fill="#447df1"/>
<circle cx="1175.2" cy="150.0" r="3.5" fill="#437bf0"/>
<circle cx="1192.8" cy="150.1" r="3.5" fill="#476be8"/>
<circle cx="1189.6" cy="154.7" r="3.5" fill="#4278ee"/>
<circle cx="1172.0" cy="150.1" r="3.5" fill="#447ff2"/>
<circle cx="1182.1" cy="168.6" r="3.5" fill="#4481f3"/>
<circle cx="1185.5" cy="161.9" r="3.5" fill="#4279ef"/>
<circle cx="1178.9" cy="159.3" r="3.5" fill="#4278ee"/>
<circle cx="1189.3" cy="140.7" r="3.5" fill="#466fe9"/>
<circle cx="1175.2" cy="147.8" r="3.5" fill="#447ef2"/>
<circle cx="1175.4" cy="156.8" r="3.5" fill="#437df1"/>
<circle cx="1184.3" cy="159.4" r="3.5" fill="#4277ed"/>
<circle cx="1175.5" cy="162.9" r="3.5" fill="#437df1"/>
<circle cx="1183.5" cy="145.5" r="3.5" fill="#4279ef"/>
<circle cx="1182.5" cy="152.2" r="3.5" fill="#437bf0"/>
<circle cx="1185.6" cy="157.0" r="3.5" fill="#427aef"/>
<circle cx="1183.7" cy="152.6" r="3.5" fill="#437bf0"/>
<circle cx="1182.4" cy="164.0" r="3.5" fill="#447ef1"/>
<circle cx="1188.9" cy="164.0" r="3.5" fill="#466de8"/>
<circle cx="1192.8" cy="157.2" r="3.5" fill="#4967e6"/>
<circle cx="1198.9" cy="153.0" r="3.5" fill="#6854d5"/>
<circle cx="1176.9" cy="159.3" r="3.5" fill="#447ef1"/>
<circle cx="1202.3" cy="155.0" r="3.5" fill="#5b5ddd"/>
<circle cx="1187.0" cy="161.7" r="3.5" fill="#466ee9"/>
<circle cx="1216.0" cy="154.5" r="3.5" fill="#704ccd"/>
<circle cx="1215.0" cy="155.9" r="3.5" fill="#7a42c4"/>
<circle cx="1197.4" cy="152.6" r="3.5" fill="#5362e0"/>
<circle cx="1182.2" cy="147.6" r="3.5" fill="#4474ec"/>
<circle cx="1171.9" cy="156.8" r="3.5" fill="#4584f5"/>
<circle cx="1198.0" cy="155.0" r="3.5" fill="#5a5edd"/>
<circle cx="1173.8" cy="152.5" r="3.5" fill="#4583f4"/>
<circle cx="1196.2" cy="150.1" r="3.5" fill="#585fde"/>
<circle cx="1180.9" cy="143.2" r="3.5" fill="#447ef2"/>
<circle cx="1184.0" cy="163.9" r="3.5" fill="#4571eb"/>
<circle cx="1187.2" cy="164.2" r="3.5" fill="#466ce8"/>
<circle cx="1185.5" cy="163.7" r="3.5" fill="#4376ed"/>
<circle cx="1183.8" cy="140.9" r="3.5" fill="#437bf0"/>
<circle cx="1185.8" cy="152.2" r="3.5" fill="#4374ec"/>
<circle cx="1188.7" cy="145.4" r="3.5" fill="#4279ee"/>
<circle cx="1194.0" cy="147.9" r="3.5" fill="#4b66e5"/>
<circle cx="1211.1" cy="155.0" r="3.5" fill="#6f4dce"/>
<circle cx="1218.3" cy="156.2" r="3.5" fill="#7b41c3"/>
<circle cx="1168.9" cy="155.2" r="3.5" fill="#4583f4"/>
<circle cx="1181.0" cy="161.4" r="3.5" fill="#4581f3"/>
<circle cx="1180.5" cy="152.5" r="3.5" fill="#447ef2"/>
<circle cx="1186.0" cy="140.8" r="3.5" fill="#437aef"/>
<circle cx="1191.2" cy="168.6" r="3.5" fill="#4968e6"/>
<circle cx="1208.0" cy="153.1" r="3.5" fill="#6359d9"/>
<circle cx="1187.4" cy="143.1" r="3.5" fill="#466ee9"/>
<circle cx="1187.2" cy="171.3" r="3.5" fill="#4375ec"/>
<circle cx="1209.8" cy="154.9" r="3.5" fill="#704ccd"/>
<circle cx="1189.2" cy="152.2" r="3.5" fill="#4278ee"/>
<circle cx="1193.8" cy="164.0" r="3.5" fill="#4968e6"/>
<circle cx="1220.0" cy="154.7" r="3.5" fill="#7349cb"/>
<circle cx="1189.5" cy="161.4" r="3.5" fill="#4376ed"/>
<circle cx="1173.5" cy="148.9" r="3.5" fill="#4582f4"/>
<circle cx="1178.6" cy="156.9" r="3.5" fill="#447ef1"/>
<circle cx="1191.1" cy="156.9" r="3.5" fill="#476ae7"/>
<circle cx="1182.4" cy="143.5" r="3.5" fill="#437df1"/>
<circle cx="1185.6" cy="147.9" r="3.5" fill="#4374ec"/>
<circle cx="1187.7" cy="145.6" r="3.5" fill="#4374ec"/>
<circle cx="1168.9" cy="153.9" r="3.5" fill="#447df1"/>
<circle cx="1175.1" cy="146.6" r="3.5" fill="#4377ed"/>
<circle cx="1187.4" cy="152.4" r="3.5" fill="#4278ee"/>
<circle cx="1190.4" cy="154.5" r="3.5" fill="#4570ea"/>
<circle cx="1185.6" cy="145.4" r="3.5" fill="#4279ee"/>
<circle cx="1186.0" cy="138.1" r="3.5" fill="#437bf0"/>
<circle cx="1190.5" cy="141.2" r="3.5" fill="#4472eb"/>
<circle cx="1187.2" cy="140.8" r="3.5" fill="#4278ee"/>
<circle cx="1187.2" cy="148.1" r="3.5" fill="#4472eb"/>
<circle cx="1195.9" cy="159.5" r="3.5" fill="#585fde"/>
<circle cx="1223.1" cy="155.5" r="3.5" fill="#704ccd"/>
<circle cx="1192.3" cy="141.9" r="3.5" fill="#4375ec"/>
<circle cx="1183.8" cy="150.3" r="3.5" fill="#437df1"/>
<circle cx="1189.4" cy="143.3" r="3.5" fill="#4277ed"/>
<circle cx="1193.9" cy="154.6" r="3.5" fill="#4c66e4"/>
<circle cx="1192.4" cy="143.2" r="3.5" fill="#476ae7"/>
<circle cx="1189.5" cy="166.1" r="3.5" fill="#4375ec"/>
<circle cx="1185.9" cy="170.7" r="3.5" fill="#4571ea"/>
<circle cx="1184.0" cy="169.6" r="3.5" fill="#447ff2"/>
<circle cx="1187.8" cy="154.5" r="3.5" fill="#4277ee"/>
<circle cx="1224.8" cy="154.6" r="3.5" fill="#8e26af"/>
<circle cx="1185.7" cy="166.3" r="3.5" fill="#437aef"/>
<circle cx="1190.6" cy="164.0" r="3.5" fill="#466ee9"/>
<circle cx="1226.0" cy="154.7" r="3.5" fill="#be0092"/>
<circle cx="1229.5" cy="154.7" r="3.5" fill="#8335ba"/>
<circle cx="1232.0" cy="154.7" r="3.5" fill="#6458d8"/>
<circle cx="1234.5" cy="154.7" r="3.5" fill="#8c28b0"/>
<circle cx="1237.0" cy="154.7" r="3.5" fill="#a90a9d"/>
<circle cx="1240.0" cy="154.7" r="3.5" fill="#981aa8"/>
<circle cx="1242.0" cy="154.7" r="3.5" fill="#6458d8"/>
<circle cx="1244.0" cy="154.7" r="3.5" fill="#a40ca0"/>
<circle cx="1246.0" cy="154.7" r="3.5" fill="#d0007c"/>
<circle cx="1250.0" cy="154.7" r="3.5" fill="#da0064"/>
<circle cx="1253.5" cy="154.7" r="3.5" fill="#e0004e"/>
<circle cx="1265.7" cy="154.3" r="3.5" fill="#e0004f"/>
<circle cx="1263.5" cy="155.0" r="3.5" fill="#e0004e"/>
<circle cx="1269.0" cy="154.6" r="3.5" fill="#e0004e"/>
<circle cx="1261.9" cy="154.5" r="3.5" fill="#e0004e"/>
<circle cx="1266.7" cy="154.8" r="3.5" fill="#e0004e"/>
<circle cx="1295.6" cy="154.5" r="3.5" fill="#e0004f"/>
<circle cx="1311.7" cy="154.7" r="3.5" fill="#e0004e"/>
<circle cx="1335.0" cy="154.7" r="3.5" fill="#e0004e"/>
<circle cx="1339.3" cy="154.5" r="3.5" fill="#e0004f"/>
<circle cx="1302.9" cy="154.9" r="3.5" fill="#e0004e"/>
<circle cx="1306.4" cy="155.2" r="3.5" fill="#df0051"/>
<circle cx="1313.5" cy="155.0" r="3.5" fill="#e0004f"/>
<circle cx="1330.7" cy="154.4" r="3.5" fill="#e0004e"/>
<circle cx="1289.4" cy="154.5" r="3.5" fill="#e0004e"/>
<circle cx="1293.5" cy="154.6" r="3.5" fill="#df0053"/>
<circle cx="1320.3" cy="154.4" r="3.5" fill="#e0004e"/>
<circle cx="1291.1" cy="154.8" r="3.5" fill="#e0004e"/>
<circle cx="1305.0" cy="154.4" r="3.5" fill="#df0050"/>
<circle cx="1275.9" cy="155.0" r="3.5" fill="#e0004e"/>
<circle cx="1278.4" cy="154.9" r="3.5" fill="#e0004e"/>
<circle cx="1315.6" cy="154.8" r="3.5" fill="#e0004e"/>
<circle cx="1317.9" cy="154.9" r="3.5" fill="#e0004e"/>
<circle cx="1287.3" cy="154.6" r="3.5" fill="#df0050"/>
<circle cx="1341.8" cy="154.3" r="3.5" fill="#e0004e"/>
<circle cx="1309.0" cy="154.7" r="3.5" fill="#e0004e"/>
<circle cx="1344.5" cy="154.8" r="3.5" fill="#e0004f"/>
<circle cx="1337.7" cy="154.6" r="3.5" fill="#e0004f"/>
<circle cx="1324.6" cy="154.7" r="3.5" fill="#de0054"/>
<circle cx="1328.6" cy="154.6" r="3.5" fill="#e0004e"/>
<circle cx="1280.6" cy="154.4" r="3.5" fill="#e0004e"/>
<circle cx="1326.4" cy="154.2" r="3.5" fill="#e0004e"/>
<circle cx="1322.5" cy="154.7" r="3.5" fill="#e0004e"/>
<circle cx="1299.8" cy="154.6" r="3.5" fill="#e0004f"/>
<circle cx="1333.0" cy="154.7" r="3.5" fill="#e0004e"/>
<circle cx="1282.2" cy="155.1" r="3.5" fill="#e00050"/>
<circle cx="1298.5" cy="154.6" r="3.5" fill="#e0004f"/>
<circle cx="1284.3" cy="154.7" r="3.5" fill="#e0004e"/>
<circle cx="1291.0" cy="154.7" r="3.5" fill="#4e65e3"/>
<circle cx="1290.0" cy="154.7" r="3.5" fill="#e0004e"/>
<circle cx="1321.3" cy="154.7" r="3.5" fill="#9f12a3"/>
<circle cx="1352.9" cy="154.7" r="3.5" fill="#e0004e"/>
<circle cx="1361.5" cy="154.7" r="3.5" fill="#e0004e"/>
<circle cx="1371.0" cy="154.7" r="3.5" fill="#e0004e"/>
<circle cx="1374.0" cy="154.7" r="3.5" fill="#e0004e"/>
<circle cx="1378.5" cy="154.7" r="3.5" fill="#e0004e"/>
<circle cx="1383.0" cy="154.7" r="3.5" fill="#e0004e"/>
<circle cx="1391.8" cy="154.7" r="3.5" fill="#e0004e"/>
<circle cx="1409.5" cy="154.7" r="3.5" fill="#e0004e"/>
<circle cx="1414.8" cy="154.7" r="3.5" fill="#e0004e"/>
<circle cx="1418.3" cy="154.7" r="3.5" fill="#e0004e"/>
<circle cx="1438.2" cy="154.7" r="3.5" fill="#e0004e"/>
<circle cx="1463.9" cy="154.7" r="3.5" fill="#e0004e"/>
<circle cx="1479.7" cy="154.7" r="3.5" fill="#e0004e"/>
<circle cx="1490.4" cy="154.7" r="3.5" fill="#e0004e"/>
<circle cx="1497.3" cy="154.7" r="3.5" fill="#e0004e"/>
<circle cx="1533.8" cy="154.7" r="3.5" fill="#e0004e"/>
<circle cx="1641.4" cy="154.7" r="3.5" fill="#e0004e"/>
<circle cx="1395.6" cy="154.7" r="3.5" fill="#da0064"/>
<circle cx="1500.6" cy="154.7" r="3.5" fill="#d50070"/>
<circle cx="1376.5" cy="154.7" r="3.5" fill="#d80069"/>
<circle cx="1175.4" cy="204.2" r="3.5" fill="#a90a9d"/>
<circle cx="1185.5" cy="204.2" r="3.5" fill="#a90a9d"/>
<circle cx="1188.0" cy="204.2" r="3.5" fill="#8c28b0"/>
<circle cx="1190.5" cy="204.2" r="3.5" fill="#8335ba"/>
<circle cx="1193.0" cy="204.2" r="3.5" fill="#a90a9d"/>
<circle cx="1195.5" cy="204.2" r="3.5" fill="#da0064"/>
<circle cx="1227.1" cy="203.8" r="3.5" fill="#4480f3"/>
<circle cx="1216.6" cy="204.3" r="3.5" fill="#4686f6"/>
<circle cx="1221.8" cy="204.4" r="3.5" fill="#4686f6"/>
<circle cx="1218.6" cy="203.6" r="3.5" fill="#4480f3"/>
<circle cx="1223.2" cy="205.1" r="3.5" fill="#4686f6"/>
<circle cx="1230.3" cy="203.3" r="3.5" fill="#4480f3"/>
<circle cx="1223.0" cy="203.7" r="3.5" fill="#4686f6"/>
<circle cx="1226.7" cy="204.2" r="3.5" fill="#447ef2"/>
<circle cx="1209.8" cy="204.9" r="3.5" fill="#4686f6"/>
<circle cx="1228.6" cy="204.8" r="3.5" fill="#4685f6"/>
<circle cx="1228.6" cy="204.1" r="3.5" fill="#4686f6"/>
<circle cx="1216.3" cy="203.6" r="3.5" fill="#4686f6"/>
<circle cx="1216.9" cy="204.9" r="3.5" fill="#4582f4"/>
<circle cx="1221.7" cy="203.6" r="3.5" fill="#4686f6"/>
<circle cx="1208.0" cy="203.2" r="3.5" fill="#4480f3"/>
<circle cx="1210.2" cy="204.0" r="3.5" fill="#4686f6"/>
<circle cx="1231.5" cy="203.8" r="3.5" fill="#4686f6"/>
<circle cx="1215.2" cy="204.2" r="3.5" fill="#4480f3"/>
<circle cx="1225.4" cy="204.1" r="3.5" fill="#447ff2"/>
<circle cx="1210.9" cy="205.4" r="3.5" fill="#4686f6"/>
<circle cx="1225.2" cy="203.3" r="3.5" fill="#4686f6"/>
<circle cx="1213.1" cy="204.4" r="3.5" fill="#4686f6"/>
<circle cx="1220.1" cy="203.6" r="3.5" fill="#4686f6"/>
<circle cx="1226.5" cy="204.7" r="3.5" fill="#447ff2"/>
<circle cx="1229.9" cy="204.5" r="3.5" fill="#4581f3"/>
<circle cx="1213.0" cy="205.2" r="3.5" fill="#4686f6"/>
<circle cx="1222.0" cy="205.2" r="3.5" fill="#4480f3"/>
<circle cx="1219.7" cy="204.1" r="3.5" fill="#4686f6"/>
<circle cx="1229.6" cy="205.0" r="3.5" fill="#4686f6"/>
<circle cx="1218.0" cy="204.8" r="3.5" fill="#4584f5"/>
<circle cx="1231.8" cy="204.4" r="3.5" fill="#4584f5"/>
<circle cx="1219.5" cy="205.1" r="3.5" fill="#4582f4"/>
<circle cx="1207.7" cy="204.3" r="3.5" fill="#4684f5"/>
<circle cx="1224.7" cy="204.8" r="3.5" fill="#4685f5"/>
<circle cx="1214.5" cy="203.5" r="3.5" fill="#447ef1"/>
<circle cx="1210.1" cy="202.9" r="3.5" fill="#447df1"/>
<circle cx="1215.1" cy="204.9" r="3.5" fill="#4480f3"/>
<circle cx="1213.2" cy="203.1" r="3.5" fill="#4685f5"/>
<circle cx="1231.5" cy="205.1" r="3.5" fill="#4686f6"/>
<circle cx="1211.0" cy="204.4" r="3.5" fill="#4686f6"/>
<circle cx="1228.0" cy="203.8" r="3.5" fill="#4684f5"/>
<circle cx="1223.7" cy="204.3" r="3.5" fill="#4581f3"/>
<circle cx="1218.1" cy="204.2" r="3.5" fill="#4685f6"/>
<circle cx="1211.3" cy="203.1" r="3.5" fill="#4686f6"/>
<circle cx="1208.2" cy="205.5" r="3.5" fill="#4686f6"/>
<circle cx="1202.7" cy="196.7" r="3.5" fill="#4473ec"/>
<circle cx="1200.7" cy="194.3" r="3.5" fill="#4571eb"/>
<circle cx="1199.0" cy="216.7" r="3.5" fill="#447ff2"/>
<circle cx="1203.2" cy="198.3" r="3.5" fill="#4571ea"/>
<circle cx="1200.9" cy="205.3" r="3.5" fill="#803abe"/>
<circle cx="1202.9" cy="211.9" r="3.5" fill="#7349cb"/>
<circle cx="1203.6" cy="207.6" r="3.5" fill="#8039bd"/>
<circle cx="1199.1" cy="212.1" r="3.5" fill="#466ce8"/>
<circle cx="1200.8" cy="187.8" r="3.5" fill="#ac089c"/>
<circle cx="1200.7" cy="190.2" r="3.5" fill="#4376ed"/>
<circle cx="1201.9" cy="190.1" r="3.5" fill="#4570ea"/>
<circle cx="1197.9" cy="203.1" r="3.5" fill="#bf0091"/>
<circle cx="1202.4" cy="207.7" r="3.5" fill="#7448ca"/>
<circle cx="1200.8" cy="214.3" r="3.5" fill="#7b41c3"/>
<circle cx="1200.8" cy="216.5" r="3.5" fill="#7943c4"/>
<circle cx="1199.3" cy="207.6" r="3.5" fill="#b80395"/>
<circle cx="1200.9" cy="212.3" r="3.5" fill="#4376ed"/>
<circle cx="1199.3" cy="192.0" r="3.5" fill="#7c3ec1"/>
<circle cx="1201.1" cy="218.5" r="3.5" fill="#4473ec"/>
<circle cx="1200.8" cy="198.7" r="3.5" fill="#4571ea"/>
<circle cx="1202.2" cy="209.5" r="3.5" fill="#7745c7"/>
<circle cx="1197.3" cy="205.5" r="3.5" fill="#6b51d2"/>
<circle cx="1202.6" cy="216.1" r="3.5" fill="#b60497"/>
<circle cx="1202.6" cy="200.7" r="3.5" fill="#8336ba"/>
<circle cx="1202.2" cy="205.7" r="3.5" fill="#ad089b"/>
<circle cx="1202.3" cy="211.9" r="3.5" fill="#476ae7"/>
<circle cx="1200.8" cy="196.5" r="3.5" fill="#6755d6"/>
<circle cx="1200.7" cy="202.9" r="3.5" fill="#8532b7"/>
<circle cx="1201.4" cy="187.5" r="3.5" fill="#4473eb"/>
<circle cx="1203.6" cy="201.0" r="3.5" fill="#6c50d1"/>
<circle cx="1202.3" cy="192.5" r="3.5" fill="#8138bc"/>
<circle cx="1198.6" cy="212.2" r="3.5" fill="#466de9"/>
<circle cx="1199.4" cy="205.3" r="3.5" fill="#6c50d0"/>
<circle cx="1199.4" cy="194.5" r="3.5" fill="#7c3fc2"/>
<circle cx="1199.4" cy="214.4" r="3.5" fill="#ba0294"/>
<circle cx="1202.2" cy="214.1" r="3.5" fill="#7646c8"/>
<circle cx="1199.1" cy="196.9" r="3.5" fill="#8139bd"/>
<circle cx="1199.6" cy="218.4" r="3.5" fill="#7f3bbf"/>
<circle cx="1198.9" cy="213.8" r="3.5" fill="#bb0194"/>
<circle cx="1200.7" cy="220.6" r="3.5" fill="#6c50d1"/>
<circle cx="1202.8" cy="214.2" r="3.5" fill="#7943c5"/>
<circle cx="1200.4" cy="187.3" r="3.5" fill="#6755d6"/>
<circle cx="1199.4" cy="210.1" r="3.5" fill="#466de8"/>
<circle cx="1198.7" cy="194.2" r="3.5" fill="#466ee9"/>
<circle cx="1201.3" cy="220.5" r="3.5" fill="#466ce8"/>
<circle cx="1198.1" cy="200.6" r="3.5" fill="#7e3cbf"/>
<circle cx="1203.3" cy="196.2" r="3.5" fill="#7547c8"/>
<circle cx="1203.7" cy="205.5" r="3.5" fill="#8434b9"/>
<circle cx="1203.3" cy="209.4" r="3.5" fill="#6854d5"/>
<circle cx="1198.1" cy="207.5" r="3.5" fill="#803abe"/>
<circle cx="1199.3" cy="202.9" r="3.5" fill="#ac089c"/>
<circle cx="1198.4" cy="210.0" r="3.5" fill="#6458d8"/>
<circle cx="1200.3" cy="220.9" r="3.5" fill="#6458d8"/>
<circle cx="1202.3" cy="203.0" r="3.5" fill="#7a42c4"/>
<circle cx="1204.2" cy="203.4" r="3.5" fill="#b20698"/>
<circle cx="1199.3" cy="189.5" r="3.5" fill="#7e3dc0"/>
<circle cx="1202.7" cy="194.6" r="3.5" fill="#724acb"/>
<circle cx="1202.7" cy="194.3" r="3.5" fill="#6755d6"/>
<circle cx="1200.6" cy="207.8" r="3.5" fill="#7547c9"/>
<circle cx="1200.6" cy="191.8" r="3.5" fill="#7b40c2"/>
<circle cx="1201.1" cy="200.9" r="3.5" fill="#7844c6"/>
<circle cx="1199.0" cy="198.9" r="3.5" fill="#8138bc"/>
<circle cx="1201.8" cy="218.8" r="3.5" fill="#7b41c3"/>
<circle cx="1199.1" cy="200.7" r="3.5" fill="#7646c8"/>
<circle cx="1198.6" cy="196.1" r="3.5" fill="#4c66e4"/>
<circle cx="1198.0" cy="198.3" r="3.5" fill="#8433b8"/>
<circle cx="1202.7" cy="198.5" r="3.5" fill="#466ee9"/>
<circle cx="1200.6" cy="209.9" r="3.5" fill="#b10699"/>
<circle cx="1202.8" cy="216.6" r="3.5" fill="#e0004e"/>
<circle cx="1204.5" cy="202.2" r="3.5" fill="#e0004e"/>
<circle cx="1199.0" cy="206.2" r="3.5" fill="#dd0059"/>
<circle cx="1256.7" cy="204.2" r="3.5" fill="#e0004e"/>
<circle cx="1236.3" cy="204.2" r="3.5" fill="#e0004e"/>
<circle cx="1242.3" cy="204.2" r="3.5" fill="#4583f4"/>
<circle cx="1246.0" cy="204.2" r="3.5" fill="#4583f4"/>
<circle cx="1249.9" cy="204.2" r="3.5" fill="#4583f4"/>
<circle cx="1260.9" cy="204.2" r="3.5" fill="#4583f4"/>
<circle cx="1268.0" cy="204.2" r="3.5" fill="#4583f4"/>
<circle cx="1279.5" cy="204.2" r="3.5" fill="#4583f4"/>
<circle cx="1282.6" cy="204.2" r="3.5" fill="#4583f4"/>
<circle cx="1306.6" cy="204.2" r="3.5" fill="#4583f4"/>
<circle cx="1309.5" cy="204.2" r="3.5" fill="#4583f4"/>
<circle cx="1320.1" cy="204.2" r="3.5" fill="#4583f4"/>
<circle cx="1343.7" cy="204.2" r="3.5" fill="#4583f4"/>
<circle cx="1386.2" cy="204.2" r="3.5" fill="#4583f4"/>
<circle cx="1390.0" cy="204.2" r="3.5" fill="#4583f4"/>
<circle cx="1425.4" cy="204.2" r="3.5" fill="#4583f4"/>
<circle cx="1187.9" cy="253.8" r="3.5" fill="#8c28b0"/>
<circle cx="1190.5" cy="253.8" r="3.5" fill="#4278ee"/>
<circle cx="1193.0" cy="253.8" r="3.5" fill="#447ff2"/>
<circle cx="1195.5" cy="253.8" r="3.5" fill="#8c28b0"/>
<circle cx="1198.0" cy="253.8" r="3.5" fill="#4278ee"/>
<circle cx="1211.7" cy="255.0" r="3.5" fill="#9320ab"/>
<circle cx="1216.2" cy="254.4" r="3.5" fill="#e0004e"/>
<circle cx="1216.9" cy="254.1" r="3.5" fill="#e0004e"/>
<circle cx="1211.5" cy="253.0" r="3.5" fill="#e0004e"/>
<circle cx="1221.8" cy="254.5" r="3.5" fill="#e0004e"/>
<circle cx="1214.7" cy="253.7" r="3.5" fill="#df0051"/>
<circle cx="1218.0" cy="253.1" r="3.5" fill="#cc0080"/>
<circle cx="1219.8" cy="253.4" r="3.5" fill="#e00050"/>
<circle cx="1214.5" cy="254.7" r="3.5" fill="#e0004f"/>
<circle cx="1222.1" cy="253.2" r="3.5" fill="#df0051"/>
<circle cx="1209.4" cy="253.8" r="3.5" fill="#9123ad"/>
<circle cx="1217.9" cy="254.3" r="3.5" fill="#941fab"/>
<circle cx="1226.4" cy="253.2" r="3.5" fill="#df0051"/>
<circle cx="1228.1" cy="253.9" r="3.5" fill="#9819a8"/>
<circle cx="1208.5" cy="255.3" r="3.5" fill="#de0056"/>
<circle cx="1223.1" cy="254.5" r="3.5" fill="#971ca9"/>
<circle cx="1211.6" cy="253.8" r="3.5" fill="#e0004e"/>
<circle cx="1219.4" cy="254.5" r="3.5" fill="#e0004f"/>
<circle cx="1227.2" cy="254.1" r="3.5" fill="#9c15a5"/>
<circle cx="1227.0" cy="254.0" r="3.5" fill="#e0004e"/>
<circle cx="1209.4" cy="254.9" r="3.5" fill="#9221ac"/>
<circle cx="1224.6" cy="253.7" r="3.5" fill="#e0004e"/>
<circle cx="1214.5" cy="252.9" r="3.5" fill="#df0053"/>
<circle cx="1208.3" cy="252.8" r="3.5" fill="#e0004e"/>
<circle cx="1213.4" cy="252.8" r="3.5" fill="#df0053"/>
<circle cx="1223.6" cy="253.3" r="3.5" fill="#d0007b"/>
<circle cx="1207.8" cy="253.6" r="3.5" fill="#df0051"/>
<circle cx="1218.0" cy="253.8" r="3.5" fill="#e0004e"/>
<circle cx="1228.1" cy="253.6" r="3.5" fill="#e00050"/>
<circle cx="1228.0" cy="253.9" r="3.5" fill="#c60089"/>
<circle cx="1216.9" cy="253.2" r="3.5" fill="#e00050"/>
<circle cx="1222.0" cy="253.8" r="3.5" fill="#e0004e"/>
<circle cx="1225.4" cy="254.2" r="3.5" fill="#cd0080"/>
<circle cx="1212.7" cy="254.4" r="3.5" fill="#e0004e"/>
<circle cx="1209.8" cy="252.9" r="3.5" fill="#cb0082"/>
<circle cx="1219.4" cy="253.9" r="3.5" fill="#971ba9"/>
<circle cx="1213.1" cy="253.7" r="3.5" fill="#d0007c"/>
<circle cx="1224.8" cy="253.1" r="3.5" fill="#e0004e"/>
<circle cx="1223.0" cy="253.6" r="3.5" fill="#e0004e"/>
<circle cx="1203.1" cy="247.8" r="3.5" fill="#be0092"/>
<circle cx="1203.4" cy="252.0" r="3.5" fill="#8c28b0"/>
<circle cx="1204.1" cy="241.0" r="3.5" fill="#476ae7"/>
<circle cx="1204.5" cy="252.5" r="3.5" fill="#9024ae"/>
<circle cx="1204.7" cy="254.5" r="3.5" fill="#df0051"/>
<circle cx="1203.0" cy="243.2" r="3.5" fill="#466de8"/>
<circle cx="1201.3" cy="247.8" r="3.5" fill="#e0004e"/>
<circle cx="1204.4" cy="256.6" r="3.5" fill="#c0008f"/>
<circle cx="1203.2" cy="241.6" r="3.5" fill="#6953d3"/>
<circle cx="1204.4" cy="260.6" r="3.5" fill="#db005f"/>
<circle cx="1202.0" cy="238.9" r="3.5" fill="#714bcc"/>
<circle cx="1201.3" cy="258.5" r="3.5" fill="#b40597"/>
<circle cx="1203.0" cy="269.4" r="3.5" fill="#8a2bb3"/>
<circle cx="1201.7" cy="250.2" r="3.5" fill="#8e26af"/>
<circle cx="1203.7" cy="237.2" r="3.5" fill="#7349cb"/>
<circle cx="1202.8" cy="250.0" r="3.5" fill="#e0004e"/>
<circle cx="1203.9" cy="267.5" r="3.5" fill="#8e25ae"/>
<circle cx="1204.7" cy="262.9" r="3.5" fill="#941fab"/>
<circle cx="1204.2" cy="238.7" r="3.5" fill="#724acc"/>
<circle cx="1204.9" cy="250.1" r="3.5" fill="#b70396"/>
<circle cx="1201.8" cy="265.4" r="3.5" fill="#8a2bb2"/>
<circle cx="1203.3" cy="245.9" r="3.5" fill="#b90295"/>
<circle cx="1204.6" cy="243.5" r="3.5" fill="#6755d5"/>
<circle cx="1205.5" cy="256.7" r="3.5" fill="#e0004e"/>
<circle cx="1199.8" cy="254.8" r="3.5" fill="#dd005b"/>
<circle cx="1202.6" cy="237.0" r="3.5" fill="#9221ac"/>
<circle cx="1201.6" cy="263.6" r="3.5" fill="#8533b8"/>
<circle cx="1201.9" cy="267.5" r="3.5" fill="#941fab"/>
<circle cx="1201.9" cy="241.4" r="3.5" fill="#6c50d1"/>
<circle cx="1200.8" cy="256.2" r="3.5" fill="#c1008e"/>
<circle cx="1204.7" cy="258.9" r="3.5" fill="#c1008f"/>
<circle cx="1203.3" cy="267.3" r="3.5" fill="#872fb6"/>
<circle cx="1204.8" cy="245.3" r="3.5" fill="#704ccd"/>
<circle cx="1202.6" cy="269.9" r="3.5" fill="#b90295"/>
<circle cx="1203.4" cy="236.4" r="3.5" fill="#704ccd"/>
<circle cx="1204.4" cy="247.7" r="3.5" fill="#c4008b"/>
<circle cx="1201.7" cy="254.7" r="3.5" fill="#c2008e"/>
<circle cx="1206.4" cy="254.1" r="3.5" fill="#df0052"/>
<circle cx="1203.3" cy="263.5" r="3.5" fill="#8434b9"/>
<circle cx="1204.0" cy="265.4" r="3.5" fill="#882db4"/>
<circle cx="1206.1" cy="252.3" r="3.5" fill="#872fb5"/>
<circle cx="1203.0" cy="265.1" r="3.5" fill="#9221ac"/>
<circle cx="1201.5" cy="261.0" r="3.5" fill="#bb0294"/>
<circle cx="1201.5" cy="252.0" r="3.5" fill="#892db4"/>
<circle cx="1202.9" cy="260.9" r="3.5" fill="#951eaa"/>
<circle cx="1201.7" cy="243.3" r="3.5" fill="#6d4fd0"/>
<circle cx="1201.3" cy="249.7" r="3.5" fill="#8e26af"/>
<circle cx="1203.7" cy="269.5" r="3.5" fill="#882db4"/>
<circle cx="1201.4" cy="245.6" r="3.5" fill="#7349cb"/>
<circle cx="1200.0" cy="251.9" r="3.5" fill="#e0004e"/>
<circle cx="1201.6" cy="256.6" r="3.5" fill="#be0092"/>
<circle cx="1205.4" cy="249.9" r="3.5" fill="#8b29b1"/>
<circle cx="1203.1" cy="258.7" r="3.5" fill="#e0004e"/>
<circle cx="1203.4" cy="254.7" r="3.5" fill="#c4008b"/>
<circle cx="1202.9" cy="256.8" r="3.5" fill="#e0004e"/>
<circle cx="1202.9" cy="239.3" r="3.5" fill="#6e4ecf"/>
<circle cx="1205.0" cy="255.8" r="3.5" fill="#e0004e"/>
<circle cx="1203.0" cy="259.3" r="3.5" fill="#e0004e"/>
<circle cx="1207.0" cy="250.8" r="3.5" fill="#447ff2"/>
<circle cx="1236.5" cy="253.8" r="3.5" fill="#4582f4"/>
<circle cx="1242.4" cy="253.8" r="3.5" fill="#e0004e"/>
<circle cx="1257.0" cy="253.8" r="3.5" fill="#e0004e"/>
<circle cx="1253.1" cy="253.8" r="3.5" fill="#4582f4"/>
<circle cx="1263.4" cy="253.8" r="3.5" fill="#4582f4"/>
<circle cx="1277.4" cy="253.8" r="3.5" fill="#4582f4"/>
<circle cx="1304.0" cy="253.8" r="3.5" fill="#4582f4"/>
<circle cx="1316.2" cy="253.8" r="3.5" fill="#4582f4"/>
<circle cx="1163.0" cy="303.0" r="3.5" fill="#4686f6"/>
<circle cx="1167.2" cy="303.0" r="3.5" fill="#4686f6"/>
<circle cx="1197.5" cy="302.8" r="3.5" fill="#4686f6"/>
<circle cx="1193.2" cy="303.2" r="3.5" fill="#4480f2"/>
<circle cx="1193.2" cy="302.3" r="3.5" fill="#4581f3"/>
<circle cx="1190.5" cy="302.6" r="3.5" fill="#4581f3"/>
<circle cx="1191.7" cy="303.1" r="3.5" fill="#4686f6"/>
<circle cx="1192.4" cy="303.2" r="3.5" fill="#4584f5"/>
<circle cx="1198.6" cy="304.0" r="3.5" fill="#447ff2"/>
<circle cx="1190.6" cy="302.8" r="3.5" fill="#4583f4"/>
<circle cx="1198.3" cy="303.3" r="3.5" fill="#4581f3"/>
<circle cx="1191.9" cy="302.3" r="3.5" fill="#4584f5"/>
<circle cx="1193.4" cy="303.8" r="3.5" fill="#4480f3"/>
<circle cx="1195.3" cy="303.9" r="3.5" fill="#4480f3"/>
<circle cx="1198.2" cy="302.0" r="3.5" fill="#4686f6"/>
<circle cx="1190.6" cy="303.5" r="3.5" fill="#4583f4"/>
<circle cx="1195.2" cy="302.5" r="3.5" fill="#4686f6"/>
<circle cx="1188.1" cy="302.8" r="3.5" fill="#4583f4"/>
<circle cx="1195.4" cy="302.8" r="3.5" fill="#4686f6"/>
<circle cx="1196.7" cy="303.8" r="3.5" fill="#4584f5"/>
<circle cx="1197.0" cy="302.1" r="3.5" fill="#4686f6"/>
<circle cx="1215.5" cy="303.0" r="3.5" fill="#e0004e"/>
<circle cx="1221.0" cy="303.0" r="3.5" fill="#6458d8"/>
<circle cx="1224.0" cy="303.0" r="3.5" fill="#6458d8"/>
<circle cx="1227.0" cy="303.0" r="3.5" fill="#a90a9d"/>
<circle cx="1233.6" cy="303.0" r="3.5" fill="#981aa8"/>
<circle cx="1237.1" cy="303.0" r="3.5" fill="#8c28b0"/>
<circle cx="1243.0" cy="303.0" r="3.5" fill="#e0004e"/>
<circle cx="1246.6" cy="303.0" r="3.5" fill="#e0004e"/>
<circle cx="1253.1" cy="303.0" r="3.5" fill="#a40ca0"/>
<circle cx="1266.7" cy="303.0" r="3.5" fill="#e0004e"/>
<circle cx="1281.0" cy="303.0" r="3.5" fill="#dd0059"/>
<circle cx="1285.5" cy="303.0" r="3.5" fill="#dd0059"/>
<circle cx="1289.3" cy="303.0" r="3.5" fill="#de0055"/>
<circle cx="1310.0" cy="303.0" r="3.5" fill="#9a17a6"/>
<circle cx="1326.6" cy="303.0" r="3.5" fill="#9a17a6"/>
<circle cx="1208.6" cy="298.8" r="3.5" fill="#4583f4"/>
<circle cx="1201.6" cy="300.9" r="3.5" fill="#4581f3"/>
<circle cx="1203.8" cy="294.1" r="3.5" fill="#447ef2"/>
<circle cx="1206.4" cy="292.1" r="3.5" fill="#4582f4"/>
<circle cx="1201.1" cy="302.9" r="3.5" fill="#4584f5"/>
<circle cx="1202.1" cy="307.7" r="3.5" fill="#4582f4"/>
<circle cx="1207.8" cy="309.7" r="3.5" fill="#4584f5"/>
<circle cx="1205.1" cy="305.1" r="3.5" fill="#4685f5"/>
<circle cx="1207.8" cy="296.6" r="3.5" fill="#4584f5"/>
<circle cx="1203.7" cy="296.7" r="3.5" fill="#4480f3"/>
<circle cx="1205.2" cy="311.6" r="3.5" fill="#4686f6"/>
<circle cx="1208.4" cy="300.6" r="3.5" fill="#447ef2"/>
<circle cx="1206.9" cy="309.5" r="3.5" fill="#447ff2"/>
<circle cx="1204.5" cy="318.1" r="3.5" fill="#4686f6"/>
<circle cx="1208.3" cy="305.5" r="3.5" fill="#447ef2"/>
<circle cx="1206.8" cy="314.1" r="3.5" fill="#4584f5"/>
<circle cx="1205.3" cy="318.4" r="3.5" fill="#4584f5"/>
<circle cx="1202.0" cy="305.5" r="3.5" fill="#4583f4"/>
<circle cx="1206.0" cy="285.5" r="3.5" fill="#4582f4"/>
<circle cx="1206.7" cy="307.8" r="3.5" fill="#437cf1"/>
<circle cx="1209.0" cy="301.2" r="3.5" fill="#447ff2"/>
<circle cx="1207.1" cy="303.0" r="3.5" fill="#4480f2"/>
<circle cx="1206.9" cy="296.7" r="3.5" fill="#4584f5"/>
<circle cx="1207.0" cy="298.8" r="3.5" fill="#4582f4"/>
<circle cx="1209.6" cy="303.3" r="3.5" fill="#4583f4"/>
<circle cx="1202.8" cy="310.0" r="3.5" fill="#447ff2"/>
<circle cx="1207.0" cy="300.7" r="3.5" fill="#4583f4"/>
<circle cx="1203.4" cy="305.0" r="3.5" fill="#447ff2"/>
<circle cx="1206.3" cy="318.9" r="3.5" fill="#4480f3"/>
<circle cx="1206.9" cy="312.1" r="3.5" fill="#437df1"/>
<circle cx="1203.9" cy="309.9" r="3.5" fill="#4480f2"/>
<circle cx="1202.7" cy="296.4" r="3.5" fill="#4685f6"/>
<circle cx="1205.3" cy="285.8" r="3.5" fill="#4582f4"/>
<circle cx="1203.5" cy="307.2" r="3.5" fill="#447ff2"/>
<circle cx="1206.5" cy="289.8" r="3.5" fill="#4685f5"/>
<circle cx="1205.3" cy="293.9" r="3.5" fill="#4582f4"/>
<circle cx="1202.3" cy="298.7" r="3.5" fill="#4584f5"/>
<circle cx="1205.4" cy="290.1" r="3.5" fill="#447ef1"/>
<circle cx="1203.6" cy="311.5" r="3.5" fill="#4684f5"/>
<circle cx="1205.4" cy="309.4" r="3.5" fill="#4583f4"/>
<circle cx="1205.1" cy="303.4" r="3.5" fill="#4583f4"/>
<circle cx="1208.3" cy="307.8" r="3.5" fill="#447ff2"/>
<circle cx="1203.7" cy="303.0" r="3.5" fill="#4686f6"/>
<circle cx="1204.2" cy="314.3" r="3.5" fill="#447ef2"/>
<circle cx="1205.1" cy="298.8" r="3.5" fill="#4581f3"/>
<circle cx="1201.1" cy="305.2" r="3.5" fill="#437bf0"/>
<circle cx="1208.3" cy="302.8" r="3.5" fill="#4684f5"/>
<circle cx="1206.3" cy="287.6" r="3.5" fill="#4480f2"/>
<circle cx="1203.7" cy="298.8" r="3.5" fill="#447ff2"/>
<circle cx="1206.1" cy="316.4" r="3.5" fill="#447ef1"/>
<circle cx="1201.8" cy="303.1" r="3.5" fill="#437df1"/>
<circle cx="1203.7" cy="292.4" r="3.5" fill="#447ef1"/>
<circle cx="1205.5" cy="316.3" r="3.5" fill="#4583f4"/>
<circle cx="1204.0" cy="300.9" r="3.5" fill="#4584f5"/>
<circle cx="1205.5" cy="288.1" r="3.5" fill="#447ff2"/>
<circle cx="1202.2" cy="300.8" r="3.5" fill="#4480f3"/>
<circle cx="1205.6" cy="296.8" r="3.5" fill="#4581f3"/>
<circle cx="1206.9" cy="294.2" r="3.5" fill="#437df1"/>
<circle cx="1205.3" cy="292.1" r="3.5" fill="#4584f5"/>
<circle cx="1206.8" cy="305.2" r="3.5" fill="#437cf0"/>
<circle cx="1205.4" cy="307.6" r="3.5" fill="#4582f4"/>
<circle cx="1209.1" cy="305.1" r="3.5" fill="#447ef1"/>
<circle cx="1205.2" cy="314.4" r="3.5" fill="#4581f3"/>
<circle cx="1205.4" cy="300.9" r="3.5" fill="#447ff2"/>
<circle cx="1204.5" cy="316.1" r="3.5" fill="#437cf0"/>
<circle cx="1204.3" cy="287.5" r="3.5" fill="#447ff2"/>
<circle cx="1204.5" cy="285.2" r="3.5" fill="#4583f4"/>
<circle cx="1204.5" cy="290.0" r="3.5" fill="#4480f3"/>
<circle cx="1163.4" cy="352.4" r="3.5" fill="#4583f4"/>
<circle cx="1171.9" cy="352.4" r="3.5" fill="#4583f4"/>
<circle cx="1180.5" cy="352.4" r="3.5" fill="#4582f4"/>
<circle cx="1183.0" cy="352.4" r="3.5" fill="#4583f4"/>
<circle cx="1185.5" cy="352.4" r="3.5" fill="#447ff2"/>
<circle cx="1188.0" cy="352.4" r="3.5" fill="#4582f4"/>
<circle cx="1191.5" cy="352.4" r="3.5" fill="#e0004e"/>
<circle cx="1194.5" cy="352.4" r="3.5" fill="#8335ba"/>
<circle cx="1219.2" cy="351.7" r="3.5" fill="#4375ec"/>
<circle cx="1221.1" cy="352.1" r="3.5" fill="#447ff2"/>
<circle cx="1213.9" cy="352.1" r="3.5" fill="#4570ea"/>
<circle cx="1222.2" cy="351.7" r="3.5" fill="#447ff2"/>
<circle cx="1215.7" cy="352.6" r="3.5" fill="#437df1"/>
<circle cx="1223.0" cy="352.4" r="3.5" fill="#437bf0"/>
<circle cx="1224.2" cy="352.7" r="3.5" fill="#4474ec"/>
<circle cx="1215.9" cy="352.0" r="3.5" fill="#447df1"/>
<circle cx="1219.3" cy="352.3" r="3.5" fill="#437bf0"/>
<circle cx="1214.3" cy="352.9" r="3.5" fill="#4277ee"/>
<circle cx="1215.9" cy="352.6" r="3.5" fill="#437aef"/>
<circle cx="1220.5" cy="353.2" r="3.5" fill="#4277ed"/>
<circle cx="1224.0" cy="352.3" r="3.5" fill="#476be8"/>
<circle cx="1222.2" cy="352.9" r="3.5" fill="#4473ec"/>
<circle cx="1217.2" cy="352.2" r="3.5" fill="#437bf0"/>
<circle cx="1224.2" cy="352.1" r="3.5" fill="#437cf0"/>
<circle cx="1219.1" cy="352.7" r="3.5" fill="#4869e6"/>
<circle cx="1217.8" cy="352.7" r="3.5" fill="#4278ee"/>
<circle cx="1213.6" cy="352.4" r="3.5" fill="#447ff2"/>
<circle cx="1220.7" cy="352.3" r="3.5" fill="#4472eb"/>
<circle cx="1217.0" cy="351.8" r="3.5" fill="#437df1"/>
<circle cx="1233.9" cy="352.4" r="3.5" fill="#447ff2"/>
<circle cx="1247.8" cy="352.4" r="3.5" fill="#4278ee"/>
<circle cx="1258.1" cy="352.4" r="3.5" fill="#476be8"/>
<circle cx="1202.5" cy="348.0" r="3.5" fill="#8335ba"/>
<circle cx="1211.2" cy="350.1" r="3.5" fill="#4582f4"/>
<circle cx="1203.9" cy="352.5" r="3.5" fill="#8335ba"/>
<circle cx="1206.2" cy="334.9" r="3.5" fill="#8335ba"/>
<circle cx="1204.3" cy="341.5" r="3.5" fill="#8335ba"/>
<circle cx="1207.3" cy="346.1" r="3.5" fill="#4582f4"/>
<circle cx="1202.9" cy="359.4" r="3.5" fill="#be0092"/>
<circle cx="1206.6" cy="363.8" r="3.5" fill="#d50070"/>
<circle cx="1205.8" cy="354.8" r="3.5" fill="#4582f4"/>
<circle cx="1205.8" cy="348.6" r="3.5" fill="#4278ee"/>
<circle cx="1200.8" cy="353.0" r="3.5" fill="#e0004e"/>
<circle cx="1205.7" cy="335.5" r="3.5" fill="#be0092"/>
<circle cx="1203.6" cy="344.0" r="3.5" fill="#e0004e"/>
<circle cx="1203.8" cy="357.2" r="3.5" fill="#be0092"/>
<circle cx="1205.3" cy="367.8" r="3.5" fill="#d50070"/>
<circle cx="1204.7" cy="364.1" r="3.5" fill="#be0092"/>
<circle cx="1200.1" cy="350.4" r="3.5" fill="#e0004e"/>
<circle cx="1205.1" cy="337.3" r="3.5" fill="#7646c8"/>
<circle cx="1202.8" cy="345.8" r="3.5" fill="#8335ba"/>
<circle cx="1205.9" cy="350.2" r="3.5" fill="#4582f4"/>
<circle cx="1208.7" cy="355.0" r="3.5" fill="#7a42c4"/>
<circle cx="1207.6" cy="354.9" r="3.5" fill="#4582f4"/>
<circle cx="1209.1" cy="345.8" r="3.5" fill="#4582f4"/>
<circle cx="1201.1" cy="348.2" r="3.5" fill="#be0092"/>
<circle cx="1202.7" cy="355.0" r="3.5" fill="#e0004e"/>
<circle cx="1206.5" cy="365.8" r="3.5" fill="#be0092"/>
<circle cx="1205.8" cy="363.7" r="3.5" fill="#be0092"/>
<circle cx="1203.8" cy="348.7" r="3.5" fill="#e0004e"/>
<circle cx="1201.7" cy="356.7" r="3.5" fill="#be0092"/>
<circle cx="1200.6" cy="350.1" r="3.5" fill="#be0092"/>
<circle cx="1205.5" cy="341.8" r="3.5" fill="#8335ba"/>
<circle cx="1207.1" cy="348.5" r="3.5" fill="#4278ee"/>
<circle cx="1207.2" cy="344.1" r="3.5" fill="#4278ee"/>
<circle cx="1203.8" cy="361.2" r="3.5" fill="#be0092"/>
<circle cx="1205.7" cy="361.8" r="3.5" fill="#d50070"/>
<circle cx="1203.9" cy="345.9" r="3.5" fill="#8335ba"/>
<circle cx="1204.2" cy="350.3" r="3.5" fill="#e0004e"/>
<circle cx="1206.8" cy="341.9" r="3.5" fill="#8335ba"/>
<circle cx="1210.6" cy="355.1" r="3.5" fill="#4582f4"/>
<circle cx="1204.0" cy="359.1" r="3.5" fill="#e0004e"/>
<circle cx="1211.6" cy="352.7" r="3.5" fill="#7a42c4"/>
<circle cx="1208.2" cy="344.3" r="3.5" fill="#4278ee"/>
<circle cx="1205.1" cy="365.7" r="3.5" fill="#be0092"/>
<circle cx="1206.3" cy="339.6" r="3.5" fill="#7646c8"/>
<circle cx="1205.4" cy="359.1" r="3.5" fill="#4582f4"/>
<circle cx="1209.0" cy="350.2" r="3.5" fill="#4582f4"/>
<circle cx="1210.6" cy="352.8" r="3.5" fill="#4278ee"/>
<circle cx="1204.0" cy="343.6" r="3.5" fill="#be0092"/>
<circle cx="1205.5" cy="353.0" r="3.5" fill="#4582f4"/>
<circle cx="1205.8" cy="344.0" r="3.5" fill="#4278ee"/>
<circle cx="1210.6" cy="350.2" r="3.5" fill="#4582f4"/>
<circle cx="1202.3" cy="357.2" r="3.5" fill="#be0092"/>
<circle cx="1207.1" cy="361.3" r="3.5" fill="#4278ee"/>
<circle cx="1205.6" cy="366.0" r="3.5" fill="#8335ba"/>
<circle cx="1205.6" cy="368.0" r="3.5" fill="#be0092"/>
<circle cx="1207.6" cy="350.6" r="3.5" fill="#4582f4"/>
<circle cx="1205.8" cy="337.0" r="3.5" fill="#8335ba"/>
<circle cx="1207.4" cy="356.8" r="3.5" fill="#4582f4"/>
<circle cx="1208.8" cy="352.7" r="3.5" fill="#4278ee"/>
<circle cx="1210.2" cy="348.0" r="3.5" fill="#4582f4"/>
<circle cx="1208.7" cy="359.5" r="3.5" fill="#4582f4"/>
<circle cx="1200.7" cy="354.8" r="3.5" fill="#be0092"/>
<circle cx="1202.8" cy="352.7" r="3.5" fill="#e0004e"/>
<circle cx="1205.2" cy="335.3" r="3.5" fill="#be0092"/>
<circle cx="1206.0" cy="339.8" r="3.5" fill="#7646c8"/>
<circle cx="1200.0" cy="352.5" r="3.5" fill="#be0092"/>
<circle cx="1205.9" cy="357.2" r="3.5" fill="#4582f4"/>
<circle cx="1205.6" cy="346.4" r="3.5" fill="#4582f4"/>
<circle cx="1204.8" cy="339.4" r="3.5" fill="#7646c8"/>
<circle cx="1207.4" cy="352.4" r="3.5" fill="#4278ee"/>
<circle cx="1208.9" cy="348.3" r="3.5" fill="#4582f4"/>
<circle cx="1203.9" cy="354.5" r="3.5" fill="#8335ba"/>
<circle cx="1206.2" cy="368.4" r="3.5" fill="#d50070"/>
<circle cx="1202.6" cy="350.9" r="3.5" fill="#e0004e"/>
<circle cx="1207.2" cy="359.0" r="3.5" fill="#7a42c4"/>
<circle cx="1208.9" cy="357.1" r="3.5" fill="#4582f4"/>
<circle cx="1209.8" cy="357.4" r="3.5" fill="#4582f4"/>
<circle cx="1206.2" cy="337.3" r="3.5" fill="#8335ba"/>
<circle cx="1176.9" cy="401.6" r="3.5" fill="#ac089c"/>
<circle cx="1196.2" cy="401.4" r="3.5" fill="#e0004e"/>
<circle cx="1193.7" cy="401.6" r="3.5" fill="#be0092"/>
<circle cx="1191.0" cy="401.3" r="3.5" fill="#e0004e"/>
<circle cx="1190.8" cy="401.5" r="3.5" fill="#e0004e"/>
<circle cx="1189.1" cy="402.3" r="3.5" fill="#e0004e"/>
<circle cx="1199.1" cy="400.9" r="3.5" fill="#be0092"/>
<circle cx="1197.9" cy="401.5" r="3.5" fill="#e0004e"/>
<circle cx="1190.7" cy="401.9" r="3.5" fill="#e0004e"/>
<circle cx="1196.0" cy="402.5" r="3.5" fill="#e0004e"/>
<circle cx="1189.4" cy="401.2" r="3.5" fill="#e0004e"/>
<circle cx="1197.9" cy="400.9" r="3.5" fill="#be0092"/>
<circle cx="1193.6" cy="402.1" r="3.5" fill="#e0004e"/>
<circle cx="1192.1" cy="401.5" r="3.5" fill="#e0004e"/>
<circle cx="1194.4" cy="401.0" r="3.5" fill="#e0004e"/>
<circle cx="1197.6" cy="402.3" r="3.5" fill="#be0092"/>
<circle cx="1192.4" cy="400.8" r="3.5" fill="#be0092"/>
<circle cx="1192.0" cy="402.4" r="3.5" fill="#e0004e"/>
<circle cx="1199.4" cy="402.3" r="3.5" fill="#be0092"/>
<circle cx="1199.5" cy="401.8" r="3.5" fill="#e0004e"/>
<circle cx="1189.5" cy="401.6" r="3.5" fill="#e0004e"/>
<circle cx="1195.3" cy="400.6" r="3.5" fill="#be0092"/>
<circle cx="1215.6" cy="401.7" r="3.5" fill="#447ff2"/>
<circle cx="1215.1" cy="402.2" r="3.5" fill="#6458d8"/>
<circle cx="1230.6" cy="401.3" r="3.5" fill="#447ff2"/>
<circle cx="1220.8" cy="402.1" r="3.5" fill="#447ff2"/>
<circle cx="1227.0" cy="401.7" r="3.5" fill="#6458d8"/>
<circle cx="1229.1" cy="401.5" r="3.5" fill="#447ff2"/>
<circle cx="1222.0" cy="401.5" r="3.5" fill="#7a42c4"/>
<circle cx="1231.2" cy="401.6" r="3.5" fill="#6458d8"/>
<circle cx="1220.0" cy="401.4" r="3.5" fill="#447ff2"/>
<circle cx="1213.2" cy="402.2" r="3.5" fill="#6458d8"/>
<circle cx="1218.5" cy="401.0" r="3.5" fill="#6458d8"/>
<circle cx="1227.8" cy="401.6" r="3.5" fill="#6458d8"/>
<circle cx="1211.9" cy="402.1" r="3.5" fill="#447ff2"/>
<circle cx="1229.4" cy="402.0" r="3.5" fill="#447ff2"/>
<circle cx="1223.7" cy="401.4" r="3.5" fill="#447ff2"/>
<circle cx="1216.7" cy="401.2" r="3.5" fill="#7a42c4"/>
<circle cx="1232.7" cy="401.4" r="3.5" fill="#6458d8"/>
<circle cx="1214.9" cy="400.9" r="3.5" fill="#6458d8"/>
<circle cx="1229.2" cy="401.4" r="3.5" fill="#6458d8"/>
<circle cx="1216.7" cy="401.6" r="3.5" fill="#6458d8"/>
<circle cx="1232.6" cy="401.3" r="3.5" fill="#447ff2"/>
<circle cx="1223.5" cy="401.9" r="3.5" fill="#447ff2"/>
<circle cx="1223.6" cy="401.4" r="3.5" fill="#447ff2"/>
<circle cx="1225.6" cy="401.8" r="3.5" fill="#447ff2"/>
<circle cx="1220.8" cy="401.8" r="3.5" fill="#447ff2"/>
<circle cx="1227.5" cy="401.0" r="3.5" fill="#447ff2"/>
<circle cx="1225.8" cy="402.0" r="3.5" fill="#447ff2"/>
<circle cx="1222.6" cy="402.3" r="3.5" fill="#7a42c4"/>
<circle cx="1213.5" cy="401.9" r="3.5" fill="#447ff2"/>
<circle cx="1230.3" cy="401.8" r="3.5" fill="#447ff2"/>
<circle cx="1211.8" cy="401.5" r="3.5" fill="#447ff2"/>
<circle cx="1218.9" cy="401.9" r="3.5" fill="#447ff2"/>
<circle cx="1218.5" cy="401.9" r="3.5" fill="#447ff2"/>
<circle cx="1222.5" cy="401.2" r="3.5" fill="#447ff2"/>
<circle cx="1226.0" cy="401.4" r="3.5" fill="#447ff2"/>
<circle cx="1212.4" cy="400.8" r="3.5" fill="#6458d8"/>
<circle cx="1232.5" cy="401.6" r="3.5" fill="#447ff2"/>
<circle cx="1214.0" cy="401.2" r="3.5" fill="#6458d8"/>
<circle cx="1216.9" cy="402.2" r="3.5" fill="#6458d8"/>
<circle cx="1243.0" cy="401.6" r="3.5" fill="#4278ee"/>
<circle cx="1245.6" cy="401.6" r="3.5" fill="#8335ba"/>
<circle cx="1205.6" cy="397.6" r="3.5" fill="#e0004e"/>
<circle cx="1205.9" cy="384.9" r="3.5" fill="#be0092"/>
<circle cx="1204.4" cy="393.5" r="3.5" fill="#be0092"/>
<circle cx="1205.6" cy="393.3" r="3.5" fill="#d50070"/>
<circle cx="1208.4" cy="396.0" r="3.5" fill="#447ff2"/>
<circle cx="1206.8" cy="384.8" r="3.5" fill="#7a42c4"/>
<circle cx="1202.8" cy="400.2" r="3.5" fill="#e0004e"/>
<circle cx="1207.2" cy="398.2" r="3.5" fill="#447ff2"/>
<circle cx="1207.1" cy="415.1" r="3.5" fill="#5660df"/>
<circle cx="1204.3" cy="397.9" r="3.5" fill="#d50070"/>
<circle cx="1205.8" cy="402.4" r="3.5" fill="#be0092"/>
<circle cx="1208.6" cy="408.9" r="3.5" fill="#447ff2"/>
<circle cx="1207.7" cy="389.0" r="3.5" fill="#447ff2"/>
<circle cx="1207.2" cy="400.1" r="3.5" fill="#7a42c4"/>
<circle cx="1205.7" cy="410.7" r="3.5" fill="#be0092"/>
<circle cx="1208.3" cy="410.8" r="3.5" fill="#447ff2"/>
<circle cx="1202.7" cy="404.4" r="3.5" fill="#be0092"/>
<circle cx="1202.9" cy="398.1" r="3.5" fill="#d50070"/>
<circle cx="1207.4" cy="413.5" r="3.5" fill="#5660df"/>
<circle cx="1203.1" cy="411.2" r="3.5" fill="#e0004e"/>
<circle cx="1204.2" cy="391.4" r="3.5" fill="#d50070"/>
<circle cx="1206.1" cy="399.7" r="3.5" fill="#5660df"/>
<circle cx="1204.3" cy="396.0" r="3.5" fill="#be0092"/>
<circle cx="1203.3" cy="413.5" r="3.5" fill="#be0092"/>
<circle cx="1208.5" cy="404.1" r="3.5" fill="#5660df"/>
<circle cx="1209.2" cy="400.4" r="3.5" fill="#be0092"/>
<circle cx="1202.8" cy="406.7" r="3.5" fill="#be0092"/>
<circle cx="1202.3" cy="402.5" r="3.5" fill="#e0004e"/>
<circle cx="1207.2" cy="417.7" r="3.5" fill="#5660df"/>
<circle cx="1206.1" cy="395.7" r="3.5" fill="#7a42c4"/>
<circle cx="1207.6" cy="409.1" r="3.5" fill="#be0092"/>
<circle cx="1208.8" cy="402.3" r="3.5" fill="#7a42c4"/>
<circle cx="1207.7" cy="391.1" r="3.5" fill="#447ff2"/>
<circle cx="1203.1" cy="395.5" r="3.5" fill="#d50070"/>
<circle cx="1204.5" cy="402.3" r="3.5" fill="#be0092"/>
<circle cx="1204.2" cy="410.7" r="3.5" fill="#e0004e"/>
<circle cx="1208.7" cy="397.8" r="3.5" fill="#5660df"/>
<circle cx="1204.4" cy="415.1" r="3.5" fill="#e0004e"/>
<circle cx="1204.1" cy="404.8" r="3.5" fill="#e0004e"/>
<circle cx="1204.3" cy="413.1" r="3.5" fill="#be0092"/>
<circle cx="1208.8" cy="406.2" r="3.5" fill="#5660df"/>
<circle cx="1205.7" cy="391.1" r="3.5" fill="#be0092"/>
<circle cx="1207.4" cy="410.6" r="3.5" fill="#5660df"/>
<circle cx="1205.9" cy="408.6" r="3.5" fill="#d50070"/>
<circle cx="1205.9" cy="415.6" r="3.5" fill="#d50070"/>
<circle cx="1208.0" cy="388.8" r="3.5" fill="#447ff2"/>
<circle cx="1207.3" cy="387.0" r="3.5" fill="#447ff2"/>
<circle cx="1203.9" cy="406.2" r="3.5" fill="#d50070"/>
<circle cx="1205.1" cy="384.2" r="3.5" fill="#d50070"/>
<circle cx="1205.7" cy="406.5" r="3.5" fill="#d50070"/>
<circle cx="1208.4" cy="393.5" r="3.5" fill="#7a42c4"/>
<circle cx="1207.4" cy="404.5" r="3.5" fill="#5660df"/>
<circle cx="1203.7" cy="389.1" r="3.5" fill="#be0092"/>
<circle cx="1203.0" cy="393.4" r="3.5" fill="#e0004e"/>
<circle cx="1204.4" cy="399.8" r="3.5" fill="#d50070"/>
<circle cx="1207.2" cy="395.9" r="3.5" fill="#447ff2"/>
<circle cx="1203.9" cy="389.3" r="3.5" fill="#be0092"/>
<circle cx="1208.4" cy="391.0" r="3.5" fill="#7a42c4"/>
<circle cx="1205.5" cy="413.4" r="3.5" fill="#d50070"/>
<circle cx="1203.5" cy="391.2" r="3.5" fill="#d50070"/>
<circle cx="1207.4" cy="402.5" r="3.5" fill="#be0092"/>
<circle cx="1205.8" cy="386.9" r="3.5" fill="#be0092"/>
<circle cx="1205.6" cy="389.2" r="3.5" fill="#be0092"/>
<circle cx="1203.1" cy="409.1" r="3.5" fill="#8c28b0"/>
<circle cx="1205.7" cy="404.1" r="3.5" fill="#d50070"/>
<circle cx="1205.5" cy="417.6" r="3.5" fill="#d50070"/>
<circle cx="1204.7" cy="417.5" r="3.5" fill="#e0004e"/>
<circle cx="1204.4" cy="387.1" r="3.5" fill="#be0092"/>
<circle cx="1204.3" cy="408.9" r="3.5" fill="#be0092"/>
<circle cx="1207.1" cy="406.4" r="3.5" fill="#5660df"/>
<circle cx="1208.5" cy="413.3" r="3.5" fill="#5660df"/>
<circle cx="1207.2" cy="393.3" r="3.5" fill="#5660df"/>
<circle cx="1209.5" cy="439.0" r="3.5" fill="#777777"/>
<circle cx="1210.0" cy="443.0" r="3.5" fill="#777777"/>
<circle cx="1209.5" cy="461.0" r="3.5" fill="#777777"/>
<circle cx="1209.0" cy="465.0" r="3.5" fill="#777777"/>
<circle cx="1208.5" cy="468.0" r="3.5" fill="#777777"/>
<circle cx="1190.8" cy="451.0" r="3.5" fill="#4278ee"/>
<circle cx="1193.5" cy="451.0" r="3.5" fill="#6458d8"/>
<circle cx="1196.0" cy="451.0" r="3.5" fill="#882db4"/>
<circle cx="1198.5" cy="451.0" r="3.5" fill="#882db4"/>
<circle cx="1213.0" cy="451.0" r="3.5" fill="#447ff2"/>
<circle cx="1215.5" cy="451.0" r="3.5" fill="#447ff2"/>
<circle cx="1217.3" cy="451.6" r="3.5" fill="#e0004e"/>
<circle cx="1219.0" cy="451.0" r="3.5" fill="#437bf0"/>
<circle cx="1220.5" cy="451.0" r="3.5" fill="#447ff2"/>
<circle cx="1202.8" cy="462.9" r="3.5" fill="#8335ba"/>
<circle cx="1206.8" cy="451.4" r="3.5" fill="#447ff2"/>
<circle cx="1207.7" cy="440.5" r="3.5" fill="#e0004e"/>
<circle cx="1202.8" cy="440.3" r="3.5" fill="#4278ee"/>
<circle cx="1207.0" cy="438.6" r="3.5" fill="#be0092"/>
<circle cx="1203.6" cy="464.9" r="3.5" fill="#437bf0"/>
<circle cx="1205.1" cy="453.4" r="3.5" fill="#447ff2"/>
<circle cx="1202.5" cy="455.9" r="3.5" fill="#b10699"/>
<circle cx="1207.0" cy="457.9" r="3.5" fill="#b10699"/>
<circle cx="1206.8" cy="443.1" r="3.5" fill="#e0004e"/>
<circle cx="1203.8" cy="449.5" r="3.5" fill="#e0004e"/>
<circle cx="1205.1" cy="433.9" r="3.5" fill="#8335ba"/>
<circle cx="1202.8" cy="442.8" r="3.5" fill="#e0004e"/>
<circle cx="1203.5" cy="460.6" r="3.5" fill="#8335ba"/>
<circle cx="1207.4" cy="460.2" r="3.5" fill="#8335ba"/>
<circle cx="1207.2" cy="453.7" r="3.5" fill="#447ff2"/>
<circle cx="1205.2" cy="455.6" r="3.5" fill="#447ff2"/>
<circle cx="1202.8" cy="460.2" r="3.5" fill="#b10699"/>
<circle cx="1207.8" cy="444.6" r="3.5" fill="#e0004e"/>
<circle cx="1205.2" cy="444.7" r="3.5" fill="#4278ee"/>
<circle cx="1205.0" cy="442.4" r="3.5" fill="#e0004e"/>
<circle cx="1204.0" cy="467.1" r="3.5" fill="#8335ba"/>
<circle cx="1206.6" cy="433.8" r="3.5" fill="#8335ba"/>
<circle cx="1204.0" cy="456.0" r="3.5" fill="#b10699"/>
<circle cx="1205.3" cy="436.1" r="3.5" fill="#e0004e"/>
<circle cx="1207.1" cy="464.7" r="3.5" fill="#437bf0"/>
<circle cx="1203.9" cy="451.3" r="3.5" fill="#b10699"/>
<circle cx="1207.3" cy="438.6" r="3.5" fill="#4278ee"/>
<circle cx="1205.5" cy="463.0" r="3.5" fill="#e0004e"/>
<circle cx="1206.8" cy="460.4" r="3.5" fill="#b10699"/>
<circle cx="1205.0" cy="449.2" r="3.5" fill="#4375ec"/>
<circle cx="1206.7" cy="436.2" r="3.5" fill="#e0004e"/>
<circle cx="1206.9" cy="444.8" r="3.5" fill="#4278ee"/>
<circle cx="1205.1" cy="464.6" r="3.5" fill="#e0004e"/>
<circle cx="1206.6" cy="449.7" r="3.5" fill="#447ff2"/>
<circle cx="1205.3" cy="438.1" r="3.5" fill="#4278ee"/>
<circle cx="1204.0" cy="453.8" r="3.5" fill="#8335ba"/>
<circle cx="1207.0" cy="462.9" r="3.5" fill="#8335ba"/>
<circle cx="1206.7" cy="440.9" r="3.5" fill="#e0004e"/>
<circle cx="1206.6" cy="447.4" r="3.5" fill="#447ff2"/>
<circle cx="1206.6" cy="455.7" r="3.5" fill="#447ff2"/>
<circle cx="1203.9" cy="447.1" r="3.5" fill="#e0004e"/>
<circle cx="1204.0" cy="433.7" r="3.5" fill="#e0004e"/>
<circle cx="1208.0" cy="458.6" r="3.5" fill="#b10699"/>
<circle cx="1203.2" cy="465.0" r="3.5" fill="#8335ba"/>
<circle cx="1207.5" cy="464.5" r="3.5" fill="#437bf0"/>
<circle cx="1205.4" cy="447.0" r="3.5" fill="#447ff2"/>
<circle cx="1203.6" cy="440.8" r="3.5" fill="#e0004e"/>
<circle cx="1202.5" cy="453.8" r="3.5" fill="#8335ba"/>
<circle cx="1202.7" cy="458.6" r="3.5" fill="#b10699"/>
<circle cx="1207.9" cy="454.1" r="3.5" fill="#4375ec"/>
<circle cx="1202.0" cy="449.3" r="3.5" fill="#b10699"/>
<circle cx="1202.0" cy="451.8" r="3.5" fill="#b10699"/>
<circle cx="1204.0" cy="462.2" r="3.5" fill="#437bf0"/>
<circle cx="1202.4" cy="447.2" r="3.5" fill="#8335ba"/>
<circle cx="1208.1" cy="456.1" r="3.5" fill="#447ff2"/>
<circle cx="1202.8" cy="445.1" r="3.5" fill="#b10699"/>
<circle cx="1203.7" cy="444.9" r="3.5" fill="#be0092"/>
<circle cx="1208.7" cy="451.5" r="3.5" fill="#447ff2"/>
<circle cx="1208.5" cy="449.5" r="3.5" fill="#447ff2"/>
<circle cx="1207.0" cy="467.0" r="3.5" fill="#437bf0"/>
<circle cx="1203.9" cy="438.4" r="3.5" fill="#be0092"/>
<circle cx="1204.0" cy="436.3" r="3.5" fill="#be0092"/>
<circle cx="1205.3" cy="460.8" r="3.5" fill="#437bf0"/>
<circle cx="1205.3" cy="467.2" r="3.5" fill="#e0004e"/>
<circle cx="1205.3" cy="451.7" r="3.5" fill="#447ff2"/>
<circle cx="1207.4" cy="462.9" r="3.5" fill="#e0004e"/>
<circle cx="1203.6" cy="442.6" r="3.5" fill="#e0004e"/>
<circle cx="1203.5" cy="458.0" r="3.5" fill="#e0004e"/>
<circle cx="1205.2" cy="458.4" r="3.5" fill="#8335ba"/>
<circle cx="1203.4" cy="438.0" r="3.5" fill="#e0004e"/>
<circle cx="1205.5" cy="440.6" r="3.5" fill="#be0092"/>
<circle cx="1207.9" cy="446.9" r="3.5" fill="#4375ec"/>
<circle cx="1207.8" cy="442.9" r="3.5" fill="#e0004e"/>
<circle cx="1210.5" cy="451.0" r="3.5" fill="#447ff2"/>
<circle cx="1211.0" cy="453.0" r="3.5" fill="#447ff2"/>
<circle cx="1210.0" cy="448.0" r="3.5" fill="#437bf0"/>
<circle cx="1234.7" cy="451.0" r="3.5" fill="#e0004e"/>
<circle cx="1255.5" cy="451.0" r="3.5" fill="#e0004e"/>
<circle cx="1327.5" cy="451.0" r="3.5" fill="#e0004e"/>
<circle cx="1135.2" cy="500.3" r="3.5" fill="#a90a9d"/>
<circle cx="1164.1" cy="500.3" r="3.5" fill="#a90a9d"/>
<circle cx="1188.0" cy="500.2" r="3.5" fill="#e0004e"/>
<circle cx="1192.9" cy="501.5" r="3.5" fill="#e0004e"/>
<circle cx="1193.1" cy="499.3" r="3.5" fill="#e0004e"/>
<circle cx="1190.6" cy="499.7" r="3.5" fill="#e0004e"/>
<circle cx="1187.4" cy="499.2" r="3.5" fill="#df0050"/>
<circle cx="1194.3" cy="499.5" r="3.5" fill="#df0052"/>
<circle cx="1195.6" cy="500.2" r="3.5" fill="#e00050"/>
<circle cx="1187.4" cy="501.2" r="3.5" fill="#e0004e"/>
<circle cx="1194.6" cy="500.3" r="3.5" fill="#e0004e"/>
<circle cx="1189.1" cy="500.2" r="3.5" fill="#df0053"/>
<circle cx="1191.2" cy="500.5" r="3.5" fill="#e0004e"/>
<circle cx="1198.1" cy="501.3" r="3.5" fill="#e0004e"/>
<circle cx="1197.4" cy="499.0" r="3.5" fill="#e0004f"/>
<circle cx="1192.4" cy="500.2" r="3.5" fill="#e0004e"/>
<circle cx="1188.7" cy="499.3" r="3.5" fill="#e0004e"/>
<circle cx="1199.1" cy="501.7" r="3.5" fill="#e0004e"/>
<circle cx="1196.0" cy="499.4" r="3.5" fill="#e0004e"/>
<circle cx="1190.6" cy="501.1" r="3.5" fill="#e0004f"/>
<circle cx="1199.9" cy="498.9" r="3.5" fill="#e0004e"/>
<circle cx="1189.3" cy="500.9" r="3.5" fill="#e0004e"/>
<circle cx="1194.8" cy="501.2" r="3.5" fill="#df0051"/>
<circle cx="1198.0" cy="500.4" r="3.5" fill="#df0050"/>
<circle cx="1196.3" cy="501.2" r="3.5" fill="#e0004e"/>
<circle cx="1199.3" cy="500.5" r="3.5" fill="#e00050"/>
<circle cx="1203.0" cy="498.3" r="3.5" fill="#b10699"/>
<circle cx="1210.5" cy="499.3" r="3.5" fill="#4279ef"/>
<circle cx="1219.3" cy="500.0" r="3.5" fill="#437bf0"/>
<circle cx="1214.9" cy="499.6" r="3.5" fill="#4582f4"/>
<circle cx="1216.1" cy="500.9" r="3.5" fill="#4279ee"/>
<circle cx="1212.8" cy="500.1" r="3.5" fill="#437bf0"/>
<circle cx="1210.5" cy="500.1" r="3.5" fill="#4376ed"/>
<circle cx="1210.8" cy="501.2" r="3.5" fill="#4480f3"/>
<circle cx="1219.0" cy="500.7" r="3.5" fill="#437bf0"/>
<circle cx="1212.2" cy="501.3" r="3.5" fill="#447ef2"/>
<circle cx="1218.1" cy="499.5" r="3.5" fill="#4584f5"/>
<circle cx="1217.5" cy="500.9" r="3.5" fill="#437cf0"/>
<circle cx="1216.2" cy="499.4" r="3.5" fill="#437bf0"/>
<circle cx="1214.9" cy="500.4" r="3.5" fill="#4277ee"/>
<circle cx="1218.2" cy="500.1" r="3.5" fill="#4583f4"/>
<circle cx="1212.8" cy="499.6" r="3.5" fill="#4582f4"/>
<circle cx="1219.3" cy="500.2" r="3.5" fill="#4481f3"/>
<circle cx="1214.0" cy="500.9" r="3.5" fill="#447ff2"/>
<circle cx="1215.9" cy="500.1" r="3.5" fill="#437cf0"/>
<circle cx="1225.0" cy="500.3" r="3.5" fill="#8335ba"/>
<circle cx="1228.5" cy="500.3" r="3.5" fill="#447ff2"/>
<circle cx="1231.5" cy="500.3" r="3.5" fill="#8335ba"/>
<circle cx="1205.6" cy="505.1" r="3.5" fill="#7f3abe"/>
<circle cx="1208.4" cy="502.6" r="3.5" fill="#447ff2"/>
<circle cx="1206.7" cy="507.2" r="3.5" fill="#7f3abe"/>
<circle cx="1206.6" cy="496.2" r="3.5" fill="#7f3abe"/>
<circle cx="1205.8" cy="492.0" r="3.5" fill="#7f3abe"/>
<circle cx="1206.8" cy="482.6" r="3.5" fill="#7f3abe"/>
<circle cx="1206.7" cy="484.8" r="3.5" fill="#7f3abe"/>
<circle cx="1206.5" cy="509.2" r="3.5" fill="#7f3abe"/>
<circle cx="1205.7" cy="511.2" r="3.5" fill="#8730b6"/>
<circle cx="1206.8" cy="487.2" r="3.5" fill="#7f3abe"/>
<circle cx="1206.7" cy="515.9" r="3.5" fill="#8730b6"/>
<circle cx="1206.9" cy="491.6" r="3.5" fill="#7f3abe"/>
<circle cx="1207.0" cy="511.3" r="3.5" fill="#7f3abe"/>
<circle cx="1206.5" cy="513.4" r="3.5" fill="#7f3abe"/>
<circle cx="1207.7" cy="487.0" r="3.5" fill="#7f3abe"/>
<circle cx="1207.9" cy="505.2" r="3.5" fill="#8730b6"/>
<circle cx="1207.8" cy="489.5" r="3.5" fill="#7f3abe"/>
<circle cx="1207.7" cy="485.0" r="3.5" fill="#447ff2"/>
<circle cx="1208.5" cy="497.9" r="3.5" fill="#8730b6"/>
<circle cx="1206.4" cy="502.6" r="3.5" fill="#8730b6"/>
<circle cx="1207.9" cy="507.0" r="3.5" fill="#7f3abe"/>
<circle cx="1206.2" cy="482.6" r="3.5" fill="#7f3abe"/>
<circle cx="1206.8" cy="489.4" r="3.5" fill="#8730b6"/>
<circle cx="1206.8" cy="504.8" r="3.5" fill="#7f3abe"/>
<circle cx="1207.4" cy="513.4" r="3.5" fill="#7f3abe"/>
<circle cx="1205.5" cy="489.5" r="3.5" fill="#8730b6"/>
<circle cx="1208.0" cy="500.7" r="3.5" fill="#8730b6"/>
<circle cx="1205.5" cy="496.0" r="3.5" fill="#8730b6"/>
<circle cx="1207.8" cy="491.2" r="3.5" fill="#7f3abe"/>
<circle cx="1206.5" cy="493.8" r="3.5" fill="#8730b6"/>
<circle cx="1207.8" cy="508.9" r="3.5" fill="#8730b6"/>
<circle cx="1205.3" cy="509.4" r="3.5" fill="#7f3abe"/>
<circle cx="1207.0" cy="500.2" r="3.5" fill="#7f3abe"/>
<circle cx="1208.1" cy="493.5" r="3.5" fill="#7f3abe"/>
<circle cx="1206.9" cy="482.7" r="3.5" fill="#8730b6"/>
<circle cx="1205.8" cy="513.6" r="3.5" fill="#8730b6"/>
<circle cx="1206.1" cy="484.7" r="3.5" fill="#8730b6"/>
<circle cx="1205.0" cy="502.5" r="3.5" fill="#7f3abe"/>
<circle cx="1207.4" cy="516.1" r="3.5" fill="#7f3abe"/>
<circle cx="1205.6" cy="494.0" r="3.5" fill="#7f3abe"/>
<circle cx="1206.9" cy="498.1" r="3.5" fill="#7f3abe"/>
<circle cx="1207.8" cy="511.2" r="3.5" fill="#8730b6"/>
<circle cx="1205.6" cy="487.1" r="3.5" fill="#447ff2"/>
<circle cx="1205.6" cy="506.7" r="3.5" fill="#8730b6"/>
<circle cx="1205.1" cy="498.2" r="3.5" fill="#7f3abe"/>
<circle cx="1207.7" cy="495.7" r="3.5" fill="#8730b6"/>
<circle cx="1205.9" cy="515.4" r="3.5" fill="#447ff2"/>
<circle cx="1204.8" cy="500.1" r="3.5" fill="#7f3abe"/>
<circle cx="1207.5" cy="501.3" r="3.5" fill="#4582f4"/>
<circle cx="1209.5" cy="499.3" r="3.5" fill="#447ff2"/>
<circle cx="1205.0" cy="503.3" r="3.5" fill="#7a42c4"/>
<circle cx="1241.1" cy="500.3" r="3.5" fill="#4480f3"/>
<circle cx="1248.6" cy="500.3" r="3.5" fill="#4375ec"/>
<circle cx="1256.0" cy="500.3" r="3.5" fill="#4480f3"/>
<circle cx="1163.3" cy="550.0" r="3.5" fill="#714bcc"/>
<circle cx="1172.0" cy="550.0" r="3.5" fill="#e0004e"/>
<circle cx="1174.3" cy="550.0" r="3.5" fill="#714bcc"/>
<circle cx="1181.0" cy="550.0" r="3.5" fill="#e0004e"/>
<circle cx="1187.0" cy="550.0" r="3.5" fill="#e0004e"/>
<circle cx="1190.5" cy="550.0" r="3.5" fill="#7a42c4"/>
<circle cx="1193.0" cy="550.0" r="3.5" fill="#e0004e"/>
<circle cx="1195.5" cy="550.0" r="3.5" fill="#8335ba"/>
<circle cx="1198.0" cy="550.0" r="3.5" fill="#8335ba"/>
<circle cx="1200.0" cy="550.0" r="3.5" fill="#e0004e"/>
<circle cx="1216.0" cy="550.0" r="3.5" fill="#4582f4"/>
<circle cx="1218.7" cy="550.0" r="3.5" fill="#e0004e"/>
<circle cx="1208.1" cy="548.5" r="3.5" fill="#a40ca0"/>
<circle cx="1205.6" cy="564.0" r="3.5" fill="#8c28b0"/>
<circle cx="1207.1" cy="552.7" r="3.5" fill="#4278ee"/>
<circle cx="1205.6" cy="535.3" r="3.5" fill="#8335ba"/>
<circle cx="1204.7" cy="559.2" r="3.5" fill="#be0092"/>
<circle cx="1205.6" cy="544.3" r="3.5" fill="#e0004e"/>
<circle cx="1205.2" cy="550.4" r="3.5" fill="#8335ba"/>
<circle cx="1206.7" cy="559.2" r="3.5" fill="#e0004e"/>
<circle cx="1204.2" cy="554.9" r="3.5" fill="#a40ca0"/>
<circle cx="1205.0" cy="563.6" r="3.5" fill="#8c28b0"/>
<circle cx="1206.9" cy="543.8" r="3.5" fill="#e0004e"/>
<circle cx="1203.2" cy="548.0" r="3.5" fill="#4278ee"/>
<circle cx="1204.6" cy="542.1" r="3.5" fill="#e0004e"/>
<circle cx="1205.8" cy="552.6" r="3.5" fill="#a40ca0"/>
<circle cx="1206.5" cy="555.1" r="3.5" fill="#be0092"/>
<circle cx="1204.1" cy="548.1" r="3.5" fill="#8335ba"/>
<circle cx="1205.2" cy="548.6" r="3.5" fill="#a40ca0"/>
<circle cx="1202.2" cy="550.9" r="3.5" fill="#8335ba"/>
<circle cx="1205.4" cy="539.6" r="3.5" fill="#e0004e"/>
<circle cx="1207.0" cy="548.7" r="3.5" fill="#8335ba"/>
<circle cx="1205.7" cy="561.3" r="3.5" fill="#b10699"/>
<circle cx="1206.0" cy="533.1" r="3.5" fill="#8335ba"/>
<circle cx="1207.2" cy="546.0" r="3.5" fill="#8335ba"/>
<circle cx="1205.4" cy="555.3" r="3.5" fill="#be0092"/>
<circle cx="1203.8" cy="553.0" r="3.5" fill="#a40ca0"/>
<circle cx="1205.0" cy="532.9" r="3.5" fill="#8335ba"/>
<circle cx="1206.1" cy="537.7" r="3.5" fill="#e0004e"/>
<circle cx="1204.9" cy="539.7" r="3.5" fill="#e0004e"/>
<circle cx="1204.1" cy="546.4" r="3.5" fill="#a40ca0"/>
<circle cx="1207.1" cy="550.3" r="3.5" fill="#8335ba"/>
<circle cx="1205.3" cy="559.6" r="3.5" fill="#e0004e"/>
<circle cx="1205.3" cy="557.2" r="3.5" fill="#e0004e"/>
<circle cx="1206.4" cy="535.4" r="3.5" fill="#8335ba"/>
<circle cx="1204.6" cy="557.2" r="3.5" fill="#e0004e"/>
<circle cx="1206.2" cy="566.0" r="3.5" fill="#8c28b0"/>
<circle cx="1205.4" cy="537.1" r="3.5" fill="#be0092"/>
<circle cx="1204.5" cy="544.0" r="3.5" fill="#be0092"/>
<circle cx="1204.8" cy="561.7" r="3.5" fill="#8c28b0"/>
<circle cx="1206.5" cy="542.0" r="3.5" fill="#be0092"/>
<circle cx="1203.7" cy="550.5" r="3.5" fill="#8335ba"/>
<circle cx="1205.5" cy="541.7" r="3.5" fill="#be0092"/>
<circle cx="1206.4" cy="539.7" r="3.5" fill="#be0092"/>
<circle cx="1205.6" cy="565.6" r="3.5" fill="#8c28b0"/>
<circle cx="1206.5" cy="563.8" r="3.5" fill="#8c28b0"/>
<circle cx="1205.1" cy="565.7" r="3.5" fill="#b10699"/>
<circle cx="1204.5" cy="537.6" r="3.5" fill="#e0004e"/>
<circle cx="1205.4" cy="532.8" r="3.5" fill="#8335ba"/>
<circle cx="1208.4" cy="550.8" r="3.5" fill="#8335ba"/>
<circle cx="1206.2" cy="561.4" r="3.5" fill="#8c28b0"/>
<circle cx="1205.0" cy="534.8" r="3.5" fill="#8335ba"/>
<circle cx="1206.8" cy="557.4" r="3.5" fill="#e0004e"/>
<circle cx="1205.6" cy="546.0" r="3.5" fill="#8335ba"/>
<circle cx="1201.5" cy="550.0" r="3.5" fill="#7e3dc0"/>
<circle cx="1203.0" cy="551.0" r="3.5" fill="#8335ba"/>
<circle cx="1210.4" cy="550.5" r="3.5" fill="#4583f4"/>
<circle cx="1209.0" cy="553.0" r="3.5" fill="#447ff2"/>
<circle cx="1208.5" cy="546.5" r="3.5" fill="#4582f4"/>
<circle cx="1313.8" cy="550.0" r="3.5" fill="#4583f4"/>
</g>
<line x1="210.2" y1="600.3" x2="767.0" y2="600.3" stroke="#262626" stroke-width="1.6"/>
<line x1="244.0" y1="600.3" x2="244.0" y2="606.2" stroke="#262626" stroke-width="1.5"/>
<text x="243.4" y="625.3" font-size="17.4" text-anchor="middle" fill="#333333" font-family="'DejaVu Sans','Liberation Sans',sans-serif">−4</text>
<line x1="312.2" y1="600.3" x2="312.2" y2="606.2" stroke="#262626" stroke-width="1.5"/>
<text x="311.6" y="625.3" font-size="17.4" text-anchor="middle" fill="#333333" font-family="'DejaVu Sans','Liberation Sans',sans-serif">−2</text>
<line x1="380.3" y1="600.3" x2="380.3" y2="606.2" stroke="#262626" stroke-width="1.5"/>
<text x="379.7" y="625.3" font-size="17.4" text-anchor="middle" fill="#333333" font-family="'DejaVu Sans','Liberation Sans',sans-serif">0</text>
<line x1="448.5" y1="600.3" x2="448.5" y2="606.2" stroke="#262626" stroke-width="1.5"/>
<text x="447.9" y="625.3" font-size="17.4" text-anchor="middle" fill="#333333" font-family="'DejaVu Sans','Liberation Sans',sans-serif">2</text>
<line x1="516.7" y1="600.3" x2="516.7" y2="606.2" stroke="#262626" stroke-width="1.5"/>
<text x="516.1" y="625.3" font-size="17.4" text-anchor="middle" fill="#333333" font-family="'DejaVu Sans','Liberation Sans',sans-serif">4</text>
<line x1="584.9" y1="600.3" x2="584.9" y2="606.2" stroke="#262626" stroke-width="1.5"/>
<text x="584.3" y="625.3" font-size="17.4" text-anchor="middle" fill="#333333" font-family="'DejaVu Sans','Liberation Sans',sans-serif">6</text>
<line x1="653.1" y1="600.3" x2="653.1" y2="606.2" stroke="#262626" stroke-width="1.5"/>
<text x="652.5" y="625.3" font-size="17.4" text-anchor="middle" fill="#333333" font-family="'DejaVu Sans','Liberation Sans',sans-serif">8</text>
<line x1="721.3" y1="600.3" x2="721.3" y2="606.2" stroke="#262626" stroke-width="1.5"/>
<text x="720.7" y="625.3" font-size="17.4" text-anchor="middle" fill="#333333" font-family="'DejaVu Sans','Liberation Sans',sans-serif">10</text>
<line x1="1110.2" y1="600.3" x2="1667.8" y2="600.3" stroke="#262626" stroke-width="1.6"/>
<line x1="1129.1" y1="600.3" x2="1129.1" y2="606.2" stroke="#262626" stroke-width="1.5"/>
<text x="1128.5" y="625.3" font-size="17.4" text-anchor="middle" fill="#333333" font-family="'DejaVu Sans','Liberation Sans',sans-serif">−10</text>
<line x1="1206.4" y1="600.3" x2="1206.4" y2="606.2" stroke="#262626" stroke-width="1.5"/>
<text x="1205.8" y="625.3" font-size="17.4" text-anchor="middle" fill="#333333" font-family="'DejaVu Sans','Liberation Sans',sans-serif">0</text>
<line x1="1284.4" y1="600.3" x2="1284.4" y2="606.2" stroke="#262626" stroke-width="1.5"/>
<text x="1283.8" y="625.3" font-size="17.4" text-anchor="middle" fill="#333333" font-family="'DejaVu Sans','Liberation Sans',sans-serif">10</text>
<line x1="1362.4" y1="600.3" x2="1362.4" y2="606.2" stroke="#262626" stroke-width="1.5"/>
<text x="1361.8" y="625.3" font-size="17.4" text-anchor="middle" fill="#333333" font-family="'DejaVu Sans','Liberation Sans',sans-serif">20</text>
<line x1="1440.4" y1="600.3" x2="1440.4" y2="606.2" stroke="#262626" stroke-width="1.5"/>
<text x="1439.8" y="625.3" font-size="17.4" text-anchor="middle" fill="#333333" font-family="'DejaVu Sans','Liberation Sans',sans-serif">30</text>
<line x1="1518.6" y1="600.3" x2="1518.6" y2="606.2" stroke="#262626" stroke-width="1.5"/>
<text x="1518.0" y="625.3" font-size="17.4" text-anchor="middle" fill="#333333" font-family="'DejaVu Sans','Liberation Sans',sans-serif">40</text>
<line x1="1596.7" y1="600.3" x2="1596.7" y2="606.2" stroke="#262626" stroke-width="1.5"/>
<text x="1596.1" y="625.3" font-size="17.4" text-anchor="middle" fill="#333333" font-family="'DejaVu Sans','Liberation Sans',sans-serif">50</text>
<text x="171.5" y="70.8" font-size="21" text-anchor="end" fill="#333333" font-family="'DejaVu Sans','Liberation Sans',sans-serif">past_infliximab</text>
<text x="171.5" y="119.8" font-size="21" text-anchor="end" fill="#333333" font-family="'DejaVu Sans','Liberation Sans',sans-serif">days</text>
<text x="171.5" y="168.8" font-size="21" text-anchor="end" fill="#333333" font-family="'DejaVu Sans','Liberation Sans',sans-serif">past_days</text>
<text x="171.5" y="217.8" font-size="21" text-anchor="end" fill="#333333" font-family="'DejaVu Sans','Liberation Sans',sans-serif">height</text>
<text x="171.5" y="266.3" font-size="21" text-anchor="end" fill="#333333" font-family="'DejaVu Sans','Liberation Sans',sans-serif">crp</text>
<text x="171.5" y="315.2" font-size="21" text-anchor="end" fill="#333333" font-family="'DejaVu Sans','Liberation Sans',sans-serif">past_ADA</text>
<text x="171.5" y="363.8" font-size="21" text-anchor="end" fill="#333333" font-family="'DejaVu Sans','Liberation Sans',sans-serif">bw</text>
<text x="171.5" y="412.8" font-size="21" text-anchor="end" fill="#333333" font-family="'DejaVu Sans','Liberation Sans',sans-serif">wbc</text>
<text x="171.5" y="461.8" font-size="21" text-anchor="end" fill="#333333" font-family="'DejaVu Sans','Liberation Sans',sans-serif">alb</text>
<text x="171.5" y="510.8" font-size="21" text-anchor="end" fill="#333333" font-family="'DejaVu Sans','Liberation Sans',sans-serif">age</text>
<text x="171.5" y="559.5" font-size="21" text-anchor="end" fill="#333333" font-family="'DejaVu Sans','Liberation Sans',sans-serif">dose_ratio</text>
<text x="1072.1" y="163.5" font-size="21" text-anchor="end" fill="#333333" font-family="'DejaVu Sans','Liberation Sans',sans-serif">past_ADA</text>
<text x="1072.1" y="213.0" font-size="21" text-anchor="end" fill="#333333" font-family="'DejaVu Sans','Liberation Sans',sans-serif">past_infliximab</text>
<text x="1072.1" y="262.6" font-size="21" text-anchor="end" fill="#333333" font-family="'DejaVu Sans','Liberation Sans',sans-serif">bw</text>
<text x="1072.1" y="311.8" font-size="21" text-anchor="end" fill="#333333" font-family="'DejaVu Sans','Liberation Sans',sans-serif">crp</text>
<text x="1072.1" y="361.2" font-size="21" text-anchor="end" fill="#333333" font-family="'DejaVu Sans','Liberation Sans',sans-serif">wbc</text>
<text x="1072.1" y="410.4" font-size="21" text-anchor="end" fill="#333333" font-family="'DejaVu Sans','Liberation Sans',sans-serif">alb</text>
<text x="1072.1" y="459.8" font-size="21" text-anchor="end" fill="#333333" font-family="'DejaVu Sans','Liberation Sans',sans-serif">height</text>
<text x="1072.1" y="509.1" font-size="21" text-anchor="end" fill="#333333" font-family="'DejaVu Sans','Liberation Sans',sans-serif">past_days</text>
<text x="1072.1" y="558.8" font-size="21" text-anchor="end" fill="#333333" font-family="'DejaVu Sans','Liberation Sans',sans-serif">days</text>
<text x="488.2" y="651.5" font-size="21" text-anchor="middle" fill="#111111" font-family="'DejaVu Sans','Liberation Sans',sans-serif">SHAP value (impact on model output)</text>
<text x="1388.4" y="651.5" font-size="21" text-anchor="middle" fill="#111111" font-family="'DejaVu Sans','Liberation Sans',sans-serif">SHAP value (impact on model output)</text>
<rect x="800.6" y="13.0" width="7.0" height="586.6" fill="url(#cb)"/>
<text x="814.6" y="21.2" font-size="17.7" fill="#000" font-family="'DejaVu Sans','Liberation Sans',sans-serif">High</text>
<text x="814.6" y="607.9" font-size="17.7" fill="#000" font-family="'DejaVu Sans','Liberation Sans',sans-serif">Low</text>
<text transform="translate(869.5 308.5) rotate(-90)" font-size="19.2" text-anchor="middle" fill="#000" font-family="'DejaVu Sans','Liberation Sans',sans-serif">Feature value</text>
<rect x="1701.5" y="105.1" width="6.0" height="494.5" fill="url(#cb)"/>
<text x="1714.3" y="113.3" font-size="17.7" fill="#000" font-family="'DejaVu Sans','Liberation Sans',sans-serif">High</text>
<text x="1714.3" y="607.9" font-size="17.7" fill="#000" font-family="'DejaVu Sans','Liberation Sans',sans-serif">Low</text>
<text transform="translate(1770.0 354.6) rotate(-90)" font-size="19.2" text-anchor="middle" fill="#000" font-family="'DejaVu Sans','Liberation Sans',sans-serif">Feature value</text>
<text x="1.8" y="17.9" font-size="22.6" font-weight="bold" fill="#000" font-family="'Liberation Serif','DejaVu Serif',serif">(A)</text>
<text x="902" y="17.9" font-size="22.8" font-weight="bold" fill="#000" font-family="'Liberation Serif','DejaVu Serif',serif">(B)</text>
</svg>
</body></html>
